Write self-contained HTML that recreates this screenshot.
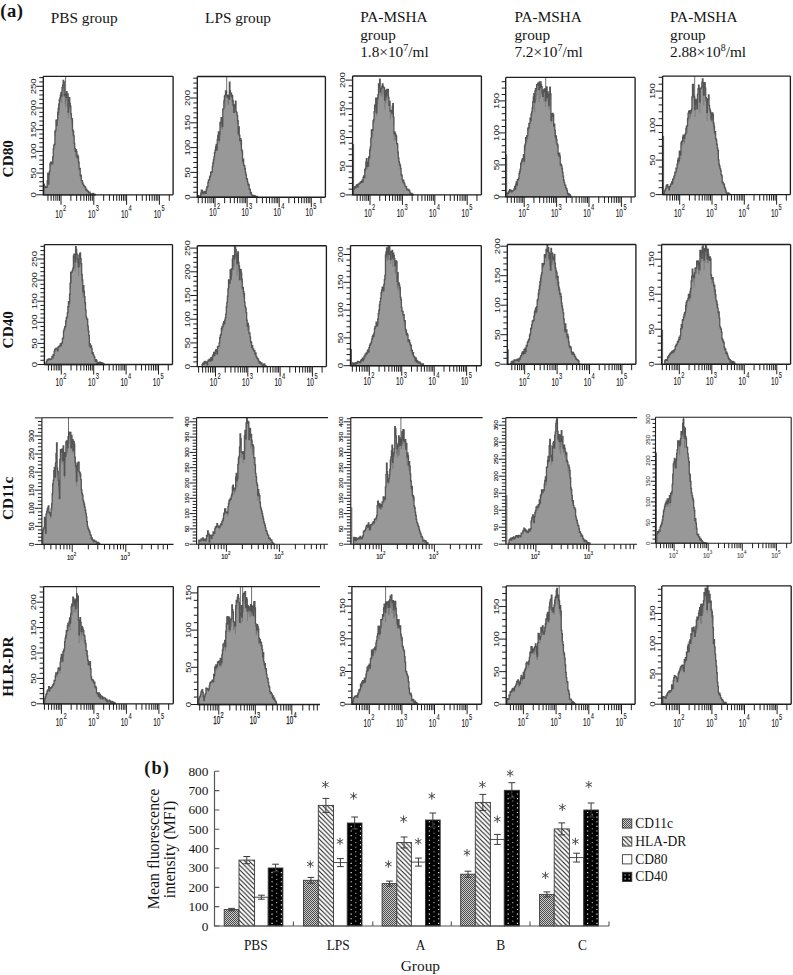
<!DOCTYPE html>
<html><head><meta charset="utf-8"><title>Figure</title>
<style>
html,body{margin:0;padding:0;background:#fff;}
body{width:793px;height:975px;overflow:hidden;}
svg{display:block;font-family:"Liberation Serif",serif;fill:#111;}
svg text{fill:#141414;}
.yl{font-family:"Liberation Sans",sans-serif;font-size:8px;fill:#1a1a1a;stroke:#1a1a1a;stroke-width:0.05px;}
.xl{font-family:"Liberation Sans",sans-serif;font-size:10.6px;fill:#1a1a1a;stroke:#1a1a1a;stroke-width:0.15px;}
.yls{font-family:"Liberation Sans",sans-serif;font-size:6.2px;fill:#111;stroke:#111;stroke-width:0.12px;}
.xl2{font-family:"Liberation Sans",sans-serif;font-size:8px;fill:#111;stroke:#111;stroke-width:0.2px;}
.xs2{font-family:"Liberation Sans",sans-serif;font-size:6.2px;fill:#111;stroke:#111;stroke-width:0.15px;}
.xlm{font-family:"Liberation Sans",sans-serif;font-size:10.4px;fill:#111;stroke:#111;stroke-width:0.25px;}
.xsm{font-family:"Liberation Sans",sans-serif;font-size:8.6px;fill:#111;stroke:#111;stroke-width:0.2px;}
.xs{font-family:"Liberation Sans",sans-serif;font-size:9.3px;fill:#1a1a1a;stroke:#1a1a1a;stroke-width:0.1px;}
</style></head><body>
<svg width="793" height="975" viewBox="0 0 793 975"><rect width="793" height="975" fill="#fff"/>
<path d="M43.9,194.8L43.9,184.21L44.45,184.21L44.45,187.7L45,187.7L45,186.46L45.55,186.46L45.55,187.1L46.1,187.1L46.1,187.14L46.65,187.14L46.65,187.46L47.2,187.46L47.2,180.93L47.75,180.93L47.75,173.03L48.3,173.03L48.3,183.99L48.85,183.99L48.85,174.37L49.4,174.37L49.4,171.47L49.95,171.47L49.95,163.89L50.5,163.89L50.5,162.21L51.05,162.21L51.05,162.27L51.6,162.27L51.6,163.4L52.15,163.4L52.15,163.94L52.7,163.94L52.7,156.89L53.25,156.89L53.25,148.78L53.8,148.78L53.8,145.15L54.35,145.15L54.35,144.31L54.9,144.31L54.9,131.48L55.45,131.48L55.45,130.22L56,130.22L56,120.14L56.55,120.14L56.55,125.43L57.1,125.43L57.1,119.94L57.65,119.94L57.65,112.36L58.2,112.36L58.2,108.29L58.75,108.29L58.75,104.09L59.3,104.09L59.3,99.77L59.85,99.77L59.85,97.78L60.4,97.78L60.4,95L60.95,95L60.95,92.32L61.5,92.32L61.5,96.01L62.05,96.01L62.05,87.55L62.6,87.55L62.6,85.22L63.15,85.22L63.15,80.36L63.7,80.36L63.7,81.97L64.25,81.97L64.25,95.48L64.8,95.48L64.8,94.21L65.35,94.21L65.35,95.84L65.9,95.84L65.9,97.23L66.45,97.23L66.45,91.64L67,91.64L67,97.1L67.55,97.1L67.55,94.02L68.1,94.02L68.1,112.18L68.65,112.18L68.65,97.82L69.2,97.82L69.2,97.71L69.75,97.71L69.75,103.39L70.3,103.39L70.3,106.27L70.85,106.27L70.85,114L71.4,114L71.4,118.37L71.95,118.37L71.95,119L72.5,119L72.5,130.16L73.05,130.16L73.05,131.09L73.6,131.09L73.6,135.88L74.15,135.88L74.15,143.38L74.7,143.38L74.7,148.37L75.25,148.37L75.25,151.4L75.8,151.4L75.8,149.61L76.35,149.61L76.35,151.36L76.9,151.36L76.9,157.48L77.45,157.48L77.45,155.26L78,155.26L78,156.98L78.55,156.98L78.55,162.15L79.1,162.15L79.1,168.78L79.65,168.78L79.65,168.35L80.2,168.35L80.2,175.67L80.75,175.67L80.75,175.22L81.3,175.22L81.3,180.57L81.85,180.57L81.85,180.66L82.4,180.66L82.4,182.98L82.95,182.98L82.95,184.32L83.5,184.32L83.5,185.3L84.05,185.3L84.05,186.13L84.6,186.13L84.6,186.76L85.15,186.76L85.15,187.32L85.7,187.32L85.7,189.9L86.25,189.9L86.25,189.22L86.8,189.22L86.8,190.72L87.35,190.72L87.35,191.08L87.9,191.08L87.9,191.22L88.45,191.22L88.45,192.51L89,192.51L89,192.79L89.55,192.79L89.55,192.21L90.1,192.21L90.1,193.66L90.65,193.66L90.65,194.58L91.2,194.58L91.2,193.98L91.75,193.98L91.75,194.8L92.3,194.8L92.3,193.81L92.85,193.81L92.85,193.34L93.4,193.34L93.4,194.8L93.95,194.8L93.95,194.8L94.5,194.8L94.5,194.12L95.05,194.12L95.25,194.8Z" fill="#989898" stroke="#555555" stroke-width="1.3" stroke-linejoin="miter"/>
<path d="M44.17,184.21v1.22M44.72,187.7v0.71M45.27,186.46v0.88M46.37,187.14v0.69M46.92,187.46v0.36M47.47,180.93v1.39M48.02,173.03v1.46M48.57,183.99v1.05M49.12,174.37v2.27M49.67,171.47v1.1M50.22,163.89v3.02M50.77,162.21v3.33M52.97,156.89v4.47M54.62,144.31v1.86M55.17,131.48v4.39M55.72,130.22v2.67M56.27,120.14v3.64M57.92,112.36v5.07M58.47,108.29v5.98M59.02,104.09v10.82M59.57,99.77v11.03M60.67,95v7.12M61.77,96.01v6.92M62.32,87.55v3.51M63.97,81.97v8.63M65.07,94.21v9.51M65.62,95.84v11.36M66.17,97.23v3.76M67.27,97.1v9.75M67.82,94.02v6.97M68.37,112.18v5.87M69.47,97.71v9.26M70.02,103.39v5.84M71.67,118.37v4.73M72.22,119v6.73M72.77,130.16v5.69M73.32,131.09v5.51M75.52,151.4v5.19M76.07,149.61v4.66M76.62,151.36v3.49M77.72,155.26v3.29M78.27,156.98v4.53M78.82,162.15v3.35M79.37,168.78v1.65M79.92,168.35v2.17M80.47,175.67v1.47M81.02,175.22v1.93M82.12,180.66v0.65M82.67,182.98v1.31M83.22,184.32v0.7M83.77,185.3v0.72M84.32,186.13v0.96M85.97,189.9v0.25M86.52,189.22v0.41M87.07,190.72v0.19M87.62,191.08v0.3" stroke="#555" stroke-width="0.55" fill="none" opacity="0.75"/>
<line x1="65.6" y1="76.3" x2="65.6" y2="95.83" stroke="#4a4a4a" stroke-width="0.8"/>
<path d="M43.3,76.3H173.1M43.3,76.3V194.8H173.1" fill="none" stroke="#1e1e1e" stroke-width="1.35"/>
<line x1="173.1" y1="76.3" x2="173.1" y2="194.8" stroke="#1e1e1e" stroke-width="1.35"/>
<path d="M36.3,194.8H43.3M39.3,190.46H43.3M39.3,186.12H43.3M39.3,181.78H43.3M39.3,177.44H43.3M36.3,173.1H43.3M39.3,168.76H43.3M39.3,164.42H43.3M39.3,160.08H43.3M39.3,155.74H43.3M36.3,151.4H43.3M39.3,147.06H43.3M39.3,142.72H43.3M39.3,138.38H43.3M39.3,134.04H43.3M36.3,129.7H43.3M39.3,125.36H43.3M39.3,121.02H43.3M39.3,116.68H43.3M39.3,112.34H43.3M36.3,108H43.3M39.3,103.66H43.3M39.3,99.32H43.3M39.3,94.98H43.3M39.3,90.64H43.3M36.3,86.3H43.3M39.3,81.96H43.3M39.3,77.62H43.3" stroke="#1e1e1e" stroke-width="1" fill="none"/>
<text transform="translate(36.1,194.8) rotate(-90) scale(1.2,0.93)" text-anchor="middle" class="yl">0</text>
<text transform="translate(36.1,173.1) rotate(-90) scale(1.2,0.93)" text-anchor="middle" class="yl">50</text>
<text transform="translate(36.1,151.4) rotate(-90) scale(1.2,0.93)" text-anchor="middle" class="yl">100</text>
<text transform="translate(36.1,129.7) rotate(-90) scale(1.2,0.93)" text-anchor="middle" class="yl">150</text>
<text transform="translate(36.1,108) rotate(-90) scale(1.2,0.93)" text-anchor="middle" class="yl">200</text>
<text transform="translate(36.1,86.3) rotate(-90) scale(1.2,0.93)" text-anchor="middle" class="yl">250</text>
<path d="M47.95,194.8V200.8M51.13,194.8V200.8M53.72,194.8V200.8M55.92,194.8V200.8M57.82,194.8V200.8M59.5,194.8V200.8M61,194.8V204.8M70.87,194.8V200.8M76.65,194.8V200.8M80.75,194.8V200.8M83.93,194.8V200.8M86.52,194.8V200.8M88.72,194.8V200.8M90.62,194.8V200.8M92.3,194.8V200.8M93.8,194.8V204.8M103.67,194.8V200.8M109.45,194.8V200.8M113.55,194.8V200.8M116.73,194.8V200.8M119.32,194.8V200.8M121.52,194.8V200.8M123.42,194.8V200.8M125.1,194.8V200.8M126.6,194.8V204.8M136.47,194.8V200.8M142.25,194.8V200.8M146.35,194.8V200.8M149.53,194.8V200.8M152.12,194.8V200.8M154.32,194.8V200.8M156.22,194.8V200.8M157.9,194.8V200.8M159.4,194.8V204.8M169.27,194.8V200.8" stroke="#1e1e1e" stroke-width="1" fill="none"/>
<text x="62.6" y="217.9" class="xl" text-anchor="end" transform="translate(62.6,0) scale(0.62,1) translate(-62.6,0)">10</text>
<text x="63" y="210.9" class="xs" transform="translate(63,0) scale(0.62,1) translate(-63,0)">2</text>
<text x="95.4" y="217.9" class="xl" text-anchor="end" transform="translate(95.4,0) scale(0.62,1) translate(-95.4,0)">10</text>
<text x="95.8" y="210.9" class="xs" transform="translate(95.8,0) scale(0.62,1) translate(-95.8,0)">3</text>
<text x="128.2" y="217.9" class="xl" text-anchor="end" transform="translate(128.2,0) scale(0.62,1) translate(-128.2,0)">10</text>
<text x="128.6" y="210.9" class="xs" transform="translate(128.6,0) scale(0.62,1) translate(-128.6,0)">4</text>
<text x="161" y="217.9" class="xl" text-anchor="end" transform="translate(161,0) scale(0.62,1) translate(-161,0)">10</text>
<text x="161.4" y="210.9" class="xs" transform="translate(161.4,0) scale(0.62,1) translate(-161.4,0)">5</text>
<path d="M198,197.2L198,195.55L198.55,195.55L198.55,196.78L199.1,196.78L199.1,196.38L199.65,196.38L199.65,196.47L200.2,196.47L200.2,195.63L200.75,195.63L200.75,193.13L201.3,193.13L201.3,190.23L201.85,190.23L201.85,190.39L202.4,190.39L202.4,192.33L202.95,192.33L202.95,193.83L203.5,193.83L203.5,192.83L204.05,192.83L204.05,191.45L204.6,191.45L204.6,191.57L205.15,191.57L205.15,192.81L205.7,192.81L205.7,193.39L206.25,193.39L206.25,189.52L206.8,189.52L206.8,186.78L207.35,186.78L207.35,186.7L207.9,186.7L207.9,182.36L208.45,182.36L208.45,179.9L209,179.9L209,179.89L209.55,179.89L209.55,176.87L210.1,176.87L210.1,175.86L210.65,175.86L210.65,172.75L211.2,172.75L211.2,171.72L211.75,171.72L211.75,171.95L212.3,171.95L212.3,166.65L212.85,166.65L212.85,162.78L213.4,162.78L213.4,159.78L213.95,159.78L213.95,156.91L214.5,156.91L214.5,152.57L215.05,152.57L215.05,150.23L215.6,150.23L215.6,146.8L216.15,146.8L216.15,144.5L216.7,144.5L216.7,149.84L217.25,149.84L217.25,139.41L217.8,139.41L217.8,135.45L218.35,135.45L218.35,131.89L218.9,131.89L218.9,140.27L219.45,140.27L219.45,134.21L220,134.21L220,122.45L220.55,122.45L220.55,123.2L221.1,123.2L221.1,117.77L221.65,117.77L221.65,119.26L222.2,119.26L222.2,126.23L222.75,126.23L222.75,109.06L223.3,109.06L223.3,108.81L223.85,108.81L223.85,100.82L224.4,100.82L224.4,96.13L224.95,96.13L224.95,95.51L225.5,95.51L225.5,90.85L226.05,90.85L226.05,91.92L226.6,91.92L226.6,95.3L227.15,95.3L227.15,97.38L227.7,97.38L227.7,96.29L228.25,96.29L228.25,95.13L228.8,95.13L228.8,99.01L229.35,99.01L229.35,82.12L229.9,82.12L229.9,90.67L230.45,90.67L230.45,93.27L231,93.27L231,93.23L231.55,93.23L231.55,96.62L232.1,96.62L232.1,95.52L232.65,95.52L232.65,100.37L233.2,100.37L233.2,105.15L233.75,105.15L233.75,112.31L234.3,112.31L234.3,107.17L234.85,107.17L234.85,104.61L235.4,104.61L235.4,101.14L235.95,101.14L235.95,111.32L236.5,111.32L236.5,112.57L237.05,112.57L237.05,115.29L237.6,115.29L237.6,120.65L238.15,120.65L238.15,133.23L238.7,133.23L238.7,126.84L239.25,126.84L239.25,135.2L239.8,135.2L239.8,140.36L240.35,140.36L240.35,138.73L240.9,138.73L240.9,140.59L241.45,140.59L241.45,149.83L242,149.83L242,151.1L242.55,151.1L242.55,161.01L243.1,161.01L243.1,159.23L243.65,159.23L243.65,165.16L244.2,165.16L244.2,165.74L244.75,165.74L244.75,168.49L245.3,168.49L245.3,172.48L245.85,172.48L245.85,174.84L246.4,174.84L246.4,178.64L246.95,178.64L246.95,179.01L247.5,179.01L247.5,182.34L248.05,182.34L248.05,185.07L248.6,185.07L248.6,184.33L249.15,184.33L249.15,188.89L249.7,188.89L249.7,189.43L250.25,189.43L250.25,193.01L250.8,193.01L250.8,192.28L251.35,192.28L251.35,194.36L251.9,194.36L251.9,195.43L252.45,195.43L252.45,196.27L253,196.27L253,195.51L253.55,195.51L253.55,195.77L254.1,195.77L254.1,196.52L254.65,196.52L254.65,195.59L255.2,195.59L255.2,196.77L255.75,196.77L255.75,196.9L256.3,196.9L256.3,197.2L256.85,197.2L256.85,196.32L257.4,196.32L257.55,197.2Z" fill="#989898" stroke="#555555" stroke-width="1.3" stroke-linejoin="miter"/>
<path d="M201.03,193.13v0.37M201.58,190.23v0.72M202.13,190.39v0.41M202.68,192.33v0.27M203.23,193.83v0.2M203.78,192.83v0.36M204.88,191.57v0.67M205.43,192.81v0.14M206.53,189.52v0.43M207.63,186.7v1.19M208.18,182.36v1.12M208.73,179.9v1.21M209.83,176.87v2.44M210.38,175.86v2.21M210.93,172.75v1.69M212.03,171.95v1.13M213.13,162.78v3.15M213.68,159.78v3.76M214.78,152.57v2.17M215.33,150.23v1.94M215.88,146.8v3.99M216.43,144.5v5.95M218.08,135.45v2.15M219.18,140.27v3.07M219.73,134.21v1.93M220.28,122.45v4.07M220.83,123.2v5.05M221.38,117.77v3.96M221.93,119.26v7.54M222.48,126.23v3.26M224.68,96.13v7.78M225.23,95.51v12.1M227.98,96.29v8.43M228.53,95.13v9.7M229.63,82.12v12.79M230.18,90.67v9.13M230.73,93.27v3.78M231.28,93.23v3.84M231.83,96.62v5.77M232.38,95.52v10.72M232.93,100.37v4.74M233.48,105.15v5.25M235.68,101.14v9.7M237.33,115.29v8.37M237.88,120.65v4.09M238.43,133.23v2.85M239.53,135.2v6.34M240.63,138.73v6.11M241.18,140.59v3.93M241.73,149.83v3.81M242.83,161.01v2.33M243.38,159.23v3.91M243.93,165.16v1.08M245.03,168.49v1.68M246.13,174.84v1.17M246.68,178.64v1.13M247.23,179.01v2.06M248.33,185.07v1.17M248.88,184.33v0.79M249.43,188.89v0.43M249.98,189.43v0.65M251.08,192.28v0.57" stroke="#555" stroke-width="0.55" fill="none" opacity="0.75"/>
<line x1="226.7" y1="76.5" x2="226.7" y2="92.9" stroke="#4a4a4a" stroke-width="0.8"/>
<path d="M197.3,76.5H325.4M197.3,76.5V197.2H325.4" fill="none" stroke="#1e1e1e" stroke-width="1.35"/>
<line x1="325.4" y1="76.5" x2="325.4" y2="197.2" stroke="#1e1e1e" stroke-width="1.35"/>
<path d="M190.3,197.2H197.3M193.3,192.24H197.3M193.3,187.28H197.3M193.3,182.32H197.3M193.3,177.36H197.3M190.3,172.4H197.3M193.3,167.44H197.3M193.3,162.48H197.3M193.3,157.52H197.3M193.3,152.56H197.3M190.3,147.6H197.3M193.3,142.64H197.3M193.3,137.68H197.3M193.3,132.72H197.3M193.3,127.76H197.3M190.3,122.8H197.3M193.3,117.84H197.3M193.3,112.88H197.3M193.3,107.92H197.3M193.3,102.96H197.3M190.3,98H197.3M193.3,93.04H197.3M193.3,88.08H197.3M193.3,83.12H197.3M193.3,78.16H197.3" stroke="#1e1e1e" stroke-width="1" fill="none"/>
<text transform="translate(190.1,197.2) rotate(-90) scale(1.2,0.93)" text-anchor="middle" class="yl">0</text>
<text transform="translate(190.1,172.4) rotate(-90) scale(1.2,0.93)" text-anchor="middle" class="yl">50</text>
<text transform="translate(190.1,147.6) rotate(-90) scale(1.2,0.93)" text-anchor="middle" class="yl">100</text>
<text transform="translate(190.1,122.8) rotate(-90) scale(1.2,0.93)" text-anchor="middle" class="yl">150</text>
<text transform="translate(190.1,98) rotate(-90) scale(1.2,0.93)" text-anchor="middle" class="yl">200</text>
<path d="M198.22,197.2V203.2M202.23,197.2V203.2M205.34,197.2V203.2M207.88,197.2V203.2M210.03,197.2V203.2M211.89,197.2V203.2M213.53,197.2V203.2M215,197.2V207.2M224.66,197.2V203.2M230.32,197.2V203.2M234.33,197.2V203.2M237.44,197.2V203.2M239.98,197.2V203.2M242.13,197.2V203.2M243.99,197.2V203.2M245.63,197.2V203.2M247.1,197.2V207.2M256.76,197.2V203.2M262.42,197.2V203.2M266.43,197.2V203.2M269.54,197.2V203.2M272.08,197.2V203.2M274.23,197.2V203.2M276.09,197.2V203.2M277.73,197.2V203.2M279.2,197.2V207.2M288.86,197.2V203.2M294.52,197.2V203.2M298.53,197.2V203.2M301.64,197.2V203.2M304.18,197.2V203.2M306.33,197.2V203.2M308.19,197.2V203.2M309.83,197.2V203.2M311.3,197.2V207.2M320.96,197.2V203.2" stroke="#1e1e1e" stroke-width="1" fill="none"/>
<text x="216.6" y="216.2" class="xl" text-anchor="end" transform="translate(216.6,0) scale(0.62,1) translate(-216.6,0)">10</text>
<text x="217" y="209.2" class="xs" transform="translate(217,0) scale(0.62,1) translate(-217,0)">2</text>
<text x="248.7" y="216.2" class="xl" text-anchor="end" transform="translate(248.7,0) scale(0.62,1) translate(-248.7,0)">10</text>
<text x="249.1" y="209.2" class="xs" transform="translate(249.1,0) scale(0.62,1) translate(-249.1,0)">3</text>
<text x="280.8" y="216.2" class="xl" text-anchor="end" transform="translate(280.8,0) scale(0.62,1) translate(-280.8,0)">10</text>
<text x="281.2" y="209.2" class="xs" transform="translate(281.2,0) scale(0.62,1) translate(-281.2,0)">4</text>
<text x="312.9" y="216.2" class="xl" text-anchor="end" transform="translate(312.9,0) scale(0.62,1) translate(-312.9,0)">10</text>
<text x="313.3" y="209.2" class="xs" transform="translate(313.3,0) scale(0.62,1) translate(-313.3,0)">5</text>
<path d="M353.2,194.9L353.2,188.32L353.75,188.32L353.75,188.83L354.3,188.83L354.3,187.28L354.85,187.28L354.85,186.62L355.4,186.62L355.4,187.92L355.95,187.92L355.95,185.92L356.5,185.92L356.5,185.11L357.05,185.11L357.05,184.53L357.6,184.53L357.6,186.96L358.15,186.96L358.15,184.15L358.7,184.15L358.7,184L359.25,184L359.25,183.26L359.8,183.26L359.8,183.42L360.35,183.42L360.35,181.82L360.9,181.82L360.9,182.29L361.45,182.29L361.45,181.59L362,181.59L362,180.17L362.55,180.17L362.55,182.17L363.1,182.17L363.1,177.36L363.65,177.36L363.65,176.01L364.2,176.01L364.2,177.6L364.75,177.6L364.75,169.55L365.3,169.55L365.3,168.48L365.85,168.48L365.85,162.23L366.4,162.23L366.4,158.6L366.95,158.6L366.95,166.43L367.5,166.43L367.5,162.15L368.05,162.15L368.05,166.09L368.6,166.09L368.6,156.99L369.15,156.99L369.15,157.33L369.7,157.33L369.7,149.95L370.25,149.95L370.25,147.1L370.8,147.1L370.8,138.31L371.35,138.31L371.35,130.17L371.9,130.17L371.9,129.74L372.45,129.74L372.45,130.23L373,130.23L373,121.01L373.55,121.01L373.55,119.54L374.1,119.54L374.1,111.61L374.65,111.61L374.65,105.52L375.2,105.52L375.2,104.52L375.75,104.52L375.75,98.22L376.3,98.22L376.3,112.79L376.85,112.79L376.85,98.93L377.4,98.93L377.4,97.96L377.95,97.96L377.95,94.6L378.5,94.6L378.5,83.85L379.05,83.85L379.05,87.04L379.6,87.04L379.6,79.23L380.15,79.23L380.15,92.12L380.7,92.12L380.7,89.05L381.25,89.05L381.25,88.29L381.8,88.29L381.8,86.28L382.35,86.28L382.35,83.9L382.9,83.9L382.9,86.03L383.45,86.03L383.45,87.41L384,87.41L384,87.93L384.55,87.93L384.55,100.11L385.1,100.11L385.1,90.48L385.65,90.48L385.65,96.8L386.2,96.8L386.2,95.38L386.75,95.38L386.75,89.35L387.3,89.35L387.3,91.66L387.85,91.66L387.85,89.46L388.4,89.46L388.4,97.5L388.95,97.5L388.95,105.36L389.5,105.36L389.5,101.36L390.05,101.36L390.05,111.12L390.6,111.12L390.6,111.05L391.15,111.05L391.15,110.45L391.7,110.45L391.7,113.01L392.25,113.01L392.25,106.04L392.8,106.04L392.8,103.65L393.35,103.65L393.35,117.21L393.9,117.21L393.9,133.57L394.45,133.57L394.45,131.89L395,131.89L395,133.36L395.55,133.36L395.55,135.02L396.1,135.02L396.1,136.24L396.65,136.24L396.65,143.66L397.2,143.66L397.2,143.84L397.75,143.84L397.75,152.16L398.3,152.16L398.3,157.82L398.85,157.82L398.85,161.66L399.4,161.66L399.4,163.94L399.95,163.94L399.95,165.06L400.5,165.06L400.5,168.5L401.05,168.5L401.05,174.49L401.6,174.49L401.6,175.52L402.15,175.52L402.15,179.57L402.7,179.57L402.7,181.52L403.25,181.52L403.25,180.41L403.8,180.41L403.8,182.92L404.35,182.92L404.35,183.87L404.9,183.87L404.9,186.22L405.45,186.22L405.45,186.53L406,186.53L406,186.68L406.55,186.68L406.55,189.02L407.1,189.02L407.1,189.57L407.65,189.57L407.65,189.78L408.2,189.78L408.2,189.32L408.75,189.32L408.75,190.11L409.3,190.11L409.3,190.9L409.85,190.9L409.85,192.89L410.4,192.89L410.4,193.92L410.95,193.92L410.95,194.9L411.5,194.9L411.5,193.47L412.05,193.47L412.05,194.06L412.6,194.06L412.6,194.41L413.15,194.41L413.25,194.9Z" fill="#989898" stroke="#555555" stroke-width="1.3" stroke-linejoin="miter"/>
<path d="M353.48,188.32v0.4M354.03,188.83v0.63M355.13,186.62v0.56M355.68,187.92v0.48M357.33,184.53v0.51M357.88,186.96v0.48M358.43,184.15v1.22M360.08,183.42v0.45M360.63,181.82v1.45M361.73,181.59v1.44M362.28,180.17v1.47M363.93,176.01v2.18M365.03,169.55v2.98M365.58,168.48v2.3M366.68,158.6v4.31M367.23,166.43v2.77M368.88,156.99v3.34M369.43,157.33v2.43M369.98,149.95v3.09M370.53,147.1v3.01M372.18,129.74v7.37M372.73,130.23v7.34M373.83,119.54v3.82M374.93,105.52v3.27M375.48,104.52v4.65M376.03,98.22v8.75M376.58,112.79v2.95M377.13,98.93v9.86M377.68,97.96v5.72M378.23,94.6v5.48M378.78,83.85v5.13M379.33,87.04v6.72M379.88,79.23v4.39M380.98,89.05v6.82M382.08,86.28v10.82M382.63,83.9v3.98M383.18,86.03v8.71M384.83,100.11v9.55M385.38,90.48v8.84M385.93,96.8v6.76M387.03,89.35v10.78M388.13,89.46v5.75M390.33,111.12v8.39M391.43,110.45v2.62M391.98,113.01v2.95M392.53,106.04v2.83M393.63,117.21v8M394.18,133.57v7.13M394.73,131.89v4.26M395.28,133.36v6.9M395.83,135.02v6.19M397.48,143.84v5.58M398.03,152.16v2.85M398.58,157.82v3.51M399.13,161.66v1.3M399.68,163.94v2.67M400.23,165.06v1.54M401.33,174.49v1.66M402.98,181.52v0.94M403.53,180.41v1.57M404.08,182.92v1.08M405.18,186.22v0.67M405.73,186.53v0.41M406.28,186.68v0.29M407.38,189.57v0.2M407.93,189.78v0.23M408.48,189.32v0.47M409.03,190.11v0.54M409.58,190.9v0.4" stroke="#555" stroke-width="0.55" fill="none" opacity="0.75"/>
<line x1="353.6" y1="144" x2="353.6" y2="194.9" stroke="#555" stroke-width="0.9"/>
<path d="M352.6,76H481.4M352.6,76V194.9H481.4" fill="none" stroke="#1e1e1e" stroke-width="1.35"/>
<line x1="481.4" y1="76" x2="481.4" y2="194.9" stroke="#1e1e1e" stroke-width="1.35"/>
<path d="M345.6,194.9H352.6M348.6,189.16H352.6M348.6,183.42H352.6M348.6,177.68H352.6M348.6,171.94H352.6M345.6,166.2H352.6M348.6,160.46H352.6M348.6,154.72H352.6M348.6,148.98H352.6M348.6,143.24H352.6M345.6,137.5H352.6M348.6,131.76H352.6M348.6,126.02H352.6M348.6,120.28H352.6M348.6,114.54H352.6M345.6,108.8H352.6M348.6,103.06H352.6M348.6,97.32H352.6M348.6,91.58H352.6M348.6,85.84H352.6M345.6,80.1H352.6" stroke="#1e1e1e" stroke-width="1" fill="none"/>
<text transform="translate(345.4,194.9) rotate(-90) scale(1.2,0.93)" text-anchor="middle" class="yl">0</text>
<text transform="translate(345.4,166.2) rotate(-90) scale(1.2,0.93)" text-anchor="middle" class="yl">50</text>
<text transform="translate(345.4,137.5) rotate(-90) scale(1.2,0.93)" text-anchor="middle" class="yl">100</text>
<text transform="translate(345.4,108.8) rotate(-90) scale(1.2,0.93)" text-anchor="middle" class="yl">150</text>
<text transform="translate(345.4,80.1) rotate(-90) scale(1.2,0.93)" text-anchor="middle" class="yl">200</text>
<path d="M357.11,194.9V200.9M360.25,194.9V200.9M362.81,194.9V200.9M364.98,194.9V200.9M366.86,194.9V200.9M368.52,194.9V200.9M370,194.9V204.9M379.75,194.9V200.9M385.46,194.9V200.9M389.51,194.9V200.9M392.65,194.9V200.9M395.21,194.9V200.9M397.38,194.9V200.9M399.26,194.9V200.9M400.92,194.9V200.9M402.4,194.9V204.9M412.15,194.9V200.9M417.86,194.9V200.9M421.91,194.9V200.9M425.05,194.9V200.9M427.61,194.9V200.9M429.78,194.9V200.9M431.66,194.9V200.9M433.32,194.9V200.9M434.8,194.9V204.9M444.55,194.9V200.9M450.26,194.9V200.9M454.31,194.9V200.9M457.45,194.9V200.9M460.01,194.9V200.9M462.18,194.9V200.9M464.06,194.9V200.9M465.72,194.9V200.9M467.2,194.9V204.9M476.95,194.9V200.9" stroke="#1e1e1e" stroke-width="1" fill="none"/>
<text x="371.6" y="217.2" class="xl" text-anchor="end" transform="translate(371.6,0) scale(0.62,1) translate(-371.6,0)">10</text>
<text x="372" y="210.2" class="xs" transform="translate(372,0) scale(0.62,1) translate(-372,0)">2</text>
<text x="404" y="217.2" class="xl" text-anchor="end" transform="translate(404,0) scale(0.62,1) translate(-404,0)">10</text>
<text x="404.4" y="210.2" class="xs" transform="translate(404.4,0) scale(0.62,1) translate(-404.4,0)">3</text>
<text x="436.4" y="217.2" class="xl" text-anchor="end" transform="translate(436.4,0) scale(0.62,1) translate(-436.4,0)">10</text>
<text x="436.8" y="210.2" class="xs" transform="translate(436.8,0) scale(0.62,1) translate(-436.8,0)">4</text>
<text x="468.8" y="217.2" class="xl" text-anchor="end" transform="translate(468.8,0) scale(0.62,1) translate(-468.8,0)">10</text>
<text x="469.2" y="210.2" class="xs" transform="translate(469.2,0) scale(0.62,1) translate(-469.2,0)">5</text>
<path d="M506.9,196.9L506.9,192.93L507.45,192.93L507.45,193.62L508,193.62L508,193.25L508.55,193.25L508.55,191.05L509.1,191.05L509.1,191.86L509.65,191.86L509.65,189.61L510.2,189.61L510.2,190.66L510.75,190.66L510.75,190.42L511.3,190.42L511.3,191.92L511.85,191.92L511.85,191.22L512.4,191.22L512.4,191.11L512.95,191.11L512.95,190.43L513.5,190.43L513.5,190.44L514.05,190.44L514.05,188.54L514.6,188.54L514.6,186.28L515.15,186.28L515.15,189.21L515.7,189.21L515.7,184.09L516.25,184.09L516.25,181.89L516.8,181.89L516.8,185.08L517.35,185.08L517.35,179.66L517.9,179.66L517.9,179.81L518.45,179.81L518.45,178.21L519,178.21L519,173.65L519.55,173.65L519.55,171.52L520.1,171.52L520.1,169.16L520.65,169.16L520.65,163.55L521.2,163.55L521.2,162.12L521.75,162.12L521.75,160.04L522.3,160.04L522.3,158.67L522.85,158.67L522.85,159.96L523.4,159.96L523.4,154.69L523.95,154.69L523.95,161.15L524.5,161.15L524.5,146.26L525.05,146.26L525.05,144.04L525.6,144.04L525.6,137.76L526.15,137.76L526.15,137.59L526.7,137.59L526.7,135.88L527.25,135.88L527.25,135.55L527.8,135.55L527.8,128.18L528.35,128.18L528.35,127.97L528.9,127.97L528.9,123.52L529.45,123.52L529.45,123.28L530,123.28L530,118.05L530.55,118.05L530.55,120.19L531.1,120.19L531.1,114L531.65,114L531.65,111.85L532.2,111.85L532.2,107.95L532.75,107.95L532.75,101.58L533.3,101.58L533.3,97L533.85,97L533.85,93.54L534.4,93.54L534.4,102.08L534.95,102.08L534.95,90.83L535.5,90.83L535.5,88.55L536.05,88.55L536.05,90.19L536.6,90.19L536.6,84.61L537.15,84.61L537.15,84.93L537.7,84.93L537.7,83.34L538.25,83.34L538.25,82.91L538.8,82.91L538.8,89.36L539.35,89.36L539.35,81.89L539.9,81.89L539.9,87.46L540.45,87.46L540.45,81.82L541,81.82L541,84.91L541.55,84.91L541.55,86.75L542.1,86.75L542.1,93.53L542.65,93.53L542.65,96.3L543.2,96.3L543.2,89.91L543.75,89.91L543.75,91.52L544.3,91.52L544.3,88.86L544.85,88.86L544.85,88.79L545.4,88.79L545.4,100.65L545.95,100.65L545.95,93.41L546.5,93.41L546.5,87L547.05,87L547.05,97.58L547.6,97.58L547.6,91.96L548.15,91.96L548.15,95.22L548.7,95.22L548.7,105.68L549.25,105.68L549.25,94.37L549.8,94.37L549.8,87.03L550.35,87.03L550.35,93.81L550.9,93.81L550.9,120.3L551.45,120.3L551.45,113.64L552,113.64L552,116.25L552.55,116.25L552.55,113.32L553.1,113.32L553.1,114.74L553.65,114.74L553.65,126.18L554.2,126.18L554.2,124.04L554.75,124.04L554.75,130.21L555.3,130.21L555.3,137.2L555.85,137.2L555.85,135.88L556.4,135.88L556.4,139.47L556.95,139.47L556.95,143.85L557.5,143.85L557.5,144.96L558.05,144.96L558.05,154.12L558.6,154.12L558.6,155.84L559.15,155.84L559.15,153.13L559.7,153.13L559.7,156.21L560.25,156.21L560.25,164.81L560.8,164.81L560.8,164.22L561.35,164.22L561.35,165.68L561.9,165.68L561.9,168.48L562.45,168.48L562.45,172.48L563,172.48L563,176.2L563.55,176.2L563.55,180.27L564.1,180.27L564.1,182.5L564.65,182.5L564.65,185.08L565.2,185.08L565.2,185.2L565.75,185.2L565.75,187.79L566.3,187.79L566.3,188.64L566.85,188.64L566.85,190.44L567.4,190.44L567.4,193.1L567.95,193.1L567.95,194.69L568.5,194.69L568.5,193.59L569.05,193.59L569.05,195.1L569.6,195.1L569.6,194.77L570.15,194.77L570.15,195.66L570.7,195.66L570.7,196.9L571.25,196.9L571.45,196.9Z" fill="#989898" stroke="#555555" stroke-width="1.3" stroke-linejoin="miter"/>
<path d="M507.17,192.93v0.45M507.72,193.62v0.34M509.38,191.86v0.6M509.93,189.61v0.85M512.13,191.22v0.39M512.68,191.11v0.32M515.42,189.21v0.65M515.97,184.09v0.96M516.52,181.89v0.93M517.07,185.08v1.32M518.17,179.81v0.68M518.72,178.21v0.97M519.27,173.65v1.09M519.82,171.52v1.95M520.37,169.16v3.05M520.92,163.55v2.39M521.47,162.12v1.4M522.02,160.04v1.67M522.57,158.67v3.08M523.67,154.69v3.82M524.22,161.15v3.89M525.32,144.04v6.1M525.87,137.76v6.41M526.42,137.59v3.52M526.97,135.88v6.16M527.52,135.55v3.49M528.07,128.18v3.76M528.62,127.97v3M529.17,123.52v3.02M529.72,123.28v5.82M531.37,114v7.94M532.47,107.95v3.36M533.57,97v3.1M534.67,102.08v10.06M535.22,90.83v12.46M536.32,90.19v9.76M536.87,84.61v11.23M538.52,82.91v3.85M539.07,89.36v12.87M540.17,87.46v11.1M540.72,81.82v7.31M541.27,84.91v5.25M543.47,89.91v7.16M544.02,91.52v10.71M545.12,88.79v3.51M545.67,100.65v6.23M546.77,87v8.13M547.32,97.58v3.53M548.97,105.68v3.48M549.52,94.37v9.75M550.07,87.03v9.75M550.62,93.81v5.81M551.17,120.3v2.73M552.27,116.25v4.94M553.37,114.74v6.29M554.47,124.04v3.72M555.02,130.21v6.2M555.57,137.2v6M557.22,143.85v1.87M557.77,144.96v3.6M559.42,153.13v2.73M559.97,156.21v1.5M561.07,164.22v3.08M562.17,168.48v2.08M564.92,185.08v0.45M565.47,185.2v1.18M566.02,187.79v1.02M566.57,188.64v0.56M567.67,193.1v0.34M568.77,193.59v0.2" stroke="#555" stroke-width="0.55" fill="none" opacity="0.75"/>
<line x1="545.7" y1="77.4" x2="545.7" y2="92" stroke="#4a4a4a" stroke-width="0.8"/>
<line x1="506.7" y1="154.2" x2="506.7" y2="196.9" stroke="#555" stroke-width="0.9"/>
<path d="M505.7,77.4H635.1M505.7,77.4V196.9H635.1" fill="none" stroke="#1e1e1e" stroke-width="1.35"/>
<line x1="635.1" y1="77.4" x2="635.1" y2="196.9" stroke="#1e1e1e" stroke-width="1.35"/>
<path d="M498.7,196.9H505.7M501.7,190.5H505.7M501.7,184.1H505.7M501.7,177.7H505.7M501.7,171.3H505.7M498.7,164.9H505.7M501.7,158.5H505.7M501.7,152.1H505.7M501.7,145.7H505.7M501.7,139.3H505.7M498.7,132.9H505.7M501.7,126.5H505.7M501.7,120.1H505.7M501.7,113.7H505.7M501.7,107.3H505.7M498.7,100.9H505.7M501.7,94.5H505.7M501.7,88.1H505.7M501.7,81.7H505.7" stroke="#1e1e1e" stroke-width="1" fill="none"/>
<text transform="translate(498.5,196.9) rotate(-90) scale(1.2,0.93)" text-anchor="middle" class="yl">0</text>
<text transform="translate(498.5,164.9) rotate(-90) scale(1.2,0.93)" text-anchor="middle" class="yl">50</text>
<text transform="translate(498.5,132.9) rotate(-90) scale(1.2,0.93)" text-anchor="middle" class="yl">100</text>
<text transform="translate(498.5,100.9) rotate(-90) scale(1.2,0.93)" text-anchor="middle" class="yl">150</text>
<path d="M507.26,196.9V202.9M511.31,196.9V202.9M514.45,196.9V202.9M517.01,196.9V202.9M519.18,196.9V202.9M521.06,196.9V202.9M522.72,196.9V202.9M524.2,196.9V206.9M533.95,196.9V202.9M539.66,196.9V202.9M543.71,196.9V202.9M546.85,196.9V202.9M549.41,196.9V202.9M551.58,196.9V202.9M553.46,196.9V202.9M555.12,196.9V202.9M556.6,196.9V206.9M566.35,196.9V202.9M572.06,196.9V202.9M576.11,196.9V202.9M579.25,196.9V202.9M581.81,196.9V202.9M583.98,196.9V202.9M585.86,196.9V202.9M587.52,196.9V202.9M589,196.9V206.9M598.75,196.9V202.9M604.46,196.9V202.9M608.51,196.9V202.9M611.65,196.9V202.9M614.21,196.9V202.9M616.38,196.9V202.9M618.26,196.9V202.9M619.92,196.9V202.9M621.4,196.9V206.9M631.15,196.9V202.9" stroke="#1e1e1e" stroke-width="1" fill="none"/>
<text x="525.8" y="217" class="xl" text-anchor="end" transform="translate(525.8,0) scale(0.62,1) translate(-525.8,0)">10</text>
<text x="526.2" y="210" class="xs" transform="translate(526.2,0) scale(0.62,1) translate(-526.2,0)">2</text>
<text x="558.2" y="217" class="xl" text-anchor="end" transform="translate(558.2,0) scale(0.62,1) translate(-558.2,0)">10</text>
<text x="558.6" y="210" class="xs" transform="translate(558.6,0) scale(0.62,1) translate(-558.6,0)">3</text>
<text x="590.6" y="217" class="xl" text-anchor="end" transform="translate(590.6,0) scale(0.62,1) translate(-590.6,0)">10</text>
<text x="591" y="210" class="xs" transform="translate(591,0) scale(0.62,1) translate(-591,0)">4</text>
<text x="623" y="217" class="xl" text-anchor="end" transform="translate(623,0) scale(0.62,1) translate(-623,0)">10</text>
<text x="623.4" y="210" class="xs" transform="translate(623.4,0) scale(0.62,1) translate(-623.4,0)">5</text>
<path d="M663.9,194.6L663.9,193.46L664.45,193.46L664.45,190.97L665,190.97L665,189.79L665.55,189.79L665.55,188.39L666.1,188.39L666.1,185.81L666.65,185.81L666.65,185.09L667.2,185.09L667.2,184.68L667.75,184.68L667.75,186.74L668.3,186.74L668.3,187.23L668.85,187.23L668.85,189.75L669.4,189.75L669.4,186.42L669.95,186.42L669.95,186.67L670.5,186.67L670.5,184.14L671.05,184.14L671.05,184.21L671.6,184.21L671.6,181.88L672.15,181.88L672.15,183.51L672.7,183.51L672.7,179.13L673.25,179.13L673.25,178.83L673.8,178.83L673.8,176.87L674.35,176.87L674.35,175.46L674.9,175.46L674.9,172.09L675.45,172.09L675.45,172.24L676,172.24L676,168.2L676.55,168.2L676.55,168.12L677.1,168.12L677.1,164.03L677.65,164.03L677.65,160.1L678.2,160.1L678.2,158.1L678.75,158.1L678.75,161.18L679.3,161.18L679.3,151.1L679.85,151.1L679.85,154.19L680.4,154.19L680.4,154.82L680.95,154.82L680.95,142.82L681.5,142.82L681.5,141.57L682.05,141.57L682.05,141.12L682.6,141.12L682.6,137.25L683.15,137.25L683.15,135.17L683.7,135.17L683.7,137.9L684.25,137.9L684.25,138.34L684.8,138.34L684.8,134.84L685.35,134.84L685.35,133.5L685.9,133.5L685.9,128.47L686.45,128.47L686.45,126.08L687,126.08L687,125.93L687.55,125.93L687.55,118.45L688.1,118.45L688.1,113.06L688.65,113.06L688.65,111.11L689.2,111.11L689.2,113.09L689.75,113.09L689.75,110.65L690.3,110.65L690.3,112.78L690.85,112.78L690.85,111.21L691.4,111.21L691.4,109.12L691.95,109.12L691.95,96.87L692.5,96.87L692.5,84.5L693.05,84.5L693.05,84.47L693.6,84.47L693.6,96.16L694.15,96.16L694.15,97.25L694.7,97.25L694.7,109.47L695.25,109.47L695.25,104.19L695.8,104.19L695.8,99.41L696.35,99.41L696.35,100.05L696.9,100.05L696.9,108.86L697.45,108.86L697.45,94.44L698,94.44L698,88.53L698.55,88.53L698.55,85.13L699.1,85.13L699.1,89.33L699.65,89.33L699.65,101.94L700.2,101.94L700.2,88.47L700.75,88.47L700.75,88.48L701.3,88.48L701.3,87.04L701.85,87.04L701.85,82.19L702.4,82.19L702.4,78.89L702.95,78.89L702.95,82.66L703.5,82.66L703.5,95.14L704.05,95.14L704.05,88.02L704.6,88.02L704.6,82.6L705.15,82.6L705.15,88.11L705.7,88.11L705.7,97.7L706.25,97.7L706.25,100.03L706.8,100.03L706.8,112.41L707.35,112.41L707.35,99.34L707.9,99.34L707.9,98.56L708.45,98.56L708.45,95L709,95L709,105.34L709.55,105.34L709.55,108.87L710.1,108.87L710.1,110.92L710.65,110.92L710.65,112.89L711.2,112.89L711.2,119.07L711.75,119.07L711.75,113.61L712.3,113.61L712.3,112.87L712.85,112.87L712.85,114.63L713.4,114.63L713.4,122.91L713.95,122.91L713.95,126.13L714.5,126.13L714.5,132.48L715.05,132.48L715.05,131.71L715.6,131.71L715.6,138.61L716.15,138.61L716.15,139.96L716.7,139.96L716.7,144.26L717.25,144.26L717.25,148.07L717.8,148.07L717.8,150.41L718.35,150.41L718.35,159.89L718.9,159.89L718.9,164.11L719.45,164.11L719.45,166.15L720,166.15L720,168.57L720.55,168.57L720.55,170.66L721.1,170.66L721.1,174.74L721.65,174.74L721.65,175.91L722.2,175.91L722.2,182.71L722.75,182.71L722.75,182.3L723.3,182.3L723.3,183.67L723.85,183.67L723.85,184.76L724.4,184.76L724.4,187.24L724.95,187.24L724.95,188.35L725.5,188.35L725.5,190.34L726.05,190.34L726.05,192.14L726.6,192.14L726.6,193.17L727.15,193.17L727.15,193.17L727.7,193.17L727.7,194.6L728.25,194.6L728.25,192.96L728.8,192.96L728.8,194.6L729.35,194.6L729.35,193.85L729.9,193.85L730.35,194.6Z" fill="#989898" stroke="#555555" stroke-width="1.3" stroke-linejoin="miter"/>
<path d="M664.72,190.97v0.2M665.82,188.39v0.6M666.37,185.81v0.9M666.92,185.09v0.31M668.57,187.23v0.28M669.12,189.75v0.17M670.77,184.14v0.92M671.32,184.21v0.47M672.42,183.51v1.06M672.97,179.13v1.48M673.52,178.83v1.24M674.62,175.46v1.88M675.17,172.09v2.5M675.72,172.24v0.99M676.27,168.2v1.99M676.82,168.12v3.13M677.37,164.03v2.76M677.92,160.1v2.04M678.47,158.1v2.22M679.02,161.18v2.91M679.57,151.1v4.65M680.67,154.82v4.57M681.77,141.57v3.36M682.32,141.12v5.4M682.87,137.25v1.83M683.42,135.17v6.94M683.97,137.9v4.52M684.52,138.34v5.27M685.62,133.5v1.94M686.17,128.47v3.49M687.27,125.93v7.46M687.82,118.45v3.21M688.92,111.11v9.31M690.02,110.65v7.79M690.57,112.78v3.51M691.12,111.21v2.93M691.67,109.12v2.62M692.22,96.87v3.23M692.77,84.5v3.48M694.42,97.25v4.49M694.97,109.47v7.53M696.62,100.05v8.85M697.72,94.44v8.37M699.37,89.33v7.98M699.92,101.94v10.54M700.47,88.47v11.15M702.67,78.89v8.47M703.22,82.66v10.75M703.77,95.14v10.12M704.32,88.02v7.89M704.87,82.6v12.99M705.97,97.7v3.79M706.52,100.03v4.61M707.07,112.41v8.55M707.62,99.34v3.48M708.72,95v6.43M709.82,108.87v4.1M710.37,110.92v6.96M710.92,112.89v8.08M711.47,119.07v2.95M712.57,112.87v7.96M713.12,114.63v9.16M713.67,122.91v5.64M714.22,126.13v5.82M714.77,132.48v2.69M716.42,139.96v2.12M718.07,150.41v3.83M718.62,159.89v2.02M719.17,164.11v3.4M719.72,166.15v1.37M721.92,175.91v0.71M723.57,183.67v0.61M725.22,188.35v0.47M725.77,190.34v0.46" stroke="#555" stroke-width="0.55" fill="none" opacity="0.75"/>
<line x1="694.7" y1="76.1" x2="694.7" y2="105" stroke="#4a4a4a" stroke-width="0.8"/>
<line x1="663.6" y1="136" x2="663.6" y2="194.6" stroke="#555" stroke-width="0.9"/>
<path d="M662.6,76.1H790.4M662.6,76.1V194.6H790.4" fill="none" stroke="#1e1e1e" stroke-width="1.35"/>
<line x1="790.4" y1="76.1" x2="790.4" y2="194.6" stroke="#1e1e1e" stroke-width="1.35"/>
<path d="M655.6,194.6H662.6M658.6,187.7H662.6M658.6,180.8H662.6M658.6,173.9H662.6M658.6,167H662.6M655.6,160.1H662.6M658.6,153.2H662.6M658.6,146.3H662.6M658.6,139.4H662.6M658.6,132.5H662.6M655.6,125.6H662.6M658.6,118.7H662.6M658.6,111.8H662.6M658.6,104.9H662.6M658.6,98H662.6M655.6,91.1H662.6M658.6,84.2H662.6M658.6,77.3H662.6" stroke="#1e1e1e" stroke-width="1" fill="none"/>
<text transform="translate(655.4,194.6) rotate(-90) scale(1.2,0.93)" text-anchor="middle" class="yl">0</text>
<text transform="translate(655.4,160.1) rotate(-90) scale(1.2,0.93)" text-anchor="middle" class="yl">50</text>
<text transform="translate(655.4,125.6) rotate(-90) scale(1.2,0.93)" text-anchor="middle" class="yl">100</text>
<text transform="translate(655.4,91.1) rotate(-90) scale(1.2,0.93)" text-anchor="middle" class="yl">150</text>
<path d="M666.85,194.6V200.6M669.98,194.6V200.6M672.53,194.6V200.6M674.7,194.6V200.6M676.57,194.6V200.6M678.22,194.6V200.6M679.7,194.6V204.6M689.42,194.6V200.6M695.11,194.6V200.6M699.15,194.6V200.6M702.28,194.6V200.6M704.83,194.6V200.6M707,194.6V200.6M708.87,194.6V200.6M710.52,194.6V200.6M712,194.6V204.6M721.72,194.6V200.6M727.41,194.6V200.6M731.45,194.6V200.6M734.58,194.6V200.6M737.13,194.6V200.6M739.3,194.6V200.6M741.17,194.6V200.6M742.82,194.6V200.6M744.3,194.6V204.6M754.02,194.6V200.6M759.71,194.6V200.6M763.75,194.6V200.6M766.88,194.6V200.6M769.43,194.6V200.6M771.6,194.6V200.6M773.47,194.6V200.6M775.12,194.6V200.6M776.6,194.6V204.6M786.32,194.6V200.6" stroke="#1e1e1e" stroke-width="1" fill="none"/>
<text x="681.3" y="217.2" class="xl" text-anchor="end" transform="translate(681.3,0) scale(0.62,1) translate(-681.3,0)">10</text>
<text x="681.7" y="210.2" class="xs" transform="translate(681.7,0) scale(0.62,1) translate(-681.7,0)">2</text>
<text x="713.6" y="217.2" class="xl" text-anchor="end" transform="translate(713.6,0) scale(0.62,1) translate(-713.6,0)">10</text>
<text x="714" y="210.2" class="xs" transform="translate(714,0) scale(0.62,1) translate(-714,0)">3</text>
<text x="745.9" y="217.2" class="xl" text-anchor="end" transform="translate(745.9,0) scale(0.62,1) translate(-745.9,0)">10</text>
<text x="746.3" y="210.2" class="xs" transform="translate(746.3,0) scale(0.62,1) translate(-746.3,0)">4</text>
<text x="778.2" y="217.2" class="xl" text-anchor="end" transform="translate(778.2,0) scale(0.62,1) translate(-778.2,0)">10</text>
<text x="778.6" y="210.2" class="xs" transform="translate(778.6,0) scale(0.62,1) translate(-778.6,0)">5</text>
<path d="M45.9,364.5L45.9,362.92L46.45,362.92L46.45,361.6L47,361.6L47,359.94L47.55,359.94L47.55,359.99L48.1,359.99L48.1,359.13L48.65,359.13L48.65,358.87L49.2,358.87L49.2,358.88L49.75,358.88L49.75,359.56L50.3,359.56L50.3,359.14L50.85,359.14L50.85,359.2L51.4,359.2L51.4,358.86L51.95,358.86L51.95,356.38L52.5,356.38L52.5,357.64L53.05,357.64L53.05,354.66L53.6,354.66L53.6,355.08L54.15,355.08L54.15,351.38L54.7,351.38L54.7,349.39L55.25,349.39L55.25,349.45L55.8,349.45L55.8,348.43L56.35,348.43L56.35,348.63L56.9,348.63L56.9,348.2L57.45,348.2L57.45,350.48L58,350.48L58,347.21L58.55,347.21L58.55,346.56L59.1,346.56L59.1,346.13L59.65,346.13L59.65,345.91L60.2,345.91L60.2,343.79L60.75,343.79L60.75,345.51L61.3,345.51L61.3,343.44L61.85,343.44L61.85,342.79L62.4,342.79L62.4,338.22L62.95,338.22L62.95,338.07L63.5,338.07L63.5,331.15L64.05,331.15L64.05,329.08L64.6,329.08L64.6,326.9L65.15,326.9L65.15,326.48L65.7,326.48L65.7,320.96L66.25,320.96L66.25,317.99L66.8,317.99L66.8,317.12L67.35,317.12L67.35,312.91L67.9,312.91L67.9,306.54L68.45,306.54L68.45,301.69L69,301.69L69,302.99L69.55,302.99L69.55,294.25L70.1,294.25L70.1,283.03L70.65,283.03L70.65,272.36L71.2,272.36L71.2,272.27L71.75,272.27L71.75,271.97L72.3,271.97L72.3,270.21L72.85,270.21L72.85,268.26L73.4,268.26L73.4,256.09L73.95,256.09L73.95,254.15L74.5,254.15L74.5,254.98L75.05,254.98L75.05,261.73L75.6,261.73L75.6,246.72L76.15,246.72L76.15,249.31L76.7,249.31L76.7,254.23L77.25,254.23L77.25,259.42L77.8,259.42L77.8,262.27L78.35,262.27L78.35,266.87L78.9,266.87L78.9,255.49L79.45,255.49L79.45,253.92L80,253.92L80,253.01L80.55,253.01L80.55,258.62L81.1,258.62L81.1,263.58L81.65,263.58L81.65,274.38L82.2,274.38L82.2,280.01L82.75,280.01L82.75,291.6L83.3,291.6L83.3,285.74L83.85,285.74L83.85,291.42L84.4,291.42L84.4,296.64L84.95,296.64L84.95,302.65L85.5,302.65L85.5,310.13L86.05,310.13L86.05,316.86L86.6,316.86L86.6,318.95L87.15,318.95L87.15,319.13L87.7,319.13L87.7,326.18L88.25,326.18L88.25,331.15L88.8,331.15L88.8,335.61L89.35,335.61L89.35,345.89L89.9,345.89L89.9,343.78L90.45,343.78L90.45,347.29L91,347.29L91,345.98L91.55,345.98L91.55,348.68L92.1,348.68L92.1,353.42L92.65,353.42L92.65,352.59L93.2,352.59L93.2,354.69L93.75,354.69L93.75,356.2L94.3,356.2L94.3,357.06L94.85,357.06L94.85,359.57L95.4,359.57L95.4,361.45L95.95,361.45L95.95,359.71L96.5,359.71L96.5,361.01L97.05,361.01L97.05,363.8L97.6,363.8L97.6,363.34L98.15,363.34L98.15,362.71L98.7,362.71L98.7,363.27L99.25,363.27L99.25,362.06L99.8,362.06L99.8,362.14L100.35,362.14L100.35,364.35L100.9,364.35L100.9,364.5L101.45,364.5L101.45,362.62L102,362.62L102,363.25L102.55,363.25L102.55,364.04L103.1,364.04L103.1,363.4L103.65,363.4L103.65,364.14L104.2,364.14L104.65,364.5Z" fill="#989898" stroke="#555555" stroke-width="1.3" stroke-linejoin="miter"/>
<path d="M47.27,359.94v0.45M47.82,359.99v0.41M48.37,359.13v0.33M48.92,358.87v0.42M49.47,358.88v0.44M51.12,359.2v0.49M52.77,357.64v0.54M54.42,351.38v1.55M55.52,349.45v1.4M57.72,350.48v1.38M58.27,347.21v1.5M59.37,346.13v0.55M59.92,345.91v2.07M60.47,343.79v2.1M61.57,343.44v1.39M62.12,342.79v1.55M62.67,338.22v2.13M64.87,326.9v2.93M65.97,320.96v4.02M67.62,312.91v2.78M68.17,306.54v6.44M68.72,301.69v3.18M69.27,302.99v4.49M69.82,294.25v7.15M70.37,283.03v6.37M70.92,272.36v2.79M71.47,272.27v10.86M73.67,256.09v11.19M74.22,254.15v4.96M74.77,254.98v13.06M75.32,261.73v9.81M75.87,246.72v9.29M78.07,262.27v4.36M78.62,266.87v8.87M79.17,255.49v10.83M79.72,253.92v12.63M80.82,258.62v5.54M81.37,263.58v4.48M81.92,274.38v7.66M82.47,280.01v9.37M83.02,291.6v5.83M83.57,285.74v7.6M84.12,291.42v2.52M84.67,296.64v7.76M87.42,319.13v4.47M87.97,326.18v3.48M88.52,331.15v2.88M89.07,335.61v1.23M91.27,345.98v1.06M92.37,353.42v0.9M92.92,352.59v0.58M93.47,354.69v0.5M94.02,356.2v0.31M94.57,357.06v0.35" stroke="#555" stroke-width="0.55" fill="none" opacity="0.75"/>
<path d="M44.4,244.6H172.5M44.4,244.6V364.5H172.5" fill="none" stroke="#1e1e1e" stroke-width="1.35"/>
<line x1="172.5" y1="244.6" x2="172.5" y2="364.5" stroke="#1e1e1e" stroke-width="1.35"/>
<path d="M37.4,364.5H44.4M40.4,360.28H44.4M40.4,356.06H44.4M40.4,351.84H44.4M40.4,347.62H44.4M37.4,343.4H44.4M40.4,339.18H44.4M40.4,334.96H44.4M40.4,330.74H44.4M40.4,326.52H44.4M37.4,322.3H44.4M40.4,318.08H44.4M40.4,313.86H44.4M40.4,309.64H44.4M40.4,305.42H44.4M37.4,301.2H44.4M40.4,296.98H44.4M40.4,292.76H44.4M40.4,288.54H44.4M40.4,284.32H44.4M37.4,280.1H44.4M40.4,275.88H44.4M40.4,271.66H44.4M40.4,267.44H44.4M40.4,263.22H44.4M37.4,259H44.4M40.4,254.78H44.4M40.4,250.56H44.4M40.4,246.34H44.4" stroke="#1e1e1e" stroke-width="1" fill="none"/>
<text transform="translate(37.2,364.5) rotate(-90) scale(1.2,0.93)" text-anchor="middle" class="yl">0</text>
<text transform="translate(37.2,343.4) rotate(-90) scale(1.2,0.93)" text-anchor="middle" class="yl">50</text>
<text transform="translate(37.2,322.3) rotate(-90) scale(1.2,0.93)" text-anchor="middle" class="yl">100</text>
<text transform="translate(37.2,301.2) rotate(-90) scale(1.2,0.93)" text-anchor="middle" class="yl">150</text>
<text transform="translate(37.2,280.1) rotate(-90) scale(1.2,0.93)" text-anchor="middle" class="yl">200</text>
<text transform="translate(37.2,259) rotate(-90) scale(1.2,0.93)" text-anchor="middle" class="yl">250</text>
<path d="M48.41,364.5V370.5M51.55,364.5V370.5M54.11,364.5V370.5M56.28,364.5V370.5M58.16,364.5V370.5M59.82,364.5V370.5M61.3,364.5V374.5M71.05,364.5V370.5M76.76,364.5V370.5M80.81,364.5V370.5M83.95,364.5V370.5M86.51,364.5V370.5M88.68,364.5V370.5M90.56,364.5V370.5M92.22,364.5V370.5M93.7,364.5V374.5M103.45,364.5V370.5M109.16,364.5V370.5M113.21,364.5V370.5M116.35,364.5V370.5M118.91,364.5V370.5M121.08,364.5V370.5M122.96,364.5V370.5M124.62,364.5V370.5M126.1,364.5V374.5M135.85,364.5V370.5M141.56,364.5V370.5M145.61,364.5V370.5M148.75,364.5V370.5M151.31,364.5V370.5M153.48,364.5V370.5M155.36,364.5V370.5M157.02,364.5V370.5M158.5,364.5V374.5M168.25,364.5V370.5" stroke="#1e1e1e" stroke-width="1" fill="none"/>
<text x="62.9" y="386.1" class="xl" text-anchor="end" transform="translate(62.9,0) scale(0.62,1) translate(-62.9,0)">10</text>
<text x="63.3" y="379.1" class="xs" transform="translate(63.3,0) scale(0.62,1) translate(-63.3,0)">2</text>
<text x="95.3" y="386.1" class="xl" text-anchor="end" transform="translate(95.3,0) scale(0.62,1) translate(-95.3,0)">10</text>
<text x="95.7" y="379.1" class="xs" transform="translate(95.7,0) scale(0.62,1) translate(-95.7,0)">3</text>
<text x="127.7" y="386.1" class="xl" text-anchor="end" transform="translate(127.7,0) scale(0.62,1) translate(-127.7,0)">10</text>
<text x="128.1" y="379.1" class="xs" transform="translate(128.1,0) scale(0.62,1) translate(-128.1,0)">4</text>
<text x="160.1" y="386.1" class="xl" text-anchor="end" transform="translate(160.1,0) scale(0.62,1) translate(-160.1,0)">10</text>
<text x="160.5" y="379.1" class="xs" transform="translate(160.5,0) scale(0.62,1) translate(-160.5,0)">5</text>
<path d="M202.1,366.6L202.1,364.48L202.65,364.48L202.65,363.61L203.2,363.61L203.2,362.97L203.75,362.97L203.75,364.06L204.3,364.06L204.3,361.64L204.85,361.64L204.85,361.48L205.4,361.48L205.4,362.83L205.95,362.83L205.95,361.81L206.5,361.81L206.5,361.89L207.05,361.89L207.05,364.84L207.6,364.84L207.6,361.29L208.15,361.29L208.15,360.11L208.7,360.11L208.7,360.51L209.25,360.51L209.25,359.26L209.8,359.26L209.8,360.12L210.35,360.12L210.35,361.12L210.9,361.12L210.9,357.73L211.45,357.73L211.45,357.49L212,357.49L212,360.08L212.55,360.08L212.55,355.89L213.1,355.89L213.1,354.76L213.65,354.76L213.65,352.46L214.2,352.46L214.2,355.51L214.75,355.51L214.75,353.41L215.3,353.41L215.3,350.99L215.85,350.99L215.85,349.74L216.4,349.74L216.4,351.52L216.95,351.52L216.95,353.9L217.5,353.9L217.5,346.76L218.05,346.76L218.05,346.37L218.6,346.37L218.6,346.4L219.15,346.4L219.15,342.97L219.7,342.97L219.7,337.73L220.25,337.73L220.25,335.3L220.8,335.3L220.8,334.42L221.35,334.42L221.35,328.73L221.9,328.73L221.9,326.6L222.45,326.6L222.45,326.53L223,326.53L223,323.94L223.55,323.94L223.55,321.55L224.1,321.55L224.1,323.7L224.65,323.7L224.65,320.15L225.2,320.15L225.2,317.94L225.75,317.94L225.75,314.14L226.3,314.14L226.3,306.86L226.85,306.86L226.85,302.45L227.4,302.45L227.4,296.07L227.95,296.07L227.95,288.9L228.5,288.9L228.5,279.89L229.05,279.89L229.05,282.51L229.6,282.51L229.6,283.2L230.15,283.2L230.15,269.78L230.7,269.78L230.7,279.01L231.25,279.01L231.25,268.95L231.8,268.95L231.8,269.19L232.35,269.19L232.35,259.09L232.9,259.09L232.9,255.58L233.45,255.58L233.45,259.05L234,259.05L234,259.1L234.55,259.1L234.55,246.2L235.1,246.2L235.1,247.7L235.65,247.7L235.65,249.69L236.2,249.69L236.2,256.02L236.75,256.02L236.75,263.68L237.3,263.68L237.3,254.16L237.85,254.16L237.85,251.78L238.4,251.78L238.4,262.48L238.95,262.48L238.95,265.91L239.5,265.91L239.5,279.5L240.05,279.5L240.05,269.36L240.6,269.36L240.6,269.56L241.15,269.56L241.15,273.13L241.7,273.13L241.7,279.18L242.25,279.18L242.25,288.19L242.8,288.19L242.8,287.51L243.35,287.51L243.35,291.47L243.9,291.47L243.9,293.74L244.45,293.74L244.45,302.08L245,302.08L245,306.43L245.55,306.43L245.55,308.15L246.1,308.15L246.1,312.59L246.65,312.59L246.65,320.24L247.2,320.24L247.2,326.15L247.75,326.15L247.75,323.32L248.3,323.32L248.3,326.1L248.85,326.1L248.85,333.12L249.4,333.12L249.4,332.94L249.95,332.94L249.95,336.87L250.5,336.87L250.5,341.76L251.05,341.76L251.05,342.1L251.6,342.1L251.6,347.61L252.15,347.61L252.15,345.7L252.7,345.7L252.7,348.84L253.25,348.84L253.25,349L253.8,349L253.8,351.13L254.35,351.13L254.35,350.74L254.9,350.74L254.9,354.09L255.45,354.09L255.45,352.83L256,352.83L256,356.34L256.55,356.34L256.55,357.39L257.1,357.39L257.1,358.68L257.65,358.68L257.65,358.56L258.2,358.56L258.2,360.13L258.75,360.13L258.75,361.58L259.3,361.58L259.3,363.14L259.85,363.14L259.85,361.83L260.4,361.83L260.4,363L260.95,363L260.95,363.75L261.5,363.75L261.5,362.96L262.05,362.96L262.05,364.91L262.6,364.91L262.6,365.97L263.15,365.97L263.15,365.09L263.7,365.09L263.7,364.06L264.25,364.06L264.25,363.98L264.8,363.98L264.8,366.31L265.35,366.31L265.35,365.53L265.9,365.53L265.9,366.52L266.45,366.52L266.65,366.6Z" fill="#989898" stroke="#555555" stroke-width="1.3" stroke-linejoin="miter"/>
<path d="M203.48,362.97v0.22M204.58,361.64v0.35M205.13,361.48v0.43M205.68,362.83v0.4M206.23,361.81v0.4M208.43,360.11v0.5M208.98,360.51v0.49M209.53,359.26v0.58M210.08,360.12v0.59M210.63,361.12v0.44M212.28,360.08v0.38M212.83,355.89v1.02M213.38,354.76v0.39M215.03,353.41v1.27M215.58,350.99v1.49M217.23,353.9v0.89M217.78,346.76v2.04M218.88,346.4v0.88M219.98,337.73v1.48M220.53,335.3v3.66M221.08,334.42v1.78M221.63,328.73v1.98M222.18,326.6v1.85M222.73,326.53v4.74M223.28,323.94v1.57M223.83,321.55v4.93M224.93,320.15v4.36M227.68,296.07v3.43M228.23,288.9v4.35M228.78,279.89v8.38M229.33,282.51v5.6M230.43,269.78v6.96M231.53,268.95v6.52M232.08,269.19v6.6M232.63,259.09v6.74M233.18,255.58v12.75M233.73,259.05v10.83M234.28,259.1v7.37M234.83,246.2v7.12M235.38,247.7v10.93M235.93,249.69v3.64M237.03,263.68v11.79M237.58,254.16v10.17M238.13,251.78v5.11M238.68,262.48v8.74M239.23,265.91v5.94M240.33,269.36v6.61M241.43,273.13v8.59M241.98,279.18v3.74M243.08,287.51v6.9M243.63,291.47v6.26M244.18,293.74v3.8M245.83,308.15v3.45M247.48,326.15v4.71M248.03,323.32v4.58M248.58,326.1v3.39M249.68,332.94v1.14M250.78,341.76v2.35M251.33,342.1v2.17M252.43,345.7v2.07M252.98,348.84v1.74M255.73,352.83v0.95M256.28,356.34v1.12M257.38,358.68v0.61M257.93,358.56v0.37M259.03,361.58v0.52M259.58,363.14v0.25M260.13,361.83v0.57M260.68,363v0.15M261.78,362.96v0.31" stroke="#555" stroke-width="0.55" fill="none" opacity="0.75"/>
<path d="M197.3,245.7H326.4M197.3,245.7V366.6H326.4" fill="none" stroke="#1e1e1e" stroke-width="1.35"/>
<line x1="326.4" y1="245.7" x2="326.4" y2="366.6" stroke="#1e1e1e" stroke-width="1.35"/>
<path d="M190.3,366.6H197.3M193.3,361.86H197.3M193.3,357.12H197.3M193.3,352.38H197.3M193.3,347.64H197.3M190.3,342.9H197.3M193.3,338.16H197.3M193.3,333.42H197.3M193.3,328.68H197.3M193.3,323.94H197.3M190.3,319.2H197.3M193.3,314.46H197.3M193.3,309.72H197.3M193.3,304.98H197.3M193.3,300.24H197.3M190.3,295.5H197.3M193.3,290.76H197.3M193.3,286.02H197.3M193.3,281.28H197.3M193.3,276.54H197.3M190.3,271.8H197.3M193.3,267.06H197.3M193.3,262.32H197.3M193.3,257.58H197.3M193.3,252.84H197.3M190.3,248.1H197.3" stroke="#1e1e1e" stroke-width="1" fill="none"/>
<text transform="translate(190.1,366.6) rotate(-90) scale(1.2,0.93)" text-anchor="middle" class="yl">0</text>
<text transform="translate(190.1,342.9) rotate(-90) scale(1.2,0.93)" text-anchor="middle" class="yl">50</text>
<text transform="translate(190.1,319.2) rotate(-90) scale(1.2,0.93)" text-anchor="middle" class="yl">100</text>
<text transform="translate(190.1,295.5) rotate(-90) scale(1.2,0.93)" text-anchor="middle" class="yl">150</text>
<text transform="translate(190.1,271.8) rotate(-90) scale(1.2,0.93)" text-anchor="middle" class="yl">200</text>
<text transform="translate(190.1,248.1) rotate(-90) scale(1.2,0.93)" text-anchor="middle" class="yl">250</text>
<path d="M198.61,366.6V372.6M202.65,366.6V372.6M205.78,366.6V372.6M208.33,366.6V372.6M210.5,366.6V372.6M212.37,366.6V372.6M214.02,366.6V372.6M215.5,366.6V376.6M225.22,366.6V372.6M230.91,366.6V372.6M234.95,366.6V372.6M238.08,366.6V372.6M240.63,366.6V372.6M242.8,366.6V372.6M244.67,366.6V372.6M246.32,366.6V372.6M247.8,366.6V376.6M257.52,366.6V372.6M263.21,366.6V372.6M267.25,366.6V372.6M270.38,366.6V372.6M272.93,366.6V372.6M275.1,366.6V372.6M276.97,366.6V372.6M278.62,366.6V372.6M280.1,366.6V376.6M289.82,366.6V372.6M295.51,366.6V372.6M299.55,366.6V372.6M302.68,366.6V372.6M305.23,366.6V372.6M307.4,366.6V372.6M309.27,366.6V372.6M310.92,366.6V372.6M312.4,366.6V376.6M322.12,366.6V372.6" stroke="#1e1e1e" stroke-width="1" fill="none"/>
<text x="217.1" y="386.2" class="xl" text-anchor="end" transform="translate(217.1,0) scale(0.62,1) translate(-217.1,0)">10</text>
<text x="217.5" y="379.2" class="xs" transform="translate(217.5,0) scale(0.62,1) translate(-217.5,0)">2</text>
<text x="249.4" y="386.2" class="xl" text-anchor="end" transform="translate(249.4,0) scale(0.62,1) translate(-249.4,0)">10</text>
<text x="249.8" y="379.2" class="xs" transform="translate(249.8,0) scale(0.62,1) translate(-249.8,0)">3</text>
<text x="281.7" y="386.2" class="xl" text-anchor="end" transform="translate(281.7,0) scale(0.62,1) translate(-281.7,0)">10</text>
<text x="282.1" y="379.2" class="xs" transform="translate(282.1,0) scale(0.62,1) translate(-282.1,0)">4</text>
<text x="314" y="386.2" class="xl" text-anchor="end" transform="translate(314,0) scale(0.62,1) translate(-314,0)">10</text>
<text x="314.4" y="379.2" class="xs" transform="translate(314.4,0) scale(0.62,1) translate(-314.4,0)">5</text>
<path d="M351.9,365.7L351.9,362.86L352.45,362.86L352.45,362.83L353,362.83L353,363.72L353.55,363.72L353.55,364.28L354.1,364.28L354.1,363.51L354.65,363.51L354.65,365.32L355.2,365.32L355.2,362.73L355.75,362.73L355.75,363.64L356.3,363.64L356.3,362.9L356.85,362.9L356.85,363.24L357.4,363.24L357.4,361.5L357.95,361.5L357.95,361.78L358.5,361.78L358.5,361.82L359.05,361.82L359.05,361.76L359.6,361.76L359.6,362.61L360.15,362.61L360.15,362.38L360.7,362.38L360.7,360.76L361.25,360.76L361.25,359.61L361.8,359.61L361.8,359.84L362.35,359.84L362.35,358.04L362.9,358.04L362.9,360.59L363.45,360.59L363.45,358.81L364,358.81L364,356.16L364.55,356.16L364.55,356.69L365.1,356.69L365.1,354.22L365.65,354.22L365.65,354.59L366.2,354.59L366.2,352.97L366.75,352.97L366.75,353.65L367.3,353.65L367.3,350.91L367.85,350.91L367.85,349.89L368.4,349.89L368.4,351.98L368.95,351.98L368.95,347.64L369.5,347.64L369.5,345.52L370.05,345.52L370.05,344.19L370.6,344.19L370.6,343.54L371.15,343.54L371.15,341.87L371.7,341.87L371.7,339.12L372.25,339.12L372.25,336.71L372.8,336.71L372.8,335.04L373.35,335.04L373.35,336.25L373.9,336.25L373.9,333.17L374.45,333.17L374.45,328.37L375,328.37L375,326.28L375.55,326.28L375.55,326.4L376.1,326.4L376.1,322.08L376.65,322.08L376.65,323.64L377.2,323.64L377.2,325.69L377.75,325.69L377.75,319.01L378.3,319.01L378.3,313.7L378.85,313.7L378.85,310.24L379.4,310.24L379.4,304.78L379.95,304.78L379.95,301.72L380.5,301.72L380.5,298.15L381.05,298.15L381.05,292.56L381.6,292.56L381.6,290.1L382.15,290.1L382.15,287.21L382.7,287.21L382.7,289.23L383.25,289.23L383.25,290.79L383.8,290.79L383.8,284.32L384.35,284.32L384.35,279.65L384.9,279.65L384.9,275.36L385.45,275.36L385.45,254.83L386,254.83L386,251.88L386.55,251.88L386.55,247.95L387.1,247.95L387.1,254.2L387.65,254.2L387.65,253.46L388.2,253.46L388.2,246.21L388.75,246.21L388.75,254.41L389.3,254.41L389.3,246.81L389.85,246.81L389.85,253.03L390.4,253.03L390.4,259.48L390.95,259.48L390.95,251.99L391.5,251.99L391.5,251.29L392.05,251.29L392.05,250.39L392.6,250.39L392.6,257.96L393.15,257.96L393.15,253.24L393.7,253.24L393.7,255.41L394.25,255.41L394.25,258.74L394.8,258.74L394.8,265.71L395.35,265.71L395.35,262.74L395.9,262.74L395.9,260.86L396.45,260.86L396.45,261.87L397,261.87L397,281.42L397.55,281.42L397.55,272.64L398.1,272.64L398.1,284.66L398.65,284.66L398.65,282.97L399.2,282.97L399.2,285.21L399.75,285.21L399.75,287.72L400.3,287.72L400.3,297.37L400.85,297.37L400.85,299.29L401.4,299.29L401.4,307.41L401.95,307.41L401.95,311.08L402.5,311.08L402.5,311.4L403.05,311.4L403.05,314.75L403.6,314.75L403.6,314.59L404.15,314.59L404.15,320.71L404.7,320.71L404.7,320.76L405.25,320.76L405.25,329.46L405.8,329.46L405.8,330.01L406.35,330.01L406.35,334.69L406.9,334.69L406.9,333.47L407.45,333.47L407.45,334.89L408,334.89L408,341.1L408.55,341.1L408.55,339.65L409.1,339.65L409.1,340.66L409.65,340.66L409.65,342.8L410.2,342.8L410.2,344.61L410.75,344.61L410.75,345.4L411.3,345.4L411.3,350.58L411.85,350.58L411.85,350.11L412.4,350.11L412.4,353.86L412.95,353.86L412.95,352.74L413.5,352.74L413.5,356.21L414.05,356.21L414.05,356.6L414.6,356.6L414.6,357.77L415.15,357.77L415.15,360.51L415.7,360.51L415.7,358L416.25,358L416.25,362.04L416.8,362.04L416.8,360.42L417.35,360.42L417.35,361.13L417.9,361.13L417.9,362.56L418.45,362.56L418.45,361.97L419,361.97L419,363.11L419.55,363.11L419.55,362.21L420.1,362.21L420.1,363.03L420.65,363.03L420.65,363.84L421.2,363.84L421.2,364.6L421.75,364.6L421.75,363.93L422.3,363.93L422.3,365.7L422.85,365.7L422.85,363.83L423.4,363.83L423.55,365.7Z" fill="#989898" stroke="#555555" stroke-width="1.3" stroke-linejoin="miter"/>
<path d="M357.68,361.5v0.34M358.78,361.82v0.14M359.33,361.76v0.27M359.88,362.61v0.22M360.43,362.38v0.17M362.08,359.84v0.18M362.63,358.04v0.38M363.18,360.59v0.56M363.73,358.81v0.73M364.28,356.16v0.41M365.38,354.22v1.18M365.93,354.59v0.62M366.48,352.97v0.42M367.58,350.91v0.91M368.68,351.98v0.48M369.23,347.64v1.55M369.78,345.52v1.33M370.33,344.19v1.16M370.88,343.54v0.74M372.53,336.71v3.17M373.63,336.25v2.26M374.18,333.17v3.3M374.73,328.37v1.14M375.28,326.28v1.87M375.83,326.4v2.32M376.93,323.64v3.34M378.03,319.01v3.93M379.13,310.24v5.05M379.68,304.78v6.24M381.88,290.1v5.82M384.08,284.32v5.48M384.63,279.65v4.36M385.18,275.36v4.63M385.73,254.83v7.92M386.28,251.88v5.99M386.83,247.95v9.44M387.38,254.2v7M387.93,253.46v6.53M388.48,246.21v13.53M389.58,246.81v7.39M390.68,259.48v4.59M391.78,251.29v7.4M392.88,257.96v8.93M393.43,253.24v7.4M394.53,258.74v4.32M395.08,265.71v6.74M395.63,262.74v11.38M396.18,260.86v5.76M396.73,261.87v5.95M397.28,281.42v7.02M397.83,272.64v8.18M398.38,284.66v6.49M399.48,285.21v3.76M400.03,287.72v6.15M400.58,297.37v3.05M402.78,311.4v4.08M403.88,314.59v5.27M404.43,320.71v5.1M404.98,320.76v1.58M405.53,329.46v3.29M406.63,334.69v1.32M407.73,334.89v1M408.28,341.1v1.47M408.83,339.65v2.35M409.38,340.66v2.04M409.93,342.8v2.7M410.48,344.61v1.77M411.03,345.4v2.37M411.58,350.58v1.15M412.13,350.11v0.49M412.68,353.86v1.16M415.43,360.51v0.48M415.98,358v0.42M417.08,360.42v0.32M417.63,361.13v0.49M418.73,361.97v0.3" stroke="#555" stroke-width="0.55" fill="none" opacity="0.75"/>
<line x1="351.5" y1="349" x2="351.5" y2="365.7" stroke="#555" stroke-width="0.9"/>
<path d="M350.5,245.6H481.3M350.5,245.6V365.7H481.3" fill="none" stroke="#1e1e1e" stroke-width="1.35"/>
<line x1="481.3" y1="245.6" x2="481.3" y2="365.7" stroke="#1e1e1e" stroke-width="1.35"/>
<path d="M343.5,365.7H350.5M346.5,360.14H350.5M346.5,354.58H350.5M346.5,349.02H350.5M346.5,343.46H350.5M343.5,337.9H350.5M346.5,332.34H350.5M346.5,326.78H350.5M346.5,321.22H350.5M346.5,315.66H350.5M343.5,310.1H350.5M346.5,304.54H350.5M346.5,298.98H350.5M346.5,293.42H350.5M346.5,287.86H350.5M343.5,282.3H350.5M346.5,276.74H350.5M346.5,271.18H350.5M346.5,265.62H350.5M346.5,260.06H350.5M343.5,254.5H350.5M346.5,248.94H350.5" stroke="#1e1e1e" stroke-width="1" fill="none"/>
<text transform="translate(343.3,365.7) rotate(-90) scale(1.2,0.93)" text-anchor="middle" class="yl">0</text>
<text transform="translate(343.3,337.9) rotate(-90) scale(1.2,0.93)" text-anchor="middle" class="yl">50</text>
<text transform="translate(343.3,310.1) rotate(-90) scale(1.2,0.93)" text-anchor="middle" class="yl">100</text>
<text transform="translate(343.3,282.3) rotate(-90) scale(1.2,0.93)" text-anchor="middle" class="yl">150</text>
<text transform="translate(343.3,254.5) rotate(-90) scale(1.2,0.93)" text-anchor="middle" class="yl">200</text>
<path d="M352.33,365.7V371.7M356.39,365.7V371.7M359.53,365.7V371.7M362.1,365.7V371.7M364.27,365.7V371.7M366.16,365.7V371.7M367.82,365.7V371.7M369.3,365.7V375.7M379.07,365.7V371.7M384.78,365.7V371.7M388.84,365.7V371.7M391.98,365.7V371.7M394.55,365.7V371.7M396.72,365.7V371.7M398.61,365.7V371.7M400.27,365.7V371.7M401.75,365.7V375.7M411.52,365.7V371.7M417.23,365.7V371.7M421.29,365.7V371.7M424.43,365.7V371.7M427,365.7V371.7M429.17,365.7V371.7M431.06,365.7V371.7M432.72,365.7V371.7M434.2,365.7V375.7M443.97,365.7V371.7M449.68,365.7V371.7M453.74,365.7V371.7M456.88,365.7V371.7M459.45,365.7V371.7M461.62,365.7V371.7M463.51,365.7V371.7M465.17,365.7V371.7M466.65,365.7V375.7M476.42,365.7V371.7" stroke="#1e1e1e" stroke-width="1" fill="none"/>
<text x="370.9" y="385.4" class="xl" text-anchor="end" transform="translate(370.9,0) scale(0.62,1) translate(-370.9,0)">10</text>
<text x="371.3" y="378.4" class="xs" transform="translate(371.3,0) scale(0.62,1) translate(-371.3,0)">2</text>
<text x="403.35" y="385.4" class="xl" text-anchor="end" transform="translate(403.35,0) scale(0.62,1) translate(-403.35,0)">10</text>
<text x="403.75" y="378.4" class="xs" transform="translate(403.75,0) scale(0.62,1) translate(-403.75,0)">3</text>
<text x="435.8" y="385.4" class="xl" text-anchor="end" transform="translate(435.8,0) scale(0.62,1) translate(-435.8,0)">10</text>
<text x="436.2" y="378.4" class="xs" transform="translate(436.2,0) scale(0.62,1) translate(-436.2,0)">4</text>
<text x="468.25" y="385.4" class="xl" text-anchor="end" transform="translate(468.25,0) scale(0.62,1) translate(-468.25,0)">10</text>
<text x="468.65" y="378.4" class="xs" transform="translate(468.65,0) scale(0.62,1) translate(-468.65,0)">5</text>
<path d="M510.8,364.2L510.8,363.42L511.35,363.42L511.35,361.93L511.9,361.93L511.9,361.33L512.45,361.33L512.45,361.22L513,361.22L513,362.76L513.55,362.76L513.55,362.08L514.1,362.08L514.1,359.94L514.65,359.94L514.65,360.24L515.2,360.24L515.2,360.5L515.75,360.5L515.75,360.41L516.3,360.41L516.3,359.93L516.85,359.93L516.85,359.71L517.4,359.71L517.4,359.08L517.95,359.08L517.95,360.6L518.5,360.6L518.5,361.04L519.05,361.04L519.05,358.4L519.6,358.4L519.6,359.06L520.15,359.06L520.15,357.32L520.7,357.32L520.7,355.89L521.25,355.89L521.25,355.59L521.8,355.59L521.8,353.03L522.35,353.03L522.35,351.98L522.9,351.98L522.9,354.08L523.45,354.08L523.45,351.63L524,351.63L524,349.48L524.55,349.48L524.55,353.27L525.1,353.27L525.1,348.19L525.65,348.19L525.65,351.47L526.2,351.47L526.2,345.32L526.75,345.32L526.75,345.99L527.3,345.99L527.3,342.31L527.85,342.31L527.85,341.52L528.4,341.52L528.4,339.92L528.95,339.92L528.95,339.26L529.5,339.26L529.5,335.09L530.05,335.09L530.05,333.91L530.6,333.91L530.6,328.57L531.15,328.57L531.15,327.98L531.7,327.98L531.7,324.53L532.25,324.53L532.25,321.07L532.8,321.07L532.8,320.46L533.35,320.46L533.35,320.53L533.9,320.53L533.9,316.2L534.45,316.2L534.45,311.99L535,311.99L535,310.22L535.55,310.22L535.55,307.84L536.1,307.84L536.1,311.92L536.65,311.92L536.65,306.73L537.2,306.73L537.2,300.13L537.75,300.13L537.75,299.32L538.3,299.32L538.3,293.34L538.85,293.34L538.85,289.81L539.4,289.81L539.4,285.82L539.95,285.82L539.95,281.53L540.5,281.53L540.5,278.32L541.05,278.32L541.05,275.05L541.6,275.05L541.6,272.87L542.15,272.87L542.15,263.74L542.7,263.74L542.7,265.43L543.25,265.43L543.25,263.34L543.8,263.34L543.8,263.99L544.35,263.99L544.35,254.69L544.9,254.69L544.9,257.29L545.45,257.29L545.45,254.79L546,254.79L546,249.48L546.55,249.48L546.55,251.71L547.1,251.71L547.1,245.48L547.65,245.48L547.65,251.09L548.2,251.09L548.2,247.67L548.75,247.67L548.75,252.47L549.3,252.47L549.3,259.13L549.85,259.13L549.85,253.66L550.4,253.66L550.4,270.12L550.95,270.12L550.95,248.34L551.5,248.34L551.5,252.62L552.05,252.62L552.05,253.5L552.6,253.5L552.6,257.95L553.15,257.95L553.15,259.95L553.7,259.95L553.7,257.18L554.25,257.18L554.25,254.46L554.8,254.46L554.8,263.14L555.35,263.14L555.35,268.14L555.9,268.14L555.9,270.93L556.45,270.93L556.45,272.38L557,272.38L557,277.6L557.55,277.6L557.55,276.43L558.1,276.43L558.1,282.45L558.65,282.45L558.65,287.07L559.2,287.07L559.2,289.33L559.75,289.33L559.75,294.06L560.3,294.06L560.3,293.44L560.85,293.44L560.85,296.56L561.4,296.56L561.4,302.85L561.95,302.85L561.95,306.04L562.5,306.04L562.5,309.16L563.05,309.16L563.05,312.81L563.6,312.81L563.6,318.97L564.15,318.97L564.15,323.92L564.7,323.92L564.7,330.74L565.25,330.74L565.25,323.88L565.8,323.88L565.8,331.53L566.35,331.53L566.35,329.84L566.9,329.84L566.9,337.21L567.45,337.21L567.45,334.3L568,334.3L568,336.95L568.55,336.95L568.55,341.78L569.1,341.78L569.1,345.57L569.65,345.57L569.65,347.09L570.2,347.09L570.2,346.67L570.75,346.67L570.75,347.87L571.3,347.87L571.3,351.82L571.85,351.82L571.85,353.98L572.4,353.98L572.4,353.68L572.95,353.68L572.95,352.42L573.5,352.42L573.5,354L574.05,354L574.05,354.77L574.6,354.77L574.6,356.33L575.15,356.33L575.15,356.82L575.7,356.82L575.7,358.43L576.25,358.43L576.25,359.25L576.8,359.25L576.8,359.55L577.35,359.55L577.35,359.9L577.9,359.9L577.9,360.39L578.45,360.39L578.45,361.26L579,361.26L579,363.92L579.55,363.92L579.95,364.2Z" fill="#989898" stroke="#555555" stroke-width="1.3" stroke-linejoin="miter"/>
<path d="M514.37,359.94v0.46M514.92,360.24v0.23M515.47,360.5v0.24M516.02,360.41v0.44M516.57,359.93v0.15M517.12,359.71v0.17M518.22,360.6v0.29M518.77,361.04v0.29M519.32,358.4v0.53M519.87,359.06v0.38M520.42,357.32v0.41M522.07,353.03v1.3M522.62,351.98v1.15M523.72,351.63v0.69M525.37,348.19v1.48M525.92,351.47v1.12M527.57,342.31v0.92M528.12,341.52v1.44M528.67,339.92v1.56M529.22,339.26v2.33M529.77,335.09v2.36M530.32,333.91v2.35M531.42,327.98v2.33M531.97,324.53v1.9M532.52,321.07v2.42M533.07,320.46v1.95M533.62,320.53v1.56M534.17,316.2v4.45M534.72,311.99v1.72M535.27,310.22v5.11M535.82,307.84v3.65M536.37,311.92v1.72M536.92,306.73v3.97M537.47,300.13v4.17M539.12,289.81v5.88M539.67,285.82v3.59M540.22,281.53v8.91M541.32,275.05v10.34M542.42,263.74v4.26M543.52,263.34v4.37M544.62,254.69v5.76M546.82,251.71v9.52M548.47,247.67v10.99M549.02,252.47v6.73M549.57,259.13v6.96M551.77,252.62v11.96M552.87,257.95v7.12M554.52,254.46v8.15M555.07,263.14v6.14M555.62,268.14v10.47M556.17,270.93v9.44M556.72,272.38v2.83M557.27,277.6v8.51M557.82,276.43v9.2M558.37,282.45v9.31M558.92,287.07v3.33M559.47,289.33v5.46M560.02,294.06v3.78M561.12,296.56v4.38M561.67,302.85v4.1M562.22,306.04v5.46M563.87,318.97v3.45M564.97,330.74v1.94M565.52,323.88v4.59M566.07,331.53v2.75M566.62,329.84v1.41M567.17,337.21v2.65M568.82,341.78v0.79M569.37,345.57v1.82M569.92,347.09v1.58M570.47,346.67v0.73M571.57,351.82v0.47M572.12,353.98v0.53M573.22,352.42v0.45M574.32,354.77v0.29M574.87,356.33v0.34M575.97,358.43v0.69M576.52,359.25v0.2M577.62,359.9v0.36M578.17,360.39v0.33" stroke="#555" stroke-width="0.55" fill="none" opacity="0.75"/>
<line x1="508.3" y1="349.3" x2="508.3" y2="364.2" stroke="#555" stroke-width="0.9"/>
<path d="M507.3,244.5H635.9M507.3,244.5V364.2H635.9" fill="none" stroke="#1e1e1e" stroke-width="1.35"/>
<line x1="635.9" y1="244.5" x2="635.9" y2="364.2" stroke="#1e1e1e" stroke-width="1.35"/>
<path d="M500.3,364.2H507.3M503.3,358.3H507.3M503.3,352.4H507.3M503.3,346.5H507.3M503.3,340.6H507.3M500.3,334.7H507.3M503.3,328.8H507.3M503.3,322.9H507.3M503.3,317H507.3M503.3,311.1H507.3M500.3,305.2H507.3M503.3,299.3H507.3M503.3,293.4H507.3M503.3,287.5H507.3M503.3,281.6H507.3M500.3,275.7H507.3M503.3,269.8H507.3M503.3,263.9H507.3M503.3,258H507.3M503.3,252.1H507.3M500.3,246.2H507.3" stroke="#1e1e1e" stroke-width="1" fill="none"/>
<text transform="translate(500.1,364.2) rotate(-90) scale(1.2,0.93)" text-anchor="middle" class="yl">0</text>
<text transform="translate(500.1,334.7) rotate(-90) scale(1.2,0.93)" text-anchor="middle" class="yl">50</text>
<text transform="translate(500.1,305.2) rotate(-90) scale(1.2,0.93)" text-anchor="middle" class="yl">100</text>
<text transform="translate(500.1,275.7) rotate(-90) scale(1.2,0.93)" text-anchor="middle" class="yl">150</text>
<text transform="translate(500.1,246.2) rotate(-90) scale(1.2,0.93)" text-anchor="middle" class="yl">200</text>
<path d="M511.81,364.2V370.2M514.95,364.2V370.2M517.51,364.2V370.2M519.68,364.2V370.2M521.56,364.2V370.2M523.22,364.2V370.2M524.7,364.2V374.2M534.45,364.2V370.2M540.16,364.2V370.2M544.21,364.2V370.2M547.35,364.2V370.2M549.91,364.2V370.2M552.08,364.2V370.2M553.96,364.2V370.2M555.62,364.2V370.2M557.1,364.2V374.2M566.85,364.2V370.2M572.56,364.2V370.2M576.61,364.2V370.2M579.75,364.2V370.2M582.31,364.2V370.2M584.48,364.2V370.2M586.36,364.2V370.2M588.02,364.2V370.2M589.5,364.2V374.2M599.25,364.2V370.2M604.96,364.2V370.2M609.01,364.2V370.2M612.15,364.2V370.2M614.71,364.2V370.2M616.88,364.2V370.2M618.76,364.2V370.2M620.42,364.2V370.2M621.9,364.2V374.2M631.65,364.2V370.2" stroke="#1e1e1e" stroke-width="1" fill="none"/>
<text x="526.3" y="385.9" class="xl" text-anchor="end" transform="translate(526.3,0) scale(0.62,1) translate(-526.3,0)">10</text>
<text x="526.7" y="378.9" class="xs" transform="translate(526.7,0) scale(0.62,1) translate(-526.7,0)">2</text>
<text x="558.7" y="385.9" class="xl" text-anchor="end" transform="translate(558.7,0) scale(0.62,1) translate(-558.7,0)">10</text>
<text x="559.1" y="378.9" class="xs" transform="translate(559.1,0) scale(0.62,1) translate(-559.1,0)">3</text>
<text x="591.1" y="385.9" class="xl" text-anchor="end" transform="translate(591.1,0) scale(0.62,1) translate(-591.1,0)">10</text>
<text x="591.5" y="378.9" class="xs" transform="translate(591.5,0) scale(0.62,1) translate(-591.5,0)">4</text>
<text x="623.5" y="385.9" class="xl" text-anchor="end" transform="translate(623.5,0) scale(0.62,1) translate(-623.5,0)">10</text>
<text x="623.9" y="378.9" class="xs" transform="translate(623.9,0) scale(0.62,1) translate(-623.9,0)">5</text>
<path d="M664.2,364.2L664.2,364.2L664.75,364.2L664.75,360.75L665.3,360.75L665.3,359.78L665.85,359.78L665.85,359.74L666.4,359.74L666.4,359.9L666.95,359.9L666.95,360.69L667.5,360.69L667.5,356.85L668.05,356.85L668.05,357.32L668.6,357.32L668.6,355.75L669.15,355.75L669.15,354.88L669.7,354.88L669.7,354.25L670.25,354.25L670.25,353.25L670.8,353.25L670.8,352.92L671.35,352.92L671.35,352.1L671.9,352.1L671.9,351.39L672.45,351.39L672.45,352.59L673,352.59L673,350.66L673.55,350.66L673.55,351.64L674.1,351.64L674.1,349.85L674.65,349.85L674.65,349.44L675.2,349.44L675.2,346.31L675.75,346.31L675.75,345.64L676.3,345.64L676.3,344.04L676.85,344.04L676.85,344.03L677.4,344.03L677.4,341.45L677.95,341.45L677.95,341.86L678.5,341.86L678.5,339.73L679.05,339.73L679.05,337.1L679.6,337.1L679.6,339.06L680.15,339.06L680.15,335.75L680.7,335.75L680.7,328.71L681.25,328.71L681.25,324.76L681.8,324.76L681.8,327.71L682.35,327.71L682.35,319.88L682.9,319.88L682.9,319.76L683.45,319.76L683.45,316.8L684,316.8L684,314.43L684.55,314.43L684.55,312.63L685.1,312.63L685.1,312.14L685.65,312.14L685.65,305.47L686.2,305.47L686.2,302.33L686.75,302.33L686.75,301.22L687.3,301.22L687.3,300.38L687.85,300.38L687.85,298.54L688.4,298.54L688.4,294.75L688.95,294.75L688.95,294.08L689.5,294.08L689.5,297.91L690.05,297.91L690.05,291.31L690.6,291.31L690.6,288.36L691.15,288.36L691.15,280.83L691.7,280.83L691.7,276.37L692.25,276.37L692.25,269.05L692.8,269.05L692.8,275.19L693.35,275.19L693.35,275.51L693.9,275.51L693.9,277.55L694.45,277.55L694.45,273L695,273L695,268.26L695.55,268.26L695.55,268.38L696.1,268.38L696.1,267.6L696.65,267.6L696.65,261.04L697.2,261.04L697.2,264.02L697.75,264.02L697.75,261.02L698.3,261.02L698.3,262.43L698.85,262.43L698.85,265.52L699.4,265.52L699.4,269.64L699.95,269.64L699.95,250.42L700.5,250.42L700.5,255.9L701.05,255.9L701.05,251L701.6,251L701.6,258.22L702.15,258.22L702.15,247.18L702.7,247.18L702.7,245.96L703.25,245.96L703.25,252.78L703.8,252.78L703.8,259.85L704.35,259.85L704.35,248.65L704.9,248.65L704.9,251.04L705.45,251.04L705.45,245.42L706,245.42L706,247.11L706.55,247.11L706.55,250.52L707.1,250.52L707.1,258.96L707.65,258.96L707.65,249.18L708.2,249.18L708.2,254.19L708.75,254.19L708.75,257.76L709.3,257.76L709.3,260.47L709.85,260.47L709.85,257.01L710.4,257.01L710.4,258.87L710.95,258.87L710.95,274.85L711.5,274.85L711.5,278.55L712.05,278.55L712.05,277.68L712.6,277.68L712.6,277.95L713.15,277.95L713.15,282.31L713.7,282.31L713.7,286.15L714.25,286.15L714.25,285.14L714.8,285.14L714.8,290.08L715.35,290.08L715.35,294.62L715.9,294.62L715.9,300.14L716.45,300.14L716.45,301.52L717,301.52L717,304.3L717.55,304.3L717.55,308.43L718.1,308.43L718.1,312.65L718.65,312.65L718.65,311.89L719.2,311.89L719.2,318.14L719.75,318.14L719.75,326.57L720.3,326.57L720.3,327.93L720.85,327.93L720.85,329.11L721.4,329.11L721.4,332.08L721.95,332.08L721.95,338.61L722.5,338.61L722.5,340L723.05,340L723.05,341.29L723.6,341.29L723.6,342.44L724.15,342.44L724.15,347.29L724.7,347.29L724.7,349.53L725.25,349.53L725.25,348.78L725.8,348.78L725.8,353.05L726.35,353.05L726.35,352.1L726.9,352.1L726.9,353.67L727.45,353.67L727.45,355.34L728,355.34L728,357.06L728.55,357.06L728.55,358.5L729.1,358.5L729.1,359.45L729.65,359.45L729.65,359.54L730.2,359.54L730.2,362.07L730.75,362.07L730.75,360.94L731.3,360.94L731.3,362.08L731.85,362.08L731.85,363.24L732.4,363.24L732.4,361.5L732.95,361.5L732.95,362.83L733.5,362.83L733.5,361.87L734.05,361.87L734.05,362.44L734.6,362.44L734.6,363.98L735.15,363.98L735.15,364.01L735.7,364.01L735.85,364.2Z" fill="#989898" stroke="#555555" stroke-width="1.3" stroke-linejoin="miter"/>
<path d="M665.57,359.78v0.38M666.67,359.9v0.25M667.22,360.69v0.11M667.77,356.85v0.49M668.32,357.32v0.23M669.97,354.25v0.39M670.52,353.25v1.27M671.07,352.92v1.25M671.62,352.1v1.23M673.27,350.66v0.74M673.82,351.64v1.47M675.47,346.31v0.88M676.57,344.04v1.92M677.12,344.03v1.91M677.67,341.45v0.78M678.22,341.86v0.91M678.77,339.73v1.66M679.32,337.1v3.19M681.52,324.76v1.75M682.07,327.71v2.34M682.62,319.88v5.02M683.72,316.8v4.58M684.27,314.43v1.56M684.82,312.63v2.33M685.37,312.14v5.15M685.92,305.47v4.25M686.47,302.33v3.16M687.02,301.22v6.96M688.67,294.75v5.44M689.22,294.08v3.75M689.77,297.91v3.84M690.32,291.31v5.85M690.87,288.36v8.39M691.42,280.83v3.11M691.97,276.37v5.58M692.52,269.05v8.64M693.07,275.19v7.01M694.17,277.55v9.86M694.72,273v5.61M695.82,268.38v4.7M696.37,267.6v5.97M698.02,261.02v8.46M698.57,262.43v11.39M699.12,265.52v9.43M700.22,250.42v11.43M701.32,251v6.76M701.87,258.22v3.75M703.52,252.78v4.43M704.07,259.85v10.06M704.62,248.65v10.45M705.17,251.04v11.69M705.72,245.42v10.8M706.82,250.52v5.43M707.37,258.96v3.83M707.92,249.18v11.47M708.47,254.19v8.91M711.22,274.85v4.74M711.77,278.55v5.1M712.87,277.95v3.9M713.42,282.31v4.01M713.97,286.15v6.36M715.07,290.08v8.37M715.62,294.62v2.16M716.72,301.52v6.24M718.37,312.65v3.98M719.47,318.14v2.88M722.22,338.61v2.48M723.32,341.29v2.66M723.87,342.44v0.94M724.42,347.29v1.15M724.97,349.53v0.56M725.52,348.78v1.25M726.07,353.05v1.08M726.62,352.1v0.68M727.17,353.67v0.6M727.72,355.34v0.84M728.82,358.5v0.34M729.37,359.45v0.44M729.92,359.54v0.53M731.02,360.94v0.16" stroke="#555" stroke-width="0.55" fill="none" opacity="0.75"/>
<line x1="705.6" y1="244.5" x2="705.6" y2="251.2" stroke="#4a4a4a" stroke-width="0.8"/>
<line x1="662.6" y1="329.9" x2="662.6" y2="364.2" stroke="#555" stroke-width="0.9"/>
<path d="M661.6,244.5H790.6M661.6,244.5V364.2H790.6" fill="none" stroke="#1e1e1e" stroke-width="1.35"/>
<line x1="790.6" y1="244.5" x2="790.6" y2="364.2" stroke="#1e1e1e" stroke-width="1.35"/>
<path d="M654.6,364.2H661.6M657.6,357.2H661.6M657.6,350.2H661.6M657.6,343.2H661.6M657.6,336.2H661.6M654.6,329.2H661.6M657.6,322.2H661.6M657.6,315.2H661.6M657.6,308.2H661.6M657.6,301.2H661.6M654.6,294.2H661.6M657.6,287.2H661.6M657.6,280.2H661.6M657.6,273.2H661.6M657.6,266.2H661.6M654.6,259.2H661.6M657.6,252.2H661.6M657.6,245.2H661.6" stroke="#1e1e1e" stroke-width="1" fill="none"/>
<text transform="translate(654.4,364.2) rotate(-90) scale(1.2,0.93)" text-anchor="middle" class="yl">0</text>
<text transform="translate(654.4,329.2) rotate(-90) scale(1.2,0.93)" text-anchor="middle" class="yl">50</text>
<text transform="translate(654.4,294.2) rotate(-90) scale(1.2,0.93)" text-anchor="middle" class="yl">100</text>
<text transform="translate(654.4,259.2) rotate(-90) scale(1.2,0.93)" text-anchor="middle" class="yl">150</text>
<path d="M662.31,364.2V370.2M666.37,364.2V370.2M669.52,364.2V370.2M672.09,364.2V370.2M674.27,364.2V370.2M676.15,364.2V370.2M677.81,364.2V370.2M679.3,364.2V374.2M689.08,364.2V370.2M694.81,364.2V370.2M698.87,364.2V370.2M702.02,364.2V370.2M704.59,364.2V370.2M706.77,364.2V370.2M708.65,364.2V370.2M710.31,364.2V370.2M711.8,364.2V374.2M721.58,364.2V370.2M727.31,364.2V370.2M731.37,364.2V370.2M734.52,364.2V370.2M737.09,364.2V370.2M739.27,364.2V370.2M741.15,364.2V370.2M742.81,364.2V370.2M744.3,364.2V374.2M754.08,364.2V370.2M759.81,364.2V370.2M763.87,364.2V370.2M767.02,364.2V370.2M769.59,364.2V370.2M771.77,364.2V370.2M773.65,364.2V370.2M775.31,364.2V370.2M776.8,364.2V374.2M786.58,364.2V370.2" stroke="#1e1e1e" stroke-width="1" fill="none"/>
<text x="680.9" y="385.5" class="xl" text-anchor="end" transform="translate(680.9,0) scale(0.62,1) translate(-680.9,0)">10</text>
<text x="681.3" y="378.5" class="xs" transform="translate(681.3,0) scale(0.62,1) translate(-681.3,0)">2</text>
<text x="713.4" y="385.5" class="xl" text-anchor="end" transform="translate(713.4,0) scale(0.62,1) translate(-713.4,0)">10</text>
<text x="713.8" y="378.5" class="xs" transform="translate(713.8,0) scale(0.62,1) translate(-713.8,0)">3</text>
<text x="745.9" y="385.5" class="xl" text-anchor="end" transform="translate(745.9,0) scale(0.62,1) translate(-745.9,0)">10</text>
<text x="746.3" y="378.5" class="xs" transform="translate(746.3,0) scale(0.62,1) translate(-746.3,0)">4</text>
<text x="778.4" y="385.5" class="xl" text-anchor="end" transform="translate(778.4,0) scale(0.62,1) translate(-778.4,0)">10</text>
<text x="778.8" y="378.5" class="xs" transform="translate(778.8,0) scale(0.62,1) translate(-778.8,0)">5</text>
<path d="M42.8,544.4L42.8,530.87L43.35,530.87L43.35,528.56L43.9,528.56L43.9,527.4L44.45,527.4L44.45,517.48L45,517.48L45,527.66L45.55,527.66L45.55,533.2L46.1,533.2L46.1,514.01L46.65,514.01L46.65,511.77L47.2,511.77L47.2,509.14L47.75,509.14L47.75,507.71L48.3,507.71L48.3,505.86L48.85,505.86L48.85,512.26L49.4,512.26L49.4,512.96L49.95,512.96L49.95,513.77L50.5,513.77L50.5,515.8L51.05,515.8L51.05,508.81L51.6,508.81L51.6,504.01L52.15,504.01L52.15,493.65L52.7,493.65L52.7,483.87L53.25,483.87L53.25,480.19L53.8,480.19L53.8,470.59L54.35,470.59L54.35,467.42L54.9,467.42L54.9,477.16L55.45,477.16L55.45,462.95L56,462.95L56,453.49L56.55,453.49L56.55,442.83L57.1,442.83L57.1,468.17L57.65,468.17L57.65,471.43L58.2,471.43L58.2,480.41L58.75,480.41L58.75,485.62L59.3,485.62L59.3,498.53L59.85,498.53L59.85,459.34L60.4,459.34L60.4,449.72L60.95,449.72L60.95,451.77L61.5,451.77L61.5,449.23L62.05,449.23L62.05,450.75L62.6,450.75L62.6,460.48L63.15,460.48L63.15,445.9L63.7,445.9L63.7,458.94L64.25,458.94L64.25,475.4L64.8,475.4L64.8,452.53L65.35,452.53L65.35,456.4L65.9,456.4L65.9,441.85L66.45,441.85L66.45,441L67,441L67,443.8L67.55,443.8L67.55,447.48L68.1,447.48L68.1,436.63L68.65,436.63L68.65,432.13L69.2,432.13L69.2,433.75L69.75,433.75L69.75,433.62L70.3,433.62L70.3,432.38L70.85,432.38L70.85,447.83L71.4,447.83L71.4,435.28L71.95,435.28L71.95,443.56L72.5,443.56L72.5,439.6L73.05,439.6L73.05,450.65L73.6,450.65L73.6,441.4L74.15,441.4L74.15,444.12L74.7,444.12L74.7,457.06L75.25,457.06L75.25,462.42L75.8,462.42L75.8,465.71L76.35,465.71L76.35,481.05L76.9,481.05L76.9,470.31L77.45,470.31L77.45,463.92L78,463.92L78,462.33L78.55,462.33L78.55,462.2L79.1,462.2L79.1,471.63L79.65,471.63L79.65,472.65L80.2,472.65L80.2,474.26L80.75,474.26L80.75,479.69L81.3,479.69L81.3,489.81L81.85,489.81L81.85,493.47L82.4,493.47L82.4,495.04L82.95,495.04L82.95,500.04L83.5,500.04L83.5,502.16L84.05,502.16L84.05,504.17L84.6,504.17L84.6,507.23L85.15,507.23L85.15,509.99L85.7,509.99L85.7,513.35L86.25,513.35L86.25,516.84L86.8,516.84L86.8,521.7L87.35,521.7L87.35,526.22L87.9,526.22L87.9,528.24L88.45,528.24L88.45,529.28L89,529.28L89,530.6L89.55,530.6L89.55,532.05L90.1,532.05L90.1,534.71L90.65,534.71L90.65,535.11L91.2,535.11L91.2,538.8L91.75,538.8L91.75,537.82L92.3,537.82L92.3,539.92L92.85,539.92L92.85,539.9L93.4,539.9L93.4,541.52L93.95,541.52L93.95,540.07L94.5,540.07L94.5,541.44L95.05,541.44L95.05,541.05L95.6,541.05L95.6,541.23L96.15,541.23L96.15,542.18L96.7,542.18L96.7,543.15L97.25,543.15L97.25,543.07L97.8,543.07L97.8,542.3L98.35,542.3L98.35,543.69L98.9,543.69L98.9,543.15L99.45,543.15L99.45,543.98L100,543.98L100.35,544.4Z" fill="#989898" stroke="#555555" stroke-width="1.3" stroke-linejoin="miter"/>
<path d="M43.62,528.56v0.53M44.72,517.48v2M45.82,533.2v1.27M46.37,514.01v2.67M47.47,509.14v3.51M48.57,505.86v1.69M49.67,512.96v1.53M50.22,513.77v1.55M50.77,515.8v2.97M51.87,504.01v4.72M52.42,493.65v2.31M52.97,483.87v3.8M54.62,467.42v5.64M55.72,462.95v9.74M56.27,453.49v4.57M56.82,442.83v8.27M57.37,468.17v8.2M57.92,471.43v2.82M59.02,485.62v6.45M60.12,459.34v10.13M60.67,449.72v9.42M61.22,451.77v10.85M62.87,460.48v3.72M63.42,445.9v7.53M64.52,475.4v2.7M65.07,452.53v8.16M66.17,441.85v12.23M66.72,441v3.98M67.27,443.8v9.63M67.82,447.48v3.67M68.37,436.63v7.43M68.92,432.13v6.87M69.47,433.75v9.41M70.57,432.38v4.13M71.67,435.28v11.79M72.22,443.56v9.66M72.77,439.6v10.22M73.87,441.4v11.08M74.97,457.06v9.56M75.52,462.42v5.65M76.07,465.71v7.4M76.62,481.05v5.27M77.17,470.31v2.92M77.72,463.92v7.3M78.27,462.33v5.37M79.37,471.63v5.04M80.47,474.26v3.77M81.57,489.81v4.4M82.67,495.04v4.28M83.77,502.16v3.44M84.32,504.17v3.08M85.42,509.99v3.19M86.52,516.84v2.87M87.07,521.7v1.31M87.62,526.22v1.41M88.17,528.24v1.18M89.27,530.6v1.54M89.82,532.05v0.76M91.47,538.8v0.41M92.02,537.82v0.26M92.57,539.92v0.19M93.12,539.9v0.24M94.22,540.07v0.37" stroke="#555" stroke-width="0.55" fill="none" opacity="0.75"/>
<line x1="68.5" y1="417.8" x2="68.5" y2="440.4" stroke="#4a4a4a" stroke-width="0.8"/>
<path d="M41.9,417.8H173.5M41.9,417.8V544.4H173.5" fill="none" stroke="#1e1e1e" stroke-width="1.1"/>
<path d="M34.9,544.4H41.9M37.9,540.78H41.9M37.9,537.17H41.9M37.9,533.55H41.9M37.9,529.94H41.9M34.9,526.32H41.9M37.9,522.71H41.9M37.9,519.1H41.9M37.9,515.48H41.9M37.9,511.87H41.9M34.9,508.25H41.9M37.9,504.63H41.9M37.9,501.02H41.9M37.9,497.4H41.9M37.9,493.79H41.9M34.9,490.17H41.9M37.9,486.56H41.9M37.9,482.94H41.9M37.9,479.33H41.9M37.9,475.71H41.9M34.9,472.1H41.9M37.9,468.49H41.9M37.9,464.87H41.9M37.9,461.25H41.9M37.9,457.64H41.9M34.9,454.02H41.9M37.9,450.41H41.9M37.9,446.79H41.9M37.9,443.18H41.9M37.9,439.56H41.9M34.9,435.95H41.9M37.9,432.33H41.9M37.9,428.72H41.9M37.9,425.1H41.9M37.9,421.49H41.9M34.9,417.88H41.9" stroke="#1e1e1e" stroke-width="1" fill="none"/>
<text transform="translate(33.9,544.4) rotate(-90)" text-anchor="middle" class="yls" font-size="7.3" style="font-size:7.3px">0</text>
<text transform="translate(33.9,526.32) rotate(-90)" text-anchor="middle" class="yls" font-size="7.3" style="font-size:7.3px">50</text>
<text transform="translate(33.9,508.25) rotate(-90)" text-anchor="middle" class="yls" font-size="7.3" style="font-size:7.3px">100</text>
<text transform="translate(33.9,490.17) rotate(-90)" text-anchor="middle" class="yls" font-size="7.3" style="font-size:7.3px">150</text>
<text transform="translate(33.9,472.1) rotate(-90)" text-anchor="middle" class="yls" font-size="7.3" style="font-size:7.3px">200</text>
<text transform="translate(33.9,454.02) rotate(-90)" text-anchor="middle" class="yls" font-size="7.3" style="font-size:7.3px">250</text>
<text transform="translate(33.9,435.95) rotate(-90)" text-anchor="middle" class="yls" font-size="7.3" style="font-size:7.3px">300</text>
<path d="M44.17,544.4V549.4M50.87,544.4V549.4M56.06,544.4V549.4M60.31,544.4V549.4M63.9,544.4V549.4M67.01,544.4V549.4M69.75,544.4V549.4M72.2,544.4V551.9M88.34,544.4V549.4M97.77,544.4V549.4M104.47,544.4V549.4M109.66,544.4V549.4M113.91,544.4V549.4M117.5,544.4V549.4M120.61,544.4V549.4M123.35,544.4V549.4M125.8,544.4V551.9M141.94,544.4V549.4M151.37,544.4V549.4M158.07,544.4V549.4M163.26,544.4V549.4M167.51,544.4V549.4" stroke="#1e1e1e" stroke-width="1" fill="none"/>
<text x="73.6" y="560.2" class="xl2" text-anchor="end" transform="translate(73.6,0) scale(0.75,1) translate(-73.6,0)">10</text>
<text x="73.8" y="555.6" class="xs2" transform="translate(73.8,0) scale(0.72,1) translate(-73.8,0)">2</text>
<text x="127.2" y="560.2" class="xl2" text-anchor="end" transform="translate(127.2,0) scale(0.75,1) translate(-127.2,0)">10</text>
<text x="127.4" y="555.6" class="xs2" transform="translate(127.4,0) scale(0.72,1) translate(-127.4,0)">3</text>
<path d="M198.8,544.2L198.8,540.03L199.35,540.03L199.35,540.84L199.9,540.84L199.9,540.95L200.45,540.95L200.45,540.5L201,540.5L201,538.97L201.55,538.97L201.55,539.45L202.1,539.45L202.1,538.98L202.65,538.98L202.65,537.97L203.2,537.97L203.2,540.49L203.75,540.49L203.75,540.18L204.3,540.18L204.3,539.05L204.85,539.05L204.85,539.25L205.4,539.25L205.4,540.77L205.95,540.77L205.95,538.82L206.5,538.82L206.5,535.31L207.05,535.31L207.05,535.88L207.6,535.88L207.6,530.88L208.15,530.88L208.15,533.04L208.7,533.04L208.7,534.35L209.25,534.35L209.25,541.87L209.8,541.87L209.8,535.72L210.35,535.72L210.35,535.47L210.9,535.47L210.9,535.2L211.45,535.2L211.45,538.24L212,538.24L212,535.05L212.55,535.05L212.55,535.23L213.1,535.23L213.1,531.79L213.65,531.79L213.65,532.03L214.2,532.03L214.2,533.4L214.75,533.4L214.75,528.85L215.3,528.85L215.3,526.89L215.85,526.89L215.85,527.43L216.4,527.43L216.4,526.16L216.95,526.16L216.95,523.58L217.5,523.58L217.5,525.51L218.05,525.51L218.05,526.75L218.6,526.75L218.6,527.06L219.15,527.06L219.15,527.52L219.7,527.52L219.7,526.04L220.25,526.04L220.25,525.1L220.8,525.1L220.8,523.84L221.35,523.84L221.35,524.57L221.9,524.57L221.9,521.67L222.45,521.67L222.45,520.3L223,520.3L223,518.76L223.55,518.76L223.55,514.24L224.1,514.24L224.1,512.96L224.65,512.96L224.65,508.85L225.2,508.85L225.2,508.8L225.75,508.8L225.75,511.78L226.3,511.78L226.3,512.71L226.85,512.71L226.85,512.13L227.4,512.13L227.4,513L227.95,513L227.95,506.58L228.5,506.58L228.5,503.5L229.05,503.5L229.05,500.15L229.6,500.15L229.6,500.36L230.15,500.36L230.15,498.32L230.7,498.32L230.7,498.99L231.25,498.99L231.25,495.83L231.8,495.83L231.8,494L232.35,494L232.35,487.02L232.9,487.02L232.9,485.09L233.45,485.09L233.45,488.97L234,488.97L234,489.6L234.55,489.6L234.55,488.54L235.1,488.54L235.1,488.02L235.65,488.02L235.65,477.05L236.2,477.05L236.2,473.43L236.75,473.43L236.75,480.62L237.3,480.62L237.3,478.66L237.85,478.66L237.85,464.28L238.4,464.28L238.4,458.21L238.95,458.21L238.95,456.28L239.5,456.28L239.5,446.78L240.05,446.78L240.05,433.98L240.6,433.98L240.6,438.72L241.15,438.72L241.15,451.88L241.7,451.88L241.7,452.68L242.25,452.68L242.25,451.95L242.8,451.95L242.8,453.62L243.35,453.62L243.35,451.76L243.9,451.76L243.9,459.12L244.45,459.12L244.45,435.63L245,435.63L245,430.29L245.55,430.29L245.55,438.87L246.1,438.87L246.1,422.82L246.65,422.82L246.65,418.1L247.2,418.1L247.2,421.02L247.75,421.02L247.75,423.41L248.3,423.41L248.3,421.96L248.85,421.96L248.85,439.59L249.4,439.59L249.4,429.11L249.95,429.11L249.95,428.43L250.5,428.43L250.5,436.51L251.05,436.51L251.05,434.31L251.6,434.31L251.6,440.42L252.15,440.42L252.15,445.69L252.7,445.69L252.7,444.83L253.25,444.83L253.25,446.89L253.8,446.89L253.8,457.73L254.35,457.73L254.35,457.68L254.9,457.68L254.9,464.86L255.45,464.86L255.45,473.44L256,473.44L256,476.67L256.55,476.67L256.55,482.85L257.1,482.85L257.1,484.79L257.65,484.79L257.65,495.19L258.2,495.19L258.2,489.75L258.75,489.75L258.75,493.96L259.3,493.96L259.3,495.69L259.85,495.69L259.85,502.5L260.4,502.5L260.4,507.14L260.95,507.14L260.95,508.86L261.5,508.86L261.5,510.88L262.05,510.88L262.05,513.57L262.6,513.57L262.6,516.49L263.15,516.49L263.15,518.89L263.7,518.89L263.7,521.94L264.25,521.94L264.25,523.47L264.8,523.47L264.8,525.28L265.35,525.28L265.35,527.82L265.9,527.82L265.9,530.63L266.45,530.63L266.45,531.23L267,531.23L267,533.4L267.55,533.4L267.55,535.06L268.1,535.06L268.1,535.03L268.65,535.03L268.65,538.37L269.2,538.37L269.2,537.9L269.75,537.9L269.75,538.62L270.3,538.62L270.3,539.55L270.85,539.55L270.85,540.41L271.4,540.41L271.4,540.11L271.95,540.11L271.95,542.15L272.5,542.15L272.5,542.93L273.05,542.93L273.05,543.48L273.6,543.48L273.6,543.84L274.15,543.84L274.25,544.2Z" fill="#989898" stroke="#555555" stroke-width="1.3" stroke-linejoin="miter"/>
<path d="M199.63,540.84v0.4M200.18,540.95v0.19M200.73,540.5v0.32M201.28,538.97v0.52M201.83,539.45v0.35M202.38,538.98v0.58M204.58,539.05v0.25M205.68,540.77v0.33M206.23,538.82v0.35M206.78,535.31v0.91M207.33,535.88v0.45M210.63,535.47v1M211.73,538.24v0.28M212.83,535.23v0.77M213.38,531.79v1.2M213.93,532.03v0.51M215.58,526.89v1.9M216.13,527.43v0.89M216.68,526.16v0.75M217.23,523.58v1.15M217.78,525.51v1.82M219.43,527.52v1.8M220.53,525.1v1.45M221.08,523.84v0.7M221.63,524.57v0.62M222.18,521.67v1.75M222.73,520.3v1.34M223.28,518.76v2.87M224.38,512.96v2.77M224.93,508.85v3.14M225.48,508.8v2.47M226.03,511.78v1.38M226.58,512.71v1.56M227.13,512.13v1.02M227.68,513v3.35M229.33,500.15v3.15M229.88,500.36v2.11M230.43,498.32v3.06M232.08,494v2.64M232.63,487.02v3.56M233.18,485.09v6.96M233.73,488.97v2.9M234.28,489.6v5.08M234.83,488.54v3.45M235.38,488.02v3.85M237.03,480.62v5.86M238.13,464.28v8.18M239.23,456.28v7.78M239.78,446.78v3.17M240.33,433.98v8.02M240.88,438.72v6.4M241.43,451.88v6.48M243.08,453.62v9.69M243.63,451.76v6.58M245.28,430.29v4.25M245.83,438.87v11.55M246.38,422.82v14M248.03,423.41v4.19M248.58,421.96v5.89M249.68,429.11v3.53M250.78,436.51v12.22M251.33,434.31v10.95M252.43,445.69v9.43M252.98,444.83v7.57M254.08,457.73v7.44M255.18,464.86v6.19M256.28,476.67v5.18M256.83,482.85v3.2M257.93,495.19v5.82M258.48,489.75v5.86M259.03,493.96v3.07M259.58,495.69v3.87M260.68,507.14v1.64M261.23,508.86v1.81M261.78,510.88v3.55M262.33,513.57v2.22M262.88,516.49v2.63M263.43,518.89v2.93M264.53,523.47v2.12M265.08,525.28v0.92M266.18,530.63v0.72M266.73,531.23v1.03M267.28,533.4v0.8M267.83,535.06v0.28M268.93,538.37v0.25M269.48,537.9v0.59M270.03,538.62v0.6M270.58,539.55v0.16" stroke="#555" stroke-width="0.55" fill="none" opacity="0.75"/>
<path d="M196.6,417.6H328.1M196.6,417.6V544.2H328.1" fill="none" stroke="#1e1e1e" stroke-width="1.1"/>
<path d="M189.6,544.2H196.6M192.6,541.14H196.6M192.6,538.08H196.6M192.6,535.02H196.6M192.6,531.96H196.6M189.6,528.9H196.6M192.6,525.84H196.6M192.6,522.78H196.6M192.6,519.72H196.6M192.6,516.66H196.6M189.6,513.6H196.6M192.6,510.54H196.6M192.6,507.48H196.6M192.6,504.42H196.6M192.6,501.36H196.6M189.6,498.3H196.6M192.6,495.24H196.6M192.6,492.18H196.6M192.6,489.12H196.6M192.6,486.06H196.6M189.6,483H196.6M192.6,479.94H196.6M192.6,476.88H196.6M192.6,473.82H196.6M192.6,470.76H196.6M189.6,467.7H196.6M192.6,464.64H196.6M192.6,461.58H196.6M192.6,458.52H196.6M192.6,455.46H196.6M189.6,452.4H196.6M192.6,449.34H196.6M192.6,446.28H196.6M192.6,443.22H196.6M192.6,440.16H196.6M189.6,437.1H196.6M192.6,434.04H196.6M192.6,430.98H196.6M192.6,427.92H196.6M192.6,424.86H196.6M189.6,421.8H196.6M192.6,418.74H196.6" stroke="#1e1e1e" stroke-width="1" fill="none"/>
<text transform="translate(188.6,544.2) rotate(-90)" text-anchor="middle" class="yls">0</text>
<text transform="translate(188.6,528.9) rotate(-90)" text-anchor="middle" class="yls">50</text>
<text transform="translate(188.6,513.6) rotate(-90)" text-anchor="middle" class="yls">100</text>
<text transform="translate(188.6,498.3) rotate(-90)" text-anchor="middle" class="yls">150</text>
<text transform="translate(188.6,483) rotate(-90)" text-anchor="middle" class="yls">200</text>
<text transform="translate(188.6,467.7) rotate(-90)" text-anchor="middle" class="yls">250</text>
<text transform="translate(188.6,452.4) rotate(-90)" text-anchor="middle" class="yls">300</text>
<text transform="translate(188.6,437.1) rotate(-90)" text-anchor="middle" class="yls">350</text>
<text transform="translate(188.6,421.8) rotate(-90)" text-anchor="middle" class="yls">400</text>
<path d="M198.69,544.2V549.2M205.31,544.2V549.2M210.45,544.2V549.2M214.64,544.2V549.2M218.19,544.2V549.2M221.26,544.2V549.2M223.97,544.2V549.2M226.4,544.2V551.7M242.35,544.2V549.2M251.69,544.2V549.2M258.31,544.2V549.2M263.45,544.2V549.2M267.64,544.2V549.2M271.19,544.2V549.2M274.26,544.2V549.2M276.97,544.2V549.2M279.4,544.2V551.7M295.35,544.2V549.2M304.69,544.2V549.2M311.31,544.2V549.2M316.45,544.2V549.2M320.64,544.2V549.2M324.19,544.2V549.2" stroke="#1e1e1e" stroke-width="1" fill="none"/>
<text x="227.8" y="559.5" class="xl2" text-anchor="end" transform="translate(227.8,0) scale(0.75,1) translate(-227.8,0)">10</text>
<text x="228" y="554.9" class="xs2" transform="translate(228,0) scale(0.72,1) translate(-228,0)">2</text>
<text x="280.8" y="559.5" class="xl2" text-anchor="end" transform="translate(280.8,0) scale(0.75,1) translate(-280.8,0)">10</text>
<text x="281" y="554.9" class="xs2" transform="translate(281,0) scale(0.72,1) translate(-281,0)">3</text>
<path d="M353.5,544.2L353.5,537.35L354.05,537.35L354.05,540.58L354.6,540.58L354.6,537.75L355.15,537.75L355.15,537.57L355.7,537.57L355.7,540.71L356.25,540.71L356.25,537.86L356.8,537.86L356.8,539.25L357.35,539.25L357.35,539.04L357.9,539.04L357.9,538.93L358.45,538.93L358.45,538.38L359,538.38L359,537.4L359.55,537.4L359.55,538.9L360.1,538.9L360.1,536.43L360.65,536.43L360.65,538.21L361.2,538.21L361.2,537.91L361.75,537.91L361.75,538.67L362.3,538.67L362.3,536.79L362.85,536.79L362.85,535.61L363.4,535.61L363.4,531.39L363.95,531.39L363.95,531.27L364.5,531.27L364.5,530.47L365.05,530.47L365.05,530.31L365.6,530.31L365.6,528.17L366.15,528.17L366.15,526.19L366.7,526.19L366.7,525.63L367.25,525.63L367.25,524.83L367.8,524.83L367.8,527L368.35,527L368.35,522.84L368.9,522.84L368.9,525.62L369.45,525.62L369.45,529.86L370,529.86L370,528.49L370.55,528.49L370.55,524.97L371.1,524.97L371.1,524.61L371.65,524.61L371.65,524.64L372.2,524.64L372.2,523.04L372.75,523.04L372.75,522.83L373.3,522.83L373.3,521.63L373.85,521.63L373.85,522.87L374.4,522.87L374.4,519.26L374.95,519.26L374.95,519.1L375.5,519.1L375.5,518.83L376.05,518.83L376.05,517.78L376.6,517.78L376.6,515.33L377.15,515.33L377.15,505.68L377.7,505.68L377.7,501.03L378.25,501.03L378.25,504.29L378.8,504.29L378.8,506.16L379.35,506.16L379.35,503.32L379.9,503.32L379.9,508.19L380.45,508.19L380.45,505.89L381,505.89L381,504.55L381.55,504.55L381.55,506.63L382.1,506.63L382.1,501.95L382.65,501.95L382.65,501.91L383.2,501.91L383.2,496.82L383.75,496.82L383.75,498.61L384.3,498.61L384.3,497.25L384.85,497.25L384.85,499.47L385.4,499.47L385.4,486.93L385.95,486.93L385.95,474.53L386.5,474.53L386.5,463.2L387.05,463.2L387.05,471.62L387.6,471.62L387.6,482.09L388.15,482.09L388.15,482.19L388.7,482.19L388.7,478.28L389.25,478.28L389.25,474.94L389.8,474.94L389.8,469.49L390.35,469.49L390.35,460.21L390.9,460.21L390.9,456.98L391.45,456.98L391.45,450.79L392,450.79L392,445.22L392.55,445.22L392.55,462.28L393.1,462.28L393.1,455.84L393.65,455.84L393.65,452.75L394.2,452.75L394.2,448.7L394.75,448.7L394.75,426.6L395.3,426.6L395.3,428.79L395.85,428.79L395.85,436.23L396.4,436.23L396.4,443.52L396.95,443.52L396.95,448.61L397.5,448.61L397.5,445.25L398.05,445.25L398.05,446.31L398.6,446.31L398.6,435.96L399.15,435.96L399.15,444.97L399.7,444.97L399.7,438L400.25,438L400.25,445.33L400.8,445.33L400.8,442.81L401.35,442.81L401.35,439.55L401.9,439.55L401.9,431.65L402.45,431.65L402.45,440.08L403,440.08L403,429.67L403.55,429.67L403.55,429.95L404.1,429.95L404.1,441.94L404.65,441.94L404.65,441.06L405.2,441.06L405.2,439.58L405.75,439.58L405.75,448.84L406.3,448.84L406.3,443.4L406.85,443.4L406.85,456.96L407.4,456.96L407.4,452.85L407.95,452.85L407.95,455.87L408.5,455.87L408.5,464.62L409.05,464.62L409.05,461.69L409.6,461.69L409.6,466.19L410.15,466.19L410.15,474.01L410.7,474.01L410.7,481.01L411.25,481.01L411.25,488.57L411.8,488.57L411.8,486.5L412.35,486.5L412.35,495.7L412.9,495.7L412.9,495.46L413.45,495.46L413.45,497.18L414,497.18L414,505.98L414.55,505.98L414.55,507.72L415.1,507.72L415.1,512.18L415.65,512.18L415.65,515.32L416.2,515.32L416.2,519.31L416.75,519.31L416.75,522.35L417.3,522.35L417.3,523.63L417.85,523.63L417.85,525.3L418.4,525.3L418.4,526.55L418.95,526.55L418.95,529.04L419.5,529.04L419.5,530.87L420.05,530.87L420.05,532.83L420.6,532.83L420.6,534.15L421.15,534.15L421.15,536.69L421.7,536.69L421.7,536.28L422.25,536.28L422.25,537.89L422.8,537.89L422.8,541.12L423.35,541.12L423.35,540.79L423.9,540.79L423.9,540.06L424.45,540.06L424.45,540.74L425,540.74L425,541.96L425.55,541.96L425.55,540.92L426.1,540.92L426.1,542.13L426.65,542.13L426.65,543.32L427.2,543.32L427.2,542.64L427.75,542.64L428.25,544.2Z" fill="#989898" stroke="#555555" stroke-width="1.3" stroke-linejoin="miter"/>
<path d="M355.43,537.57v0.5M356.53,537.86v0.32M357.08,539.25v0.56M357.63,539.04v0.52M358.18,538.93v0.62M360.38,536.43v0.55M360.93,538.21v0.35M361.48,537.91v0.49M362.03,538.67v0.44M362.58,536.79v0.72M363.68,531.39v1.34M364.23,531.27v0.89M365.88,528.17v1.08M366.98,525.63v0.99M367.53,524.83v1.38M368.08,527v1.08M368.63,522.84v1.06M370.28,528.49v1.69M371.93,524.64v1.4M373.03,522.83v1.89M373.58,521.63v0.77M374.13,522.87v1.97M374.68,519.26v1.23M375.23,519.1v1.15M376.33,517.78v3.08M377.98,501.03v2.2M379.08,506.16v2.01M379.63,503.32v4.64M380.18,508.19v1.36M380.73,505.89v3.18M381.83,506.63v2.89M382.38,501.95v3.7M382.93,501.91v2.45M383.48,496.82v5.29M384.03,498.61v3.15M384.58,497.25v5.02M385.68,486.93v3.7M386.78,463.2v4.46M387.33,471.62v4.86M388.43,482.19v2.5M389.53,474.94v6.24M390.08,469.49v2.81M390.63,460.21v8.6M391.18,456.98v8.36M392.28,445.22v10.8M392.83,462.28v6.48M393.93,452.75v5.6M395.03,426.6v5.94M395.58,428.79v9.22M396.68,443.52v10.65M397.23,448.61v8.93M397.78,445.25v8.47M398.33,446.31v10.13M399.43,444.97v10.24M401.08,442.81v6.64M401.63,439.55v9.25M402.18,431.65v12.39M402.73,440.08v5.69M403.28,429.67v13.72M403.83,429.95v6.28M404.93,441.06v5.11M405.48,439.58v10.55M407.13,456.96v9.08M407.68,452.85v5.94M408.23,455.87v9.63M408.78,464.62v5.79M409.33,461.69v4.47M409.88,466.19v6.74M410.43,474.01v7.23M412.08,486.5v5.38M412.63,495.7v3.82M413.18,495.46v5.58M413.73,497.18v2.57M414.28,505.98v3.38M414.83,507.72v1.52M415.38,512.18v3.81M415.93,515.32v1.93M417.58,523.63v1.13M418.13,525.3v1.13M418.68,526.55v1.96M419.23,529.04v0.82M419.78,530.87v0.85M420.33,532.83v0.59M420.88,534.15v0.59M421.98,536.28v0.27M423.08,541.12v0.15M423.63,540.79v0.22M424.18,540.06v0.47" stroke="#555" stroke-width="0.55" fill="none" opacity="0.75"/>
<line x1="400.9" y1="417.6" x2="400.9" y2="444.02" stroke="#4a4a4a" stroke-width="0.8"/>
<line x1="351.8" y1="507.4" x2="351.8" y2="544.2" stroke="#555" stroke-width="0.9"/>
<path d="M350.8,417.6H482.6M350.8,417.6V544.2H482.6" fill="none" stroke="#1e1e1e" stroke-width="1.1"/>
<path d="M343.8,544.2H350.8M346.8,541.14H350.8M346.8,538.08H350.8M346.8,535.02H350.8M346.8,531.96H350.8M343.8,528.9H350.8M346.8,525.84H350.8M346.8,522.78H350.8M346.8,519.72H350.8M346.8,516.66H350.8M343.8,513.6H350.8M346.8,510.54H350.8M346.8,507.48H350.8M346.8,504.42H350.8M346.8,501.36H350.8M343.8,498.3H350.8M346.8,495.24H350.8M346.8,492.18H350.8M346.8,489.12H350.8M346.8,486.06H350.8M343.8,483H350.8M346.8,479.94H350.8M346.8,476.88H350.8M346.8,473.82H350.8M346.8,470.76H350.8M343.8,467.7H350.8M346.8,464.64H350.8M346.8,461.58H350.8M346.8,458.52H350.8M346.8,455.46H350.8M343.8,452.4H350.8M346.8,449.34H350.8M346.8,446.28H350.8M346.8,443.22H350.8M346.8,440.16H350.8M343.8,437.1H350.8M346.8,434.04H350.8M346.8,430.98H350.8M346.8,427.92H350.8M346.8,424.86H350.8M343.8,421.8H350.8M346.8,418.74H350.8" stroke="#1e1e1e" stroke-width="1" fill="none"/>
<text transform="translate(342.8,544.2) rotate(-90)" text-anchor="middle" class="yls">0</text>
<text transform="translate(342.8,528.9) rotate(-90)" text-anchor="middle" class="yls">50</text>
<text transform="translate(342.8,513.6) rotate(-90)" text-anchor="middle" class="yls">100</text>
<text transform="translate(342.8,498.3) rotate(-90)" text-anchor="middle" class="yls">150</text>
<text transform="translate(342.8,483) rotate(-90)" text-anchor="middle" class="yls">200</text>
<text transform="translate(342.8,467.7) rotate(-90)" text-anchor="middle" class="yls">250</text>
<text transform="translate(342.8,452.4) rotate(-90)" text-anchor="middle" class="yls">300</text>
<text transform="translate(342.8,437.1) rotate(-90)" text-anchor="middle" class="yls">350</text>
<text transform="translate(342.8,421.8) rotate(-90)" text-anchor="middle" class="yls">400</text>
<path d="M353.69,544.2V549.2M360.31,544.2V549.2M365.45,544.2V549.2M369.64,544.2V549.2M373.19,544.2V549.2M376.26,544.2V549.2M378.97,544.2V549.2M381.4,544.2V551.7M397.35,544.2V549.2M406.69,544.2V549.2M413.31,544.2V549.2M418.45,544.2V549.2M422.64,544.2V549.2M426.19,544.2V549.2M429.26,544.2V549.2M431.97,544.2V549.2M434.4,544.2V551.7M450.35,544.2V549.2M459.69,544.2V549.2M466.31,544.2V549.2M471.45,544.2V549.2M475.64,544.2V549.2M479.19,544.2V549.2" stroke="#1e1e1e" stroke-width="1" fill="none"/>
<text x="382.8" y="559.5" class="xl2" text-anchor="end" transform="translate(382.8,0) scale(0.75,1) translate(-382.8,0)">10</text>
<text x="383" y="554.9" class="xs2" transform="translate(383,0) scale(0.72,1) translate(-383,0)">2</text>
<text x="435.8" y="559.5" class="xl2" text-anchor="end" transform="translate(435.8,0) scale(0.75,1) translate(-435.8,0)">10</text>
<text x="436" y="554.9" class="xs2" transform="translate(436,0) scale(0.72,1) translate(-436,0)">3</text>
<path d="M508.5,544.2L508.5,543.26L509.05,543.26L509.05,540.18L509.6,540.18L509.6,539.62L510.15,539.62L510.15,538.92L510.7,538.92L510.7,538.25L511.25,538.25L511.25,540.22L511.8,540.22L511.8,538.4L512.35,538.4L512.35,537.57L512.9,537.57L512.9,538.44L513.45,538.44L513.45,537.01L514,537.01L514,539.19L514.55,539.19L514.55,537.97L515.1,537.97L515.1,537.48L515.65,537.48L515.65,536.01L516.2,536.01L516.2,536.31L516.75,536.31L516.75,535.68L517.3,535.68L517.3,535.68L517.85,535.68L517.85,537.28L518.4,537.28L518.4,535.49L518.95,535.49L518.95,535.61L519.5,535.61L519.5,535.94L520.05,535.94L520.05,536.65L520.6,536.65L520.6,536.22L521.15,536.22L521.15,533.2L521.7,533.2L521.7,533.18L522.25,533.18L522.25,533.1L522.8,533.1L522.8,530.93L523.35,530.93L523.35,530.29L523.9,530.29L523.9,528.25L524.45,528.25L524.45,528.61L525,528.61L525,530.97L525.55,530.97L525.55,530L526.1,530L526.1,530.75L526.65,530.75L526.65,531.6L527.2,531.6L527.2,531.99L527.75,531.99L527.75,532.61L528.3,532.61L528.3,530.33L528.85,530.33L528.85,529.08L529.4,529.08L529.4,531.08L529.95,531.08L529.95,529.44L530.5,529.44L530.5,528.74L531.05,528.74L531.05,521.13L531.6,521.13L531.6,518.24L532.15,518.24L532.15,517.13L532.7,517.13L532.7,514.87L533.25,514.87L533.25,516.53L533.8,516.53L533.8,522.66L534.35,522.66L534.35,516.73L534.9,516.73L534.9,512.7L535.45,512.7L535.45,510.58L536,510.58L536,507.09L536.55,507.09L536.55,506.8L537.1,506.8L537.1,506.06L537.65,506.06L537.65,507.16L538.2,507.16L538.2,504.71L538.75,504.71L538.75,504.99L539.3,504.99L539.3,499.83L539.85,499.83L539.85,503.07L540.4,503.07L540.4,495.54L540.95,495.54L540.95,494.53L541.5,494.53L541.5,489.95L542.05,489.95L542.05,492.83L542.6,492.83L542.6,490.28L543.15,490.28L543.15,489.85L543.7,489.85L543.7,490.58L544.25,490.58L544.25,484.22L544.8,484.22L544.8,480.34L545.35,480.34L545.35,476.79L545.9,476.79L545.9,481.11L546.45,481.11L546.45,467.43L547,467.43L547,467L547.55,467L547.55,460.4L548.1,460.4L548.1,456.41L548.65,456.41L548.65,461.42L549.2,461.42L549.2,445.56L549.75,445.56L549.75,439.34L550.3,439.34L550.3,445.77L550.85,445.77L550.85,456.8L551.4,456.8L551.4,455.52L551.95,455.52L551.95,460.97L552.5,460.97L552.5,446.58L553.05,446.58L553.05,442.9L553.6,442.9L553.6,441.72L554.15,441.72L554.15,447.98L554.7,447.98L554.7,435.19L555.25,435.19L555.25,431.85L555.8,431.85L555.8,423.29L556.35,423.29L556.35,420.59L556.9,420.59L556.9,418.8L557.45,418.8L557.45,431.51L558,431.51L558,439.15L558.55,439.15L558.55,434.61L559.1,434.61L559.1,441.34L559.65,441.34L559.65,435.02L560.2,435.02L560.2,441.63L560.75,441.63L560.75,439.52L561.3,439.52L561.3,430.72L561.85,430.72L561.85,441.61L562.4,441.61L562.4,436.69L562.95,436.69L562.95,447.81L563.5,447.81L563.5,448.32L564.05,448.32L564.05,445.22L564.6,445.22L564.6,448.49L565.15,448.49L565.15,451.39L565.7,451.39L565.7,454.42L566.25,454.42L566.25,452.93L566.8,452.93L566.8,460.5L567.35,460.5L567.35,461.96L567.9,461.96L567.9,465.71L568.45,465.71L568.45,465.26L569,465.26L569,467.49L569.55,467.49L569.55,470.35L570.1,470.35L570.1,477.85L570.65,477.85L570.65,488.01L571.2,488.01L571.2,489.55L571.75,489.55L571.75,495.35L572.3,495.35L572.3,500.77L572.85,500.77L572.85,500.81L573.4,500.81L573.4,505.7L573.95,505.7L573.95,507.99L574.5,507.99L574.5,507.92L575.05,507.92L575.05,509.38L575.6,509.38L575.6,516.31L576.15,516.31L576.15,518.94L576.7,518.94L576.7,520.61L577.25,520.61L577.25,523.16L577.8,523.16L577.8,525.4L578.35,525.4L578.35,525.91L578.9,525.91L578.9,528.85L579.45,528.85L579.45,532.37L580,532.37L580,532L580.55,532L580.55,533.65L581.1,533.65L581.1,536.11L581.65,536.11L581.65,535.04L582.2,535.04L582.2,536.11L582.75,536.11L582.75,538.52L583.3,538.52L583.3,539.05L583.85,539.05L583.85,540.74L584.4,540.74L584.4,541.71L584.95,541.71L584.95,540.15L585.5,540.15L585.5,540.73L586.05,540.73L586.05,540.97L586.6,540.97L586.6,541.9L587.15,541.9L587.15,544.2L587.7,544.2L587.7,542.64L588.25,542.64L588.25,543.67L588.8,543.67L588.8,543.57L589.35,543.57L589.35,543L589.9,543L590.15,544.2Z" fill="#989898" stroke="#555555" stroke-width="1.3" stroke-linejoin="miter"/>
<path d="M511.53,540.22v0.17M512.08,538.4v0.58M512.62,537.57v0.32M513.17,538.44v0.36M514.27,539.19v0.58M514.82,537.97v0.69M515.37,537.48v0.24M515.92,536.01v0.54M516.47,536.31v0.29M517.02,535.68v0.57M517.57,535.68v0.81M518.12,537.28v0.41M518.67,535.49v0.65M520.87,536.22v0.54M521.42,533.2v0.94M521.97,533.18v1.03M523.07,530.93v0.64M524.72,528.61v1.42M525.27,530.97v1.17M525.82,530v0.54M526.37,530.75v0.61M526.92,531.6v1M527.47,531.99v0.94M528.57,530.33v0.78M529.67,531.08v0.52M530.22,529.44v1.54M531.32,521.13v2.54M531.87,518.24v2.64M532.42,517.13v2.24M532.97,514.87v1.38M533.52,516.53v1.71M535.17,512.7v3.64M535.72,510.58v2.64M536.82,506.8v3.4M537.37,506.06v2.83M537.92,507.16v3.62M538.47,504.71v3.42M539.02,504.99v3M539.57,499.83v4.12M540.12,503.07v1.54M540.67,495.54v1.69M541.22,494.53v3.95M541.77,489.95v4.8M543.42,489.85v3.22M545.07,480.34v6.75M545.62,476.79v5.33M546.17,481.11v4.69M548.37,456.41v7.28M549.47,445.56v7.82M550.57,445.77v9.32M551.12,456.8v3.01M551.67,455.52v9.83M553.32,442.9v5.07M554.97,435.19v8.71M556.62,420.59v9.02M557.72,431.51v6.4M558.82,434.61v6.26M559.37,441.34v8.85M559.92,435.02v4.06M560.47,441.63v12.23M561.02,439.52v7.75M562.12,441.61v3.42M562.67,436.69v6.26M563.22,447.81v4.06M563.77,448.32v5.16M564.32,445.22v5.56M564.87,448.49v8.81M565.97,454.42v8.16M566.52,452.93v10.18M568.17,465.71v7.01M569.27,467.49v7.75M570.37,477.85v6.07M570.92,488.01v5.25M572.02,495.35v5.8M572.57,500.77v3.3M573.12,500.81v3.39M575.32,509.38v3.26M576.42,518.94v1.88M576.97,520.61v0.72M577.52,523.16v0.97M578.07,525.4v1.03M578.62,525.91v1.16M579.72,532.37v0.68M580.82,533.65v0.5M581.37,536.11v0.37M581.92,535.04v1M582.47,536.11v0.62M583.57,539.05v0.44M584.12,540.74v0.3M585.77,540.73v0.19M586.32,540.97v0.16" stroke="#555" stroke-width="0.55" fill="none" opacity="0.75"/>
<line x1="556.9" y1="417.6" x2="556.9" y2="424.1" stroke="#4a4a4a" stroke-width="0.8"/>
<line x1="506.8" y1="495.1" x2="506.8" y2="544.2" stroke="#555" stroke-width="0.9"/>
<path d="M505.8,417.6H637.1M505.8,417.6V544.2H637.1" fill="none" stroke="#1e1e1e" stroke-width="1.1"/>
<path d="M498.8,544.2H505.8M501.8,540.8H505.8M501.8,537.4H505.8M501.8,534H505.8M501.8,530.6H505.8M498.8,527.2H505.8M501.8,523.8H505.8M501.8,520.4H505.8M501.8,517H505.8M501.8,513.6H505.8M498.8,510.2H505.8M501.8,506.8H505.8M501.8,503.4H505.8M501.8,500H505.8M501.8,496.6H505.8M498.8,493.2H505.8M501.8,489.8H505.8M501.8,486.4H505.8M501.8,483H505.8M501.8,479.6H505.8M498.8,476.2H505.8M501.8,472.8H505.8M501.8,469.4H505.8M501.8,466H505.8M501.8,462.6H505.8M498.8,459.2H505.8M501.8,455.8H505.8M501.8,452.4H505.8M501.8,449H505.8M501.8,445.6H505.8M498.8,442.2H505.8M501.8,438.8H505.8M501.8,435.4H505.8M501.8,432H505.8M501.8,428.6H505.8M498.8,425.2H505.8M501.8,421.8H505.8M501.8,418.4H505.8" stroke="#1e1e1e" stroke-width="1" fill="none"/>
<text transform="translate(497.8,544.2) rotate(-90)" text-anchor="middle" class="yls">0</text>
<text transform="translate(497.8,527.2) rotate(-90)" text-anchor="middle" class="yls">50</text>
<text transform="translate(497.8,510.2) rotate(-90)" text-anchor="middle" class="yls">100</text>
<text transform="translate(497.8,493.2) rotate(-90)" text-anchor="middle" class="yls">150</text>
<text transform="translate(497.8,476.2) rotate(-90)" text-anchor="middle" class="yls">200</text>
<text transform="translate(497.8,459.2) rotate(-90)" text-anchor="middle" class="yls">250</text>
<text transform="translate(497.8,442.2) rotate(-90)" text-anchor="middle" class="yls">300</text>
<text transform="translate(497.8,425.2) rotate(-90)" text-anchor="middle" class="yls">350</text>
<path d="M508.19,544.2V549.2M514.81,544.2V549.2M519.95,544.2V549.2M524.14,544.2V549.2M527.69,544.2V549.2M530.76,544.2V549.2M533.47,544.2V549.2M535.9,544.2V551.7M551.85,544.2V549.2M561.19,544.2V549.2M567.81,544.2V549.2M572.95,544.2V549.2M577.14,544.2V549.2M580.69,544.2V549.2M583.76,544.2V549.2M586.47,544.2V549.2M588.9,544.2V551.7M604.85,544.2V549.2M614.19,544.2V549.2M620.81,544.2V549.2M625.95,544.2V549.2M630.14,544.2V549.2M633.69,544.2V549.2" stroke="#1e1e1e" stroke-width="1" fill="none"/>
<text x="537.3" y="559.5" class="xl2" text-anchor="end" transform="translate(537.3,0) scale(0.75,1) translate(-537.3,0)">10</text>
<text x="537.5" y="554.9" class="xs2" transform="translate(537.5,0) scale(0.72,1) translate(-537.5,0)">2</text>
<text x="590.3" y="559.5" class="xl2" text-anchor="end" transform="translate(590.3,0) scale(0.75,1) translate(-590.3,0)">10</text>
<text x="590.5" y="554.9" class="xs2" transform="translate(590.5,0) scale(0.72,1) translate(-590.5,0)">3</text>
<path d="M656.8,543.2L656.8,534.28L657.35,534.28L657.35,531.65L657.9,531.65L657.9,532.79L658.45,532.79L658.45,532.1L659,532.1L659,530.16L659.55,530.16L659.55,531.06L660.1,531.06L660.1,527.19L660.65,527.19L660.65,525.76L661.2,525.76L661.2,524.38L661.75,524.38L661.75,522.52L662.3,522.52L662.3,519.83L662.85,519.83L662.85,515.9L663.4,515.9L663.4,511.26L663.95,511.26L663.95,509.42L664.5,509.42L664.5,506.29L665.05,506.29L665.05,504.08L665.6,504.08L665.6,502.85L666.15,502.85L666.15,501.26L666.7,501.26L666.7,503.88L667.25,503.88L667.25,498.81L667.8,498.81L667.8,503.21L668.35,503.21L668.35,499.01L668.9,499.01L668.9,499.38L669.45,499.38L669.45,495.59L670,495.59L670,502.36L670.55,502.36L670.55,493.06L671.1,493.06L671.1,493.51L671.65,493.51L671.65,492.02L672.2,492.02L672.2,484.51L672.75,484.51L672.75,474.39L673.3,474.39L673.3,463.84L673.85,463.84L673.85,461.92L674.4,461.92L674.4,458.52L674.95,458.52L674.95,459.9L675.5,459.9L675.5,467.71L676.05,467.71L676.05,460.65L676.6,460.65L676.6,453.39L677.15,453.39L677.15,449.96L677.7,449.96L677.7,441.02L678.25,441.02L678.25,441.51L678.8,441.51L678.8,440.84L679.35,440.84L679.35,445.92L679.9,445.92L679.9,444.85L680.45,444.85L680.45,438.64L681,438.64L681,431.61L681.55,431.61L681.55,434.64L682.1,434.64L682.1,433.47L682.65,433.47L682.65,423.4L683.2,423.4L683.2,419.41L683.75,419.41L683.75,426.88L684.3,426.88L684.3,437.89L684.85,437.89L684.85,428.22L685.4,428.22L685.4,436.28L685.95,436.28L685.95,438.47L686.5,438.47L686.5,447.04L687.05,447.04L687.05,447.41L687.6,447.41L687.6,453.55L688.15,453.55L688.15,457.91L688.7,457.91L688.7,461.57L689.25,461.57L689.25,473.81L689.8,473.81L689.8,474.53L690.35,474.53L690.35,481.32L690.9,481.32L690.9,488.32L691.45,488.32L691.45,492.95L692,492.95L692,495.54L692.55,495.54L692.55,498.18L693.1,498.18L693.1,500.14L693.65,500.14L693.65,507.71L694.2,507.71L694.2,510.14L694.75,510.14L694.75,520.24L695.3,520.24L695.3,518.55L695.85,518.55L695.85,523.14L696.4,523.14L696.4,528.09L696.95,528.09L696.95,534.15L697.5,534.15L697.5,534.95L698.05,534.95L698.05,534.28L698.6,534.28L698.6,537.04L699.15,537.04L699.15,536.91L699.7,536.91L699.7,539.86L700.25,539.86L700.25,538.49L700.8,538.49L700.8,539.66L701.35,539.66L701.35,540.76L701.9,540.76L701.9,540.96L702.45,540.96L702.45,542.1L703,542.1L703,542.04L703.55,542.04L703.55,543.2L704.1,543.2L704.1,542.72L704.65,542.72L704.65,542.81L705.2,542.81L705.2,542.9L705.75,542.9L705.75,542.99L706.3,542.99L706.3,543.08L706.85,543.08L706.85,543.17L707.4,543.17L707.55,543.2Z" fill="#989898" stroke="#555555" stroke-width="1.3" stroke-linejoin="miter"/>
<path d="M657.07,534.28v0.47M657.62,531.65v1.09M658.72,532.1v0.87M660.37,527.19v1.05M661.47,524.38v2.25M662.02,522.52v1.89M662.57,519.83v1.68M663.12,515.9v1.91M663.67,511.26v2.13M665.32,504.08v3.07M665.87,502.85v2.77M666.97,503.88v3.02M667.52,498.81v3.71M668.07,503.21v3.27M668.62,499.01v4.12M669.72,495.59v4.15M670.27,502.36v4.24M670.82,493.06v4.78M671.92,492.02v4.07M673.02,474.39v4.69M674.67,458.52v8.57M675.22,459.9v8.97M676.32,460.65v7.8M676.87,453.39v4.02M678.52,441.51v4.39M679.07,440.84v4.76M679.62,445.92v9.43M680.72,438.64v5.69M681.82,434.64v4.31M682.92,423.4v13.98M684.02,426.88v8.17M684.57,437.89v10.36M685.67,436.28v3.72M686.22,438.47v5.38M688.97,461.57v4.55M689.52,473.81v8.21M690.07,474.53v4.11M690.62,481.32v5.77M691.17,488.32v5.34M692.27,495.54v3.9M692.82,498.18v2.27M694.47,510.14v3.23M695.02,520.24v2.61M696.12,523.14v1.49M696.67,528.09v0.98M697.77,534.95v0.87M698.87,537.04v0.19M699.42,536.91v0.5M699.97,539.86v0.39M700.52,538.49v0.21M701.07,539.66v0.18" stroke="#555" stroke-width="0.55" fill="none" opacity="0.75"/>
<line x1="683.6" y1="417.3" x2="683.6" y2="424.1" stroke="#4a4a4a" stroke-width="0.8"/>
<line x1="656.5" y1="452.5" x2="656.5" y2="543.2" stroke="#555" stroke-width="0.9"/>
<path d="M655.5,417.3H791.2M655.5,417.3V543.2H791.2" fill="none" stroke="#1e1e1e" stroke-width="1.1"/>
<line x1="791.2" y1="417.3" x2="791.2" y2="543.2" stroke="#1e1e1e" stroke-width="1.1"/>
<path d="M650.9,543.2H655.5M652.5,539.07H655.5M652.5,534.94H655.5M652.5,530.81H655.5M652.5,526.68H655.5M650.9,522.55H655.5M652.5,518.42H655.5M652.5,514.29H655.5M652.5,510.16H655.5M652.5,506.03H655.5M650.9,501.9H655.5M652.5,497.77H655.5M652.5,493.64H655.5M652.5,489.51H655.5M652.5,485.38H655.5M650.9,481.25H655.5M652.5,477.12H655.5M652.5,472.99H655.5M652.5,468.86H655.5M652.5,464.73H655.5M650.9,460.6H655.5M652.5,456.47H655.5M652.5,452.34H655.5M652.5,448.21H655.5M652.5,444.08H655.5M650.9,439.95H655.5M652.5,435.82H655.5M652.5,431.69H655.5M652.5,427.56H655.5M652.5,423.43H655.5M650.9,419.3H655.5" stroke="#1e1e1e" stroke-width="1" fill="none"/>
<text transform="translate(650.3,543.2) rotate(-90)" text-anchor="middle" class="yls" fill="#555" style="fill:#555;stroke:#555">0</text>
<text transform="translate(650.3,522.55) rotate(-90)" text-anchor="middle" class="yls" fill="#555" style="fill:#555;stroke:#555">50</text>
<text transform="translate(650.3,501.9) rotate(-90)" text-anchor="middle" class="yls" fill="#555" style="fill:#555;stroke:#555">100</text>
<text transform="translate(650.3,481.25) rotate(-90)" text-anchor="middle" class="yls" fill="#555" style="fill:#555;stroke:#555">150</text>
<text transform="translate(650.3,460.6) rotate(-90)" text-anchor="middle" class="yls" fill="#555" style="fill:#555;stroke:#555">200</text>
<text transform="translate(650.3,439.95) rotate(-90)" text-anchor="middle" class="yls" fill="#555" style="fill:#555;stroke:#555">250</text>
<text transform="translate(650.3,419.3) rotate(-90)" text-anchor="middle" class="yls" fill="#555" style="fill:#555;stroke:#555">300</text>
<path d="M656.27,543.2V548.2M660.53,543.2V548.2M663.83,543.2V548.2M666.53,543.2V548.2M668.82,543.2V548.2M670.8,543.2V548.2M672.54,543.2V548.2M674.1,543.2V550.7M684.37,543.2V548.2M690.37,543.2V548.2M694.63,543.2V548.2M697.93,543.2V548.2M700.63,543.2V548.2M702.92,543.2V548.2M704.9,543.2V548.2M706.64,543.2V548.2M708.2,543.2V550.7M718.47,543.2V548.2M724.47,543.2V548.2M728.73,543.2V548.2M732.03,543.2V548.2M734.73,543.2V548.2M737.02,543.2V548.2M739,543.2V548.2M740.74,543.2V548.2M742.3,543.2V550.7M752.57,543.2V548.2M758.57,543.2V548.2M762.83,543.2V548.2M766.13,543.2V548.2M768.83,543.2V548.2M771.12,543.2V548.2M773.1,543.2V548.2M774.84,543.2V548.2M776.4,543.2V550.7M786.67,543.2V548.2" stroke="#1e1e1e" stroke-width="1" fill="none"/>
<text x="675.5" y="558.5" class="xl2" style="fill:#555;stroke:#555" text-anchor="end" transform="translate(675.5,0) scale(0.75,1) translate(-675.5,0)">10</text>
<text x="675.7" y="553.9" class="xs2" style="fill:#555;stroke:#555" transform="translate(675.7,0) scale(0.72,1) translate(-675.7,0)">2</text>
<text x="709.6" y="558.5" class="xl2" style="fill:#555;stroke:#555" text-anchor="end" transform="translate(709.6,0) scale(0.75,1) translate(-709.6,0)">10</text>
<text x="709.8" y="553.9" class="xs2" style="fill:#555;stroke:#555" transform="translate(709.8,0) scale(0.72,1) translate(-709.8,0)">3</text>
<text x="743.7" y="558.5" class="xl2" style="fill:#555;stroke:#555" text-anchor="end" transform="translate(743.7,0) scale(0.75,1) translate(-743.7,0)">10</text>
<text x="743.9" y="553.9" class="xs2" style="fill:#555;stroke:#555" transform="translate(743.9,0) scale(0.72,1) translate(-743.9,0)">4</text>
<text x="777.8" y="558.5" class="xl2" style="fill:#555;stroke:#555" text-anchor="end" transform="translate(777.8,0) scale(0.75,1) translate(-777.8,0)">10</text>
<text x="778" y="553.9" class="xs2" style="fill:#555;stroke:#555" transform="translate(778,0) scale(0.72,1) translate(-778,0)">5</text>
<path d="M44.8,703.8L44.8,698.33L45.35,698.33L45.35,696.9L45.9,696.9L45.9,694.52L46.45,694.52L46.45,693.49L47,693.49L47,691.12L47.55,691.12L47.55,689.94L48.1,689.94L48.1,689.93L48.65,689.93L48.65,686.74L49.2,686.74L49.2,690.8L49.75,690.8L49.75,687.68L50.3,687.68L50.3,687.64L50.85,687.64L50.85,688.06L51.4,688.06L51.4,687.35L51.95,687.35L51.95,686.55L52.5,686.55L52.5,684.92L53.05,684.92L53.05,685.06L53.6,685.06L53.6,683.61L54.15,683.61L54.15,680.29L54.7,680.29L54.7,680.58L55.25,680.58L55.25,675.95L55.8,675.95L55.8,672.94L56.35,672.94L56.35,672.97L56.9,672.97L56.9,673.96L57.45,673.96L57.45,672.27L58,672.27L58,668.36L58.55,668.36L58.55,667.81L59.1,667.81L59.1,668.5L59.65,668.5L59.65,669.9L60.2,669.9L60.2,662.15L60.75,662.15L60.75,657.82L61.3,657.82L61.3,654.51L61.85,654.51L61.85,655.63L62.4,655.63L62.4,661.11L62.95,661.11L62.95,651.74L63.5,651.74L63.5,650.52L64.05,650.52L64.05,648.94L64.6,648.94L64.6,641.6L65.15,641.6L65.15,638.1L65.7,638.1L65.7,635.44L66.25,635.44L66.25,630.58L66.8,630.58L66.8,630.81L67.35,630.81L67.35,625.58L67.9,625.58L67.9,623.44L68.45,623.44L68.45,625.73L69,625.73L69,621.41L69.55,621.41L69.55,617.78L70.1,617.78L70.1,623.21L70.65,623.21L70.65,613.64L71.2,613.64L71.2,606.46L71.75,606.46L71.75,604.21L72.3,604.21L72.3,605.59L72.85,605.59L72.85,597.2L73.4,597.2L73.4,598.76L73.95,598.76L73.95,601.9L74.5,601.9L74.5,605.39L75.05,605.39L75.05,599.79L75.6,599.79L75.6,608.69L76.15,608.69L76.15,598.83L76.7,598.83L76.7,593.9L77.25,593.9L77.25,600.72L77.8,600.72L77.8,596.15L78.35,596.15L78.35,619.92L78.9,619.92L78.9,634.94L79.45,634.94L79.45,621.8L80,621.8L80,617.64L80.55,617.64L80.55,622.04L81.1,622.04L81.1,631.68L81.65,631.68L81.65,626.3L82.2,626.3L82.2,627.36L82.75,627.36L82.75,629.22L83.3,629.22L83.3,630.73L83.85,630.73L83.85,635.07L84.4,635.07L84.4,635.86L84.95,635.86L84.95,640.51L85.5,640.51L85.5,643.66L86.05,643.66L86.05,650.41L86.6,650.41L86.6,650.86L87.15,650.86L87.15,655.92L87.7,655.92L87.7,660.18L88.25,660.18L88.25,664.53L88.8,664.53L88.8,662.4L89.35,662.4L89.35,665.05L89.9,665.05L89.9,661.73L90.45,661.73L90.45,668.78L91,668.78L91,676.84L91.55,676.84L91.55,679.41L92.1,679.41L92.1,679.35L92.65,679.35L92.65,680.09L93.2,680.09L93.2,680.83L93.75,680.83L93.75,682.78L94.3,682.78L94.3,682.2L94.85,682.2L94.85,686.9L95.4,686.9L95.4,686.52L95.95,686.52L95.95,687.81L96.5,687.81L96.5,692.8L97.05,692.8L97.05,692.93L97.6,692.93L97.6,693.73L98.15,693.73L98.15,696.16L98.7,696.16L98.7,692.92L99.25,692.92L99.25,696.81L99.8,696.81L99.8,694.33L100.35,694.33L100.35,698.67L100.9,698.67L100.9,695.98L101.45,695.98L101.45,696.43L102,696.43L102,696.81L102.55,696.81L102.55,698.92L103.1,698.92L103.1,697.44L103.65,697.44L103.65,697.9L104.2,697.9L104.2,697.95L104.75,697.95L104.75,698.1L105.3,698.1L105.3,699.41L105.85,699.41L105.85,700.29L106.4,700.29L106.4,699.26L106.95,699.26L106.95,701.95L107.5,701.95L107.5,701.62L108.05,701.62L108.05,700.96L108.6,700.96L108.6,700.92L109.15,700.92L109.15,700.06L109.7,700.06L109.7,700.78L110.25,700.78L110.25,703.67L110.8,703.67L110.8,703.17L111.35,703.17L111.35,701.49L111.9,701.49L111.9,702.24L112.45,702.24L112.45,701.7L113,701.7L113,703.07L113.55,703.07L113.55,702.46L114.1,702.46L114.1,703.1L114.65,703.1L114.65,702.81L115.2,702.81L115.25,703.8Z" fill="#989898" stroke="#555555" stroke-width="1.3" stroke-linejoin="miter"/>
<path d="M45.07,698.33v0.41M45.62,696.9v0.77M46.17,694.52v1.09M46.72,693.49v0.76M47.82,689.94v0.7M48.92,686.74v1.59M49.47,690.8v0.62M50.02,687.68v1.62M51.12,688.06v0.88M53.32,685.06v1.12M53.87,683.61v1.39M54.42,680.29v2.02M55.52,675.95v2.46M56.07,672.94v3.26M56.62,672.97v1.95M57.17,673.96v2.95M59.92,669.9v3.75M61.02,657.82v4.18M61.57,654.51v3.03M63.77,650.52v6.38M64.32,648.94v3.08M64.87,641.6v4.69M65.97,635.44v3.89M66.52,630.58v7.21M67.07,630.81v4.28M67.62,625.58v5.32M68.72,625.73v5.3M69.82,617.78v4.48M70.37,623.21v7M70.92,613.64v6.34M72.57,605.59v10.06M73.12,597.2v9.29M74.22,601.9v10.23M75.32,599.79v6.36M75.87,608.69v3.84M76.42,598.83v5.72M77.52,600.72v7.15M78.07,596.15v7.44M79.17,634.94v8.13M79.72,621.8v6.92M80.27,617.64v8.23M80.82,622.04v4.52M81.37,631.68v8.41M81.92,626.3v8.32M82.47,627.36v4.36M83.02,629.22v6.54M84.12,635.07v8.07M85.22,640.51v4.45M85.77,643.66v3.65M86.32,650.41v4.02M86.87,650.86v5.78M87.42,655.92v4.31M90.17,661.73v1.97M90.72,668.78v1.15M91.27,676.84v2.88M91.82,679.41v1.88M92.37,679.35v2.37M92.92,680.09v1.68M93.47,680.83v1.91M94.02,682.78v2.32M94.57,682.2v2.56M95.12,686.9v0.99M95.67,686.52v1.99M96.22,687.81v1.3M96.77,692.8v0.89M97.32,692.93v1.22M97.87,693.73v0.44M98.42,696.16v0.38M99.52,696.81v0.49M100.07,694.33v0.62M100.62,698.67v0.4M101.17,695.98v0.25M101.72,696.43v0.77M102.82,698.92v0.28M103.37,697.44v0.47M104.47,697.95v0.36M105.57,699.41v0.44" stroke="#555" stroke-width="0.55" fill="none" opacity="0.75"/>
<line x1="76.6" y1="586.6" x2="76.6" y2="602.7" stroke="#4a4a4a" stroke-width="0.8"/>
<path d="M43.6,586.6H173.3M43.6,586.6V703.8H173.3" fill="none" stroke="#1e1e1e" stroke-width="1.35"/>
<line x1="173.3" y1="586.6" x2="173.3" y2="703.8" stroke="#1e1e1e" stroke-width="1.35"/>
<path d="M36.6,703.8H43.6M39.6,698.72H43.6M39.6,693.64H43.6M39.6,688.56H43.6M39.6,683.48H43.6M36.6,678.4H43.6M39.6,673.32H43.6M39.6,668.24H43.6M39.6,663.16H43.6M39.6,658.08H43.6M36.6,653H43.6M39.6,647.92H43.6M39.6,642.84H43.6M39.6,637.76H43.6M39.6,632.68H43.6M36.6,627.6H43.6M39.6,622.52H43.6M39.6,617.44H43.6M39.6,612.36H43.6M39.6,607.28H43.6M36.6,602.2H43.6M39.6,597.12H43.6M39.6,592.04H43.6M39.6,586.96H43.6" stroke="#1e1e1e" stroke-width="1" fill="none"/>
<text transform="translate(36.4,703.8) rotate(-90) scale(1.2,0.93)" text-anchor="middle" class="yl">0</text>
<text transform="translate(36.4,678.4) rotate(-90) scale(1.2,0.93)" text-anchor="middle" class="yl">50</text>
<text transform="translate(36.4,653) rotate(-90) scale(1.2,0.93)" text-anchor="middle" class="yl">100</text>
<text transform="translate(36.4,627.6) rotate(-90) scale(1.2,0.93)" text-anchor="middle" class="yl">150</text>
<text transform="translate(36.4,602.2) rotate(-90) scale(1.2,0.93)" text-anchor="middle" class="yl">200</text>
<path d="M44.41,703.8V709.8M48.47,703.8V709.8M51.62,703.8V709.8M54.19,703.8V709.8M56.37,703.8V709.8M58.25,703.8V709.8M59.91,703.8V709.8M61.4,703.8V713.8M71.18,703.8V709.8M76.91,703.8V709.8M80.97,703.8V709.8M84.12,703.8V709.8M86.69,703.8V709.8M88.87,703.8V709.8M90.75,703.8V709.8M92.41,703.8V709.8M93.9,703.8V713.8M103.68,703.8V709.8M109.41,703.8V709.8M113.47,703.8V709.8M116.62,703.8V709.8M119.19,703.8V709.8M121.37,703.8V709.8M123.25,703.8V709.8M124.91,703.8V709.8M126.4,703.8V713.8M136.18,703.8V709.8M141.91,703.8V709.8M145.97,703.8V709.8M149.12,703.8V709.8M151.69,703.8V709.8M153.87,703.8V709.8M155.75,703.8V709.8M157.41,703.8V709.8M158.9,703.8V713.8M168.68,703.8V709.8" stroke="#1e1e1e" stroke-width="1" fill="none"/>
<text x="63" y="726.5" class="xl" text-anchor="end" transform="translate(63,0) scale(0.62,1) translate(-63,0)">10</text>
<text x="63.4" y="719.5" class="xs" transform="translate(63.4,0) scale(0.62,1) translate(-63.4,0)">2</text>
<text x="95.5" y="726.5" class="xl" text-anchor="end" transform="translate(95.5,0) scale(0.62,1) translate(-95.5,0)">10</text>
<text x="95.9" y="719.5" class="xs" transform="translate(95.9,0) scale(0.62,1) translate(-95.9,0)">3</text>
<text x="128" y="726.5" class="xl" text-anchor="end" transform="translate(128,0) scale(0.62,1) translate(-128,0)">10</text>
<text x="128.4" y="719.5" class="xs" transform="translate(128.4,0) scale(0.62,1) translate(-128.4,0)">4</text>
<text x="160.5" y="726.5" class="xl" text-anchor="end" transform="translate(160.5,0) scale(0.62,1) translate(-160.5,0)">10</text>
<text x="160.9" y="719.5" class="xs" transform="translate(160.9,0) scale(0.62,1) translate(-160.9,0)">5</text>
<path d="M198.8,704.5L198.8,699.05L199.35,699.05L199.35,697.37L199.9,697.37L199.9,696.45L200.45,696.45L200.45,694.1L201,694.1L201,691.81L201.55,691.81L201.55,690.99L202.1,690.99L202.1,689.72L202.65,689.72L202.65,692.32L203.2,692.32L203.2,696.25L203.75,696.25L203.75,700.54L204.3,700.54L204.3,697.16L204.85,697.16L204.85,694.89L205.4,694.89L205.4,693.64L205.95,693.64L205.95,688.12L206.5,688.12L206.5,688.32L207.05,688.32L207.05,688.82L207.6,688.82L207.6,689.08L208.15,689.08L208.15,690.4L208.7,690.4L208.7,688.78L209.25,688.78L209.25,685.95L209.8,685.95L209.8,683.16L210.35,683.16L210.35,682.36L210.9,682.36L210.9,681.92L211.45,681.92L211.45,681.89L212,681.89L212,680.48L212.55,680.48L212.55,680.08L213.1,680.08L213.1,681.58L213.65,681.58L213.65,674.46L214.2,674.46L214.2,675.57L214.75,675.57L214.75,666.83L215.3,666.83L215.3,668.1L215.85,668.1L215.85,664.83L216.4,664.83L216.4,667.3L216.95,667.3L216.95,665.49L217.5,665.49L217.5,662.28L218.05,662.28L218.05,661.71L218.6,661.71L218.6,662.31L219.15,662.31L219.15,661.01L219.7,661.01L219.7,664.87L220.25,664.87L220.25,658.51L220.8,658.51L220.8,662.12L221.35,662.12L221.35,662.57L221.9,662.57L221.9,654.59L222.45,654.59L222.45,649.98L223,649.98L223,644.15L223.55,644.15L223.55,644.34L224.1,644.34L224.1,643.13L224.65,643.13L224.65,640.29L225.2,640.29L225.2,646.65L225.75,646.65L225.75,631.25L226.3,631.25L226.3,623.59L226.85,623.59L226.85,617.13L227.4,617.13L227.4,616.59L227.95,616.59L227.95,624.16L228.5,624.16L228.5,623.69L229.05,623.69L229.05,617.22L229.6,617.22L229.6,629.6L230.15,629.6L230.15,622.1L230.7,622.1L230.7,619.45L231.25,619.45L231.25,618.82L231.8,618.82L231.8,604.95L232.35,604.95L232.35,609.71L232.9,609.71L232.9,612.24L233.45,612.24L233.45,621.72L234,621.72L234,622.44L234.55,622.44L234.55,625.53L235.1,625.53L235.1,625.75L235.65,625.75L235.65,605.93L236.2,605.93L236.2,600.3L236.75,600.3L236.75,601.23L237.3,601.23L237.3,597.38L237.85,597.38L237.85,594.72L238.4,594.72L238.4,598.44L238.95,598.44L238.95,602.66L239.5,602.66L239.5,622.36L240.05,622.36L240.05,612.28L240.6,612.28L240.6,615.42L241.15,615.42L241.15,605.63L241.7,605.63L241.7,617.08L242.25,617.08L242.25,611.68L242.8,611.68L242.8,595.22L243.35,595.22L243.35,593.66L243.9,593.66L243.9,593.26L244.45,593.26L244.45,594.25L245,594.25L245,591.62L245.55,591.62L245.55,607.61L246.1,607.61L246.1,597.54L246.65,597.54L246.65,599.26L247.2,599.26L247.2,611.1L247.75,611.1L247.75,605.55L248.3,605.55L248.3,609.61L248.85,609.61L248.85,609.6L249.4,609.6L249.4,606.95L249.95,606.95L249.95,610.57L250.5,610.57L250.5,604.58L251.05,604.58L251.05,609.22L251.6,609.22L251.6,606.8L252.15,606.8L252.15,605.93L252.7,605.93L252.7,613.03L253.25,613.03L253.25,615.55L253.8,615.55L253.8,601.99L254.35,601.99L254.35,601.69L254.9,601.69L254.9,607.95L255.45,607.95L255.45,623.71L256,623.71L256,626.25L256.55,626.25L256.55,630.2L257.1,630.2L257.1,624.62L257.65,624.62L257.65,626.77L258.2,626.77L258.2,628.99L258.75,628.99L258.75,638.18L259.3,638.18L259.3,642.55L259.85,642.55L259.85,639.29L260.4,639.29L260.4,641.79L260.95,641.79L260.95,642.62L261.5,642.62L261.5,645.31L262.05,645.31L262.05,649.34L262.6,649.34L262.6,656.56L263.15,656.56L263.15,652.64L263.7,652.64L263.7,661.84L264.25,661.84L264.25,664.76L264.8,664.76L264.8,663.72L265.35,663.72L265.35,668.65L265.9,668.65L265.9,668.86L266.45,668.86L266.45,674.41L267,674.41L267,677.83L267.55,677.83L267.55,678.71L268.1,678.71L268.1,682.31L268.65,682.31L268.65,685.95L269.2,685.95L269.2,687.18L269.75,687.18L269.75,691.31L270.3,691.31L270.3,693L270.85,693L270.85,692.47L271.4,692.47L271.4,693.59L271.95,693.59L271.95,694.85L272.5,694.85L272.5,697.94L273.05,697.94L273.05,695.98L273.6,695.98L273.6,699.32L274.15,699.32L274.15,698.27L274.7,698.27L274.7,700.14L275.25,700.14L275.25,701.08L275.8,701.08L275.8,701.93L276.35,701.93L276.35,704.23L276.9,704.23L276.95,704.5Z" fill="#989898" stroke="#555555" stroke-width="1.3" stroke-linejoin="miter"/>
<path d="M199.08,699.05v0.61M200.18,696.45v0.34M201.28,691.81v0.67M202.38,689.72v1.04M202.93,692.32v0.42M203.48,696.25v0.49M205.68,693.64v0.87M206.23,688.12v1.56M206.78,688.32v1.88M207.33,688.82v1.18M207.88,689.08v0.5M208.43,690.4v1.62M208.98,688.78v1.53M210.63,682.36v2.33M211.18,681.92v0.69M211.73,681.89v0.82M213.38,681.58v1.03M214.48,675.57v1.92M215.03,666.83v3.2M215.58,668.1v3.39M216.68,667.3v2.81M217.23,665.49v2.22M217.78,662.28v2.39M219.43,661.01v3.3M219.98,664.87v2.58M220.53,658.51v2.11M221.08,662.12v4.6M221.63,662.57v2.96M222.18,654.59v5.48M222.73,649.98v3.86M223.28,644.15v5.95M223.83,644.34v4.52M224.38,643.13v4.06M224.93,640.29v6.18M225.48,646.65v4.96M226.03,631.25v7.61M228.23,624.16v5.52M228.78,623.69v8.43M229.33,617.22v7.49M229.88,629.6v3.17M230.43,622.1v7.47M231.53,618.82v8.11M233.73,621.72v8.51M234.28,622.44v6.53M235.38,625.75v8.39M235.93,605.93v11.52M237.03,601.23v7.65M237.58,597.38v5.71M239.23,602.66v8.96M240.88,615.42v8.48M241.43,605.63v9.87M242.53,611.68v10.27M243.63,593.66v5.66M244.18,593.26v10.31M244.73,594.25v4.24M245.28,591.62v13.36M246.38,597.54v9.96M246.93,599.26v11.9M247.48,611.1v9.92M248.58,609.61v3.88M249.68,606.95v10.54M250.78,604.58v11.08M251.33,609.22v7.21M252.43,605.93v7.86M254.63,601.69v10.23M255.18,607.95v10.49M256.28,626.25v9.09M256.83,630.2v3.35M257.38,624.62v7.09M258.48,628.99v4.81M259.03,638.18v6.41M260.68,641.79v4.88M261.78,645.31v5.22M262.33,649.34v3.81M262.88,656.56v4.71M263.43,652.64v5.02M264.53,664.76v3.94M265.08,663.72v2.3M265.63,668.65v3.09M266.18,668.86v3.57M267.83,678.71v1.09M269.48,687.18v1.84M270.03,691.31v0.44M271.13,692.47v1.43M271.68,693.59v0.48M272.23,694.85v0.39M272.78,697.94v0.29M273.88,699.32v0.23M274.43,698.27v0.65M274.98,700.14v0.28M275.53,701.08v0.13" stroke="#555" stroke-width="0.55" fill="none" opacity="0.75"/>
<line x1="240.4" y1="586.6" x2="240.4" y2="611.17" stroke="#4a4a4a" stroke-width="0.8"/>
<line x1="242.7" y1="586.6" x2="242.7" y2="601.8" stroke="#4a4a4a" stroke-width="0.8"/>
<line x1="251.6" y1="586.6" x2="251.6" y2="612.38" stroke="#4a4a4a" stroke-width="0.8"/>
<path d="M197.8,586.6H320M197.8,586.6V704.5H320" fill="none" stroke="#1e1e1e" stroke-width="1.35"/>
<path d="M190.8,704.5H197.8M193.8,697.06H197.8M193.8,689.62H197.8M193.8,682.18H197.8M193.8,674.74H197.8M190.8,667.3H197.8M193.8,659.86H197.8M193.8,652.42H197.8M193.8,644.98H197.8M193.8,637.54H197.8M190.8,630.1H197.8M193.8,622.66H197.8M193.8,615.22H197.8M193.8,607.78H197.8M193.8,600.34H197.8M190.8,592.9H197.8" stroke="#1e1e1e" stroke-width="1" fill="none"/>
<text transform="translate(190.6,704.5) rotate(-90) scale(1.2,0.93)" text-anchor="middle" class="yl">0</text>
<text transform="translate(190.6,667.3) rotate(-90) scale(1.2,0.93)" text-anchor="middle" class="yl">50</text>
<text transform="translate(190.6,630.1) rotate(-90) scale(1.2,0.93)" text-anchor="middle" class="yl">100</text>
<text transform="translate(190.6,592.9) rotate(-90) scale(1.2,0.93)" text-anchor="middle" class="yl">150</text>
<path d="M199.71,704.5V710.5M204.28,704.5V710.5M207.81,704.5V710.5M210.7,704.5V710.5M213.15,704.5V710.5M215.26,704.5V710.5M217.13,704.5V710.5M218.8,704.5V714.5M229.79,704.5V710.5M236.21,704.5V710.5M240.78,704.5V710.5M244.31,704.5V710.5M247.2,704.5V710.5M249.65,704.5V710.5M251.76,704.5V710.5M253.63,704.5V710.5M255.3,704.5V714.5M266.29,704.5V710.5M272.71,704.5V710.5M277.28,704.5V710.5M280.81,704.5V710.5M283.7,704.5V710.5M286.15,704.5V710.5M288.26,704.5V710.5M290.13,704.5V710.5M291.8,704.5V714.5M302.79,704.5V710.5M309.21,704.5V710.5M313.78,704.5V710.5M317.31,704.5V710.5" stroke="#1e1e1e" stroke-width="1" fill="none"/>
<text x="220.3" y="723.8" class="xlm" text-anchor="end" transform="translate(220.3,0) scale(0.6,1) translate(-220.3,0)">10</text>
<text x="220.6" y="717.9" class="xsm" transform="translate(220.6,0) scale(0.65,1) translate(-220.6,0)">2</text>
<text x="256.8" y="723.8" class="xlm" text-anchor="end" transform="translate(256.8,0) scale(0.6,1) translate(-256.8,0)">10</text>
<text x="257.1" y="717.9" class="xsm" transform="translate(257.1,0) scale(0.65,1) translate(-257.1,0)">3</text>
<text x="293.3" y="723.8" class="xlm" text-anchor="end" transform="translate(293.3,0) scale(0.6,1) translate(-293.3,0)">10</text>
<text x="293.6" y="717.9" class="xsm" transform="translate(293.6,0) scale(0.65,1) translate(-293.6,0)">4</text>
<path d="M352.8,704.2L352.8,701.04L353.35,701.04L353.35,698.22L353.9,698.22L353.9,697.73L354.45,697.73L354.45,696.32L355,696.32L355,696.55L355.55,696.55L355.55,695.83L356.1,695.83L356.1,696.18L356.65,696.18L356.65,695.67L357.2,695.67L357.2,697.41L357.75,697.41L357.75,694.01L358.3,694.01L358.3,692.77L358.85,692.77L358.85,689.8L359.4,689.8L359.4,690.91L359.95,690.91L359.95,689.22L360.5,689.22L360.5,684.03L361.05,684.03L361.05,686.54L361.6,686.54L361.6,682.24L362.15,682.24L362.15,683.04L362.7,683.04L362.7,680.77L363.25,680.77L363.25,682.67L363.8,682.67L363.8,681.59L364.35,681.59L364.35,678.48L364.9,678.48L364.9,682.05L365.45,682.05L365.45,677.85L366,677.85L366,674.13L366.55,674.13L366.55,671.14L367.1,671.14L367.1,667.06L367.65,667.06L367.65,670.67L368.2,670.67L368.2,665.92L368.75,665.92L368.75,665.4L369.3,665.4L369.3,664.16L369.85,664.16L369.85,667.8L370.4,667.8L370.4,658.86L370.95,658.86L370.95,658.24L371.5,658.24L371.5,650.2L372.05,650.2L372.05,650.47L372.6,650.47L372.6,655.11L373.15,655.11L373.15,649.38L373.7,649.38L373.7,649.07L374.25,649.07L374.25,648.53L374.8,648.53L374.8,647.11L375.35,647.11L375.35,649.88L375.9,649.88L375.9,642.8L376.45,642.8L376.45,640.33L377,640.33L377,636.48L377.55,636.48L377.55,633.61L378.1,633.61L378.1,626.5L378.65,626.5L378.65,626.07L379.2,626.07L379.2,634.01L379.75,634.01L379.75,633.37L380.3,633.37L380.3,627.02L380.85,627.02L380.85,619.74L381.4,619.74L381.4,619.49L381.95,619.49L381.95,619.63L382.5,619.63L382.5,614.77L383.05,614.77L383.05,616.12L383.6,616.12L383.6,608.01L384.15,608.01L384.15,604.05L384.7,604.05L384.7,607.19L385.25,607.19L385.25,612.43L385.8,612.43L385.8,602.09L386.35,602.09L386.35,604.12L386.9,604.12L386.9,601.97L387.45,601.97L387.45,602L388,602L388,607.33L388.55,607.33L388.55,601.19L389.1,601.19L389.1,607.2L389.65,607.2L389.65,599.92L390.2,599.92L390.2,596.18L390.75,596.18L390.75,596.84L391.3,596.84L391.3,594.82L391.85,594.82L391.85,601.94L392.4,601.94L392.4,601.06L392.95,601.06L392.95,600.76L393.5,600.76L393.5,609.77L394.05,609.77L394.05,606.57L394.6,606.57L394.6,601.69L395.15,601.69L395.15,601.35L395.7,601.35L395.7,608.27L396.25,608.27L396.25,615.02L396.8,615.02L396.8,619.58L397.35,619.58L397.35,625.16L397.9,625.16L397.9,627.55L398.45,627.55L398.45,619.6L399,619.6L399,625.76L399.55,625.76L399.55,627.91L400.1,627.91L400.1,626.01L400.65,626.01L400.65,634.47L401.2,634.47L401.2,636.86L401.75,636.86L401.75,638.06L402.3,638.06L402.3,646.21L402.85,646.21L402.85,647.12L403.4,647.12L403.4,649.6L403.95,649.6L403.95,651.1L404.5,651.1L404.5,656.55L405.05,656.55L405.05,662.03L405.6,662.03L405.6,671.21L406.15,671.21L406.15,671.75L406.7,671.75L406.7,674L407.25,674L407.25,675.55L407.8,675.55L407.8,676.79L408.35,676.79L408.35,681.73L408.9,681.73L408.9,688.07L409.45,688.07L409.45,693.06L410,693.06L410,694.04L410.55,694.04L410.55,693.5L411.1,693.5L411.1,695.37L411.65,695.37L411.65,699.97L412.2,699.97L412.2,700.74L412.75,700.74L412.75,699.38L413.3,699.38L413.3,699.97L413.85,699.97L413.85,702.01L414.4,702.01L414.4,703.58L414.95,703.58L414.95,701.23L415.5,701.23L415.5,702.34L416.05,702.34L416.05,702.72L416.6,702.72L416.6,703.25L417.15,703.25L417.15,704.2L417.7,704.2L417.7,704.2L418.25,704.2L418.25,704.2L418.8,704.2L418.85,704.2Z" fill="#989898" stroke="#555555" stroke-width="1.3" stroke-linejoin="miter"/>
<path d="M353.07,701.04v0.14M354.18,697.73v0.49M354.73,696.32v0.31M355.28,696.55v0.39M355.83,695.83v0.74M356.38,696.18v0.46M356.93,695.67v0.96M357.48,697.41v0.46M358.03,694.01v1.04M359.13,689.8v0.91M360.78,684.03v0.69M361.33,686.54v0.84M361.88,682.24v0.88M362.43,683.04v2.53M362.98,680.77v1.84M363.53,682.67v0.76M364.08,681.59v1.64M366.28,674.13v2.66M367.38,667.06v4.22M369.03,665.4v4.35M369.58,664.16v3.91M370.13,667.8v1.79M370.68,658.86v1.45M372.88,655.11v2.83M373.43,649.38v4.58M373.98,649.07v3.19M375.08,647.11v6.24M376.73,640.33v7.16M377.83,633.61v5.64M378.38,626.5v5.77M378.93,626.07v2.57M379.48,634.01v5.5M380.58,627.02v6.58M381.13,619.74v9.11M381.68,619.49v6.55M382.78,614.77v2.82M383.88,608.01v7.49M384.43,604.05v7.42M384.98,607.19v4.26M385.53,612.43v9.78M386.08,602.09v5.22M386.63,604.12v5.25M387.18,601.97v4.32M387.73,602v3.7M388.28,607.33v8.12M388.83,601.19v3.27M389.38,607.2v7.76M389.93,599.92v8.21M390.48,596.18v4.43M391.03,596.84v11.32M391.58,594.82v5.79M392.13,601.94v11.9M392.68,601.06v4.48M393.23,600.76v4.93M393.78,609.77v8.18M394.33,606.57v11.45M395.43,601.35v8.16M395.98,608.27v3.99M396.53,615.02v8.66M397.08,619.58v3.84M398.73,619.6v4.97M399.83,627.91v2.29M400.93,634.47v6.57M401.48,636.86v3.87M403.13,647.12v3.87M404.78,656.55v5.59M405.33,662.03v4.7M405.88,671.21v2.13M408.08,676.79v2.82M409.18,688.07v1.61M410.28,694.04v0.47M410.83,693.5v0.88M411.38,695.37v0.73M411.93,699.97v0.16M412.48,700.74v0.22M413.58,699.97v0.44" stroke="#555" stroke-width="0.55" fill="none" opacity="0.75"/>
<line x1="385.6" y1="586.6" x2="385.6" y2="608.34" stroke="#4a4a4a" stroke-width="0.8"/>
<path d="M351.9,586.6H481.6M351.9,586.6V704.2H481.6" fill="none" stroke="#1e1e1e" stroke-width="1.35"/>
<line x1="481.6" y1="586.6" x2="481.6" y2="704.2" stroke="#1e1e1e" stroke-width="1.35"/>
<path d="M344.9,704.2H351.9M347.9,697.66H351.9M347.9,691.12H351.9M347.9,684.58H351.9M347.9,678.04H351.9M344.9,671.5H351.9M347.9,664.96H351.9M347.9,658.42H351.9M347.9,651.88H351.9M347.9,645.34H351.9M344.9,638.8H351.9M347.9,632.26H351.9M347.9,625.72H351.9M347.9,619.18H351.9M347.9,612.64H351.9M344.9,606.1H351.9M347.9,599.56H351.9M347.9,593.02H351.9M347.9,586.48H351.9" stroke="#1e1e1e" stroke-width="1" fill="none"/>
<text transform="translate(344.7,704.2) rotate(-90) scale(1.2,0.93)" text-anchor="middle" class="yl">0</text>
<text transform="translate(344.7,671.5) rotate(-90) scale(1.2,0.93)" text-anchor="middle" class="yl">50</text>
<text transform="translate(344.7,638.8) rotate(-90) scale(1.2,0.93)" text-anchor="middle" class="yl">100</text>
<text transform="translate(344.7,606.1) rotate(-90) scale(1.2,0.93)" text-anchor="middle" class="yl">150</text>
<path d="M356.33,704.2V710.2M359.49,704.2V710.2M362.07,704.2V710.2M364.25,704.2V710.2M366.14,704.2V710.2M367.81,704.2V710.2M369.3,704.2V714.2M379.11,704.2V710.2M384.85,704.2V710.2M388.93,704.2V710.2M392.09,704.2V710.2M394.67,704.2V710.2M396.85,704.2V710.2M398.74,704.2V710.2M400.41,704.2V710.2M401.9,704.2V714.2M411.71,704.2V710.2M417.45,704.2V710.2M421.53,704.2V710.2M424.69,704.2V710.2M427.27,704.2V710.2M429.45,704.2V710.2M431.34,704.2V710.2M433.01,704.2V710.2M434.5,704.2V714.2M444.31,704.2V710.2M450.05,704.2V710.2M454.13,704.2V710.2M457.29,704.2V710.2M459.87,704.2V710.2M462.05,704.2V710.2M463.94,704.2V710.2M465.61,704.2V710.2M467.1,704.2V714.2M476.91,704.2V710.2" stroke="#1e1e1e" stroke-width="1" fill="none"/>
<text x="370.9" y="727.2" class="xl" text-anchor="end" transform="translate(370.9,0) scale(0.62,1) translate(-370.9,0)">10</text>
<text x="371.3" y="720.2" class="xs" transform="translate(371.3,0) scale(0.62,1) translate(-371.3,0)">2</text>
<text x="403.5" y="727.2" class="xl" text-anchor="end" transform="translate(403.5,0) scale(0.62,1) translate(-403.5,0)">10</text>
<text x="403.9" y="720.2" class="xs" transform="translate(403.9,0) scale(0.62,1) translate(-403.9,0)">3</text>
<text x="436.1" y="727.2" class="xl" text-anchor="end" transform="translate(436.1,0) scale(0.62,1) translate(-436.1,0)">10</text>
<text x="436.5" y="720.2" class="xs" transform="translate(436.5,0) scale(0.62,1) translate(-436.5,0)">4</text>
<text x="468.7" y="727.2" class="xl" text-anchor="end" transform="translate(468.7,0) scale(0.62,1) translate(-468.7,0)">10</text>
<text x="469.1" y="720.2" class="xs" transform="translate(469.1,0) scale(0.62,1) translate(-469.1,0)">5</text>
<path d="M506.8,704.2L506.8,700.88L507.35,700.88L507.35,698.7L507.9,698.7L507.9,699.29L508.45,699.29L508.45,698.99L509,698.99L509,695.03L509.55,695.03L509.55,695.59L510.1,695.59L510.1,692.02L510.65,692.02L510.65,691.33L511.2,691.33L511.2,691.87L511.75,691.87L511.75,690.21L512.3,690.21L512.3,688.84L512.85,688.84L512.85,688.46L513.4,688.46L513.4,690.68L513.95,690.68L513.95,690.66L514.5,690.66L514.5,686.93L515.05,686.93L515.05,686.96L515.6,686.96L515.6,685.31L516.15,685.31L516.15,683.95L516.7,683.95L516.7,681.3L517.25,681.3L517.25,682.08L517.8,682.08L517.8,680.01L518.35,680.01L518.35,681.15L518.9,681.15L518.9,685.17L519.45,685.17L519.45,682.22L520,682.22L520,683.67L520.55,683.67L520.55,678.26L521.1,678.26L521.1,675.51L521.65,675.51L521.65,677L522.2,677L522.2,678.8L522.75,678.8L522.75,677.02L523.3,677.02L523.3,672.39L523.85,672.39L523.85,678.3L524.4,678.3L524.4,670.73L524.95,670.73L524.95,669.08L525.5,669.08L525.5,668.19L526.05,668.19L526.05,663.52L526.6,663.52L526.6,662.03L527.15,662.03L527.15,662.64L527.7,662.64L527.7,662.59L528.25,662.59L528.25,664.14L528.8,664.14L528.8,660.83L529.35,660.83L529.35,657.33L529.9,657.33L529.9,652.05L530.45,652.05L530.45,652.96L531,652.96L531,646.68L531.55,646.68L531.55,646.74L532.1,646.74L532.1,652.53L532.65,652.53L532.65,649.22L533.2,649.22L533.2,651.17L533.75,651.17L533.75,649.02L534.3,649.02L534.3,647.59L534.85,647.59L534.85,646.74L535.4,646.74L535.4,643.86L535.95,643.86L535.95,646.74L536.5,646.74L536.5,653.66L537.05,653.66L537.05,656.05L537.6,656.05L537.6,642.85L538.15,642.85L538.15,633.52L538.7,633.52L538.7,633.6L539.25,633.6L539.25,637.58L539.8,637.58L539.8,639.44L540.35,639.44L540.35,636.66L540.9,636.66L540.9,627.62L541.45,627.62L541.45,627.34L542,627.34L542,631.09L542.55,631.09L542.55,625.81L543.1,625.81L543.1,634.08L543.65,634.08L543.65,634L544.2,634L544.2,631.94L544.75,631.94L544.75,627.5L545.3,627.5L545.3,623.9L545.85,623.9L545.85,619.2L546.4,619.2L546.4,618.57L546.95,618.57L546.95,614.41L547.5,614.41L547.5,612.34L548.05,612.34L548.05,621.32L548.6,621.32L548.6,619.24L549.15,619.24L549.15,606.96L549.7,606.96L549.7,602.32L550.25,602.32L550.25,600.01L550.8,600.01L550.8,599.25L551.35,599.25L551.35,595.17L551.9,595.17L551.9,610.16L552.45,610.16L552.45,607.97L553,607.97L553,611.92L553.55,611.92L553.55,607.55L554.1,607.55L554.1,604.78L554.65,604.78L554.65,600.04L555.2,600.04L555.2,597.4L555.75,597.4L555.75,596.15L556.3,596.15L556.3,590.2L556.85,590.2L556.85,588.29L557.4,588.29L557.4,597.38L557.95,597.38L557.95,595.21L558.5,595.21L558.5,600.21L559.05,600.21L559.05,601.2L559.6,601.2L559.6,608.31L560.15,608.31L560.15,605.67L560.7,605.67L560.7,611.19L561.25,611.19L561.25,630.11L561.8,630.11L561.8,633.57L562.35,633.57L562.35,641.64L562.9,641.64L562.9,644.74L563.45,644.74L563.45,652.05L564,652.05L564,653.69L564.55,653.69L564.55,658.49L565.1,658.49L565.1,664.8L565.65,664.8L565.65,672.3L566.2,672.3L566.2,677.61L566.75,677.61L566.75,681.53L567.3,681.53L567.3,681.92L567.85,681.92L567.85,689.91L568.4,689.91L568.4,690.97L568.95,690.97L568.95,693.96L569.5,693.96L569.5,699.1L570.05,699.1L570.05,699.07L570.6,699.07L570.6,699.17L571.15,699.17L571.15,700.24L571.7,700.24L571.7,702.88L572.25,702.88L572.25,701.75L572.8,701.75L572.8,701.82L573.35,701.82L573.35,702.69L573.9,702.69L573.9,702.85L574.45,702.85L574.45,703.57L575,703.57L575,704.2L575.55,704.2L576.05,704.2Z" fill="#989898" stroke="#555555" stroke-width="1.3" stroke-linejoin="miter"/>
<path d="M507.07,700.88v0.18M507.62,698.7v0.6M508.73,698.99v0.23M509.28,695.03v0.96M510.38,692.02v0.84M512.03,690.21v1.41M512.58,688.84v1.12M513.67,690.68v0.45M514.22,690.66v0.69M514.77,686.93v1.59M517.52,682.08v1.58M518.07,680.01v1.67M518.62,681.15v0.88M519.17,685.17v2.17M519.72,682.22v2.41M520.82,678.26v2.51M521.92,677v2.41M522.47,678.8v2.82M523.02,677.02v1.62M523.57,672.39v3.24M524.67,670.73v3.64M525.22,669.08v1.49M525.77,668.19v2.85M526.32,663.52v4.71M526.87,662.03v4.85M528.52,664.14v3.36M529.07,660.83v4.48M530.72,652.96v2.85M531.27,646.68v5.6M531.82,646.74v6.35M532.92,649.22v2.6M534.02,649.02v5.73M534.57,647.59v5.15M535.12,646.74v3.33M535.67,643.86v2.3M536.22,646.74v4.27M536.77,653.66v5.84M537.32,656.05v3.76M538.42,633.52v5.99M538.97,633.6v3.44M540.07,639.44v3.97M541.17,627.62v5.48M541.72,627.34v6.45M542.27,631.09v2.9M542.82,625.81v3.73M544.47,631.94v3.12M545.02,627.5v4.3M545.57,623.9v2.97M546.12,619.2v8.66M546.67,618.57v6.34M547.22,614.41v5.58M547.77,612.34v7.5M548.87,619.24v3.62M549.97,602.32v6.13M550.52,600.01v9.88M551.62,595.17v11.04M552.17,610.16v3.2M553.82,607.55v7.45M554.37,604.78v8.72M554.92,600.04v6.85M555.47,597.4v7.02M556.02,596.15v4.11M556.57,590.2v7.43M557.12,588.29v5.2M557.67,597.38v6.8M559.32,601.2v10.32M559.87,608.31v5.77M560.42,605.67v10.8M560.97,611.19v4.28M562.07,633.57v7.45M563.17,644.74v5.58M563.72,652.05v3.97M564.82,658.49v2.42M565.37,664.8v3.92M565.92,672.3v2.75M567.02,681.53v2.03M567.57,681.92v1.12M568.67,690.97v1.52M569.22,693.96v0.83M569.77,699.1v0.56M570.87,699.17v0.49" stroke="#555" stroke-width="0.55" fill="none" opacity="0.75"/>
<line x1="559.2" y1="585.9" x2="559.2" y2="608.32" stroke="#4a4a4a" stroke-width="0.8"/>
<path d="M506.2,585.9H635.1M506.2,585.9V704.2H635.1" fill="none" stroke="#1e1e1e" stroke-width="1.35"/>
<line x1="635.1" y1="585.9" x2="635.1" y2="704.2" stroke="#1e1e1e" stroke-width="1.35"/>
<path d="M499.2,704.2H506.2M502.2,697.69H506.2M502.2,691.18H506.2M502.2,684.67H506.2M502.2,678.16H506.2M499.2,671.65H506.2M502.2,665.14H506.2M502.2,658.63H506.2M502.2,652.12H506.2M502.2,645.61H506.2M499.2,639.1H506.2M502.2,632.59H506.2M502.2,626.08H506.2M502.2,619.57H506.2M502.2,613.06H506.2M499.2,606.55H506.2M502.2,600.04H506.2M502.2,593.53H506.2M502.2,587.02H506.2" stroke="#1e1e1e" stroke-width="1" fill="none"/>
<text transform="translate(499,704.2) rotate(-90) scale(1.2,0.93)" text-anchor="middle" class="yl">0</text>
<text transform="translate(499,671.65) rotate(-90) scale(1.2,0.93)" text-anchor="middle" class="yl">50</text>
<text transform="translate(499,639.1) rotate(-90) scale(1.2,0.93)" text-anchor="middle" class="yl">100</text>
<text transform="translate(499,606.55) rotate(-90) scale(1.2,0.93)" text-anchor="middle" class="yl">150</text>
<path d="M510.39,704.2V710.2M513.56,704.2V710.2M516.15,704.2V710.2M518.33,704.2V710.2M520.23,704.2V710.2M521.9,704.2V710.2M523.4,704.2V714.2M533.24,704.2V710.2M539,704.2V710.2M543.09,704.2V710.2M546.26,704.2V710.2M548.85,704.2V710.2M551.03,704.2V710.2M552.93,704.2V710.2M554.6,704.2V710.2M556.1,704.2V714.2M565.94,704.2V710.2M571.7,704.2V710.2M575.79,704.2V710.2M578.96,704.2V710.2M581.55,704.2V710.2M583.73,704.2V710.2M585.63,704.2V710.2M587.3,704.2V710.2M588.8,704.2V714.2M598.64,704.2V710.2M604.4,704.2V710.2M608.49,704.2V710.2M611.66,704.2V710.2M614.25,704.2V710.2M616.43,704.2V710.2M618.33,704.2V710.2M620,704.2V710.2M621.5,704.2V714.2M631.34,704.2V710.2" stroke="#1e1e1e" stroke-width="1" fill="none"/>
<text x="525" y="725.9" class="xl" text-anchor="end" transform="translate(525,0) scale(0.62,1) translate(-525,0)">10</text>
<text x="525.4" y="718.9" class="xs" transform="translate(525.4,0) scale(0.62,1) translate(-525.4,0)">2</text>
<text x="557.7" y="725.9" class="xl" text-anchor="end" transform="translate(557.7,0) scale(0.62,1) translate(-557.7,0)">10</text>
<text x="558.1" y="718.9" class="xs" transform="translate(558.1,0) scale(0.62,1) translate(-558.1,0)">3</text>
<text x="590.4" y="725.9" class="xl" text-anchor="end" transform="translate(590.4,0) scale(0.62,1) translate(-590.4,0)">10</text>
<text x="590.8" y="718.9" class="xs" transform="translate(590.8,0) scale(0.62,1) translate(-590.8,0)">4</text>
<text x="623.1" y="725.9" class="xl" text-anchor="end" transform="translate(623.1,0) scale(0.62,1) translate(-623.1,0)">10</text>
<text x="623.5" y="718.9" class="xs" transform="translate(623.5,0) scale(0.62,1) translate(-623.5,0)">5</text>
<path d="M662.8,704.2L662.8,696.57L663.35,696.57L663.35,697.65L663.9,697.65L663.9,696.83L664.45,696.83L664.45,697.1L665,697.1L665,697.38L665.55,697.38L665.55,698.29L666.1,698.29L666.1,695.74L666.65,695.74L666.65,694.92L667.2,694.92L667.2,693.54L667.75,693.54L667.75,692.44L668.3,692.44L668.3,692.38L668.85,692.38L668.85,691.19L669.4,691.19L669.4,692.33L669.95,692.33L669.95,690.77L670.5,690.77L670.5,691.21L671.05,691.21L671.05,690.32L671.6,690.32L671.6,684.96L672.15,684.96L672.15,685.68L672.7,685.68L672.7,688.58L673.25,688.58L673.25,680.5L673.8,680.5L673.8,677.59L674.35,677.59L674.35,675.73L674.9,675.73L674.9,676.16L675.45,676.16L675.45,676.52L676,676.52L676,677.08L676.55,677.08L676.55,678.06L677.1,678.06L677.1,681.72L677.65,681.72L677.65,678.3L678.2,678.3L678.2,673.28L678.75,673.28L678.75,672.04L679.3,672.04L679.3,670.85L679.85,670.85L679.85,669L680.4,669L680.4,667.19L680.95,667.19L680.95,666.65L681.5,666.65L681.5,665.47L682.05,665.47L682.05,665.53L682.6,665.53L682.6,665.23L683.15,665.23L683.15,669.66L683.7,669.66L683.7,671.2L684.25,671.2L684.25,659.6L684.8,659.6L684.8,661.49L685.35,661.49L685.35,657.71L685.9,657.71L685.9,660.01L686.45,660.01L686.45,652.23L687,652.23L687,652.03L687.55,652.03L687.55,646.6L688.1,646.6L688.1,644.34L688.65,644.34L688.65,651.37L689.2,651.37L689.2,641.84L689.75,641.84L689.75,639.78L690.3,639.78L690.3,643.3L690.85,643.3L690.85,633.99L691.4,633.99L691.4,634.62L691.95,634.62L691.95,628.02L692.5,628.02L692.5,631.33L693.05,631.33L693.05,630.37L693.6,630.37L693.6,627.27L694.15,627.27L694.15,630.52L694.7,630.52L694.7,636.42L695.25,636.42L695.25,632.03L695.8,632.03L695.8,626.45L696.35,626.45L696.35,620.07L696.9,620.07L696.9,617.09L697.45,617.09L697.45,619.5L698,619.5L698,618.36L698.55,618.36L698.55,613.13L699.1,613.13L699.1,610.62L699.65,610.62L699.65,607.71L700.2,607.71L700.2,615.44L700.75,615.44L700.75,604.33L701.3,604.33L701.3,615.32L701.85,615.32L701.85,607.08L702.4,607.08L702.4,604.2L702.95,604.2L702.95,604.61L703.5,604.61L703.5,600.56L704.05,600.56L704.05,592.63L704.6,592.63L704.6,595.48L705.15,595.48L705.15,588.28L705.7,588.28L705.7,588.28L706.25,588.28L706.25,595.34L706.8,595.34L706.8,609.39L707.35,609.39L707.35,586.4L707.9,586.4L707.9,594.97L708.45,594.97L708.45,590.83L709,590.83L709,602.01L709.55,602.01L709.55,594.51L710.1,594.51L710.1,602.24L710.65,602.24L710.65,601.08L711.2,601.08L711.2,609.5L711.75,609.5L711.75,611.63L712.3,611.63L712.3,615.87L712.85,615.87L712.85,627.68L713.4,627.68L713.4,643.63L713.95,643.63L713.95,639.53L714.5,639.53L714.5,646.84L715.05,646.84L715.05,654.17L715.6,654.17L715.6,660.45L716.15,660.45L716.15,666.19L716.7,666.19L716.7,672.59L717.25,672.59L717.25,682.34L717.8,682.34L717.8,686.04L718.35,686.04L718.35,692.38L718.9,692.38L718.9,694.27L719.45,694.27L719.45,693.46L720,693.46L720,695.43L720.55,695.43L720.55,697.84L721.1,697.84L721.1,698.16L721.65,698.16L721.65,699.9L722.2,699.9L722.2,699.63L722.75,699.63L722.75,700.86L723.3,700.86L723.3,702.24L723.85,702.24L723.85,702.65L724.4,702.65L724.4,703.06L724.95,703.06L724.95,703.86L725.5,703.86L725.5,702.35L726.05,702.35L726.25,704.2Z" fill="#989898" stroke="#555555" stroke-width="1.3" stroke-linejoin="miter"/>
<path d="M663.07,696.57v0.71M663.62,697.65v0.37M664.17,696.83v0.8M664.72,697.1v0.5M666.37,695.74v0.54M666.92,694.92v1.05M667.47,693.54v0.9M668.02,692.44v1.05M670.77,691.21v0.62M671.32,690.32v0.62M671.87,684.96v2.09M672.42,685.68v1.09M673.52,680.5v1.52M676.82,678.06v1.35M677.92,678.3v2.3M679.02,672.04v3.07M679.57,670.85v1.35M680.67,667.19v3.59M681.22,666.65v4.06M682.32,665.53v2.07M683.97,671.2v1.22M684.52,659.6v3.78M685.07,661.49v3.94M685.62,657.71v3.67M686.72,652.23v3.37M687.27,652.03v5.38M687.82,646.6v4.59M688.92,651.37v2.12M691.67,634.62v7.26M692.22,628.02v4.2M692.77,631.33v7.78M695.52,632.03v3.26M696.07,626.45v4.23M696.62,620.07v9.64M697.72,619.5v9.3M698.82,613.13v4.88M699.37,610.62v5.58M699.92,607.71v5.12M700.47,615.44v8.16M701.02,604.33v5.27M701.57,615.32v8.6M702.12,607.08v3.99M702.67,604.2v11.42M703.22,604.61v8.27M703.77,600.56v5.84M704.32,592.63v8.66M705.42,588.28v5.39M705.97,588.28v13.67M706.52,595.34v5.25M707.07,609.39v3.98M707.62,586.4v11.88M708.17,594.97v8.92M708.72,590.83v12.37M710.37,602.24v8.83M711.47,609.5v7.59M712.02,611.63v10.85M712.57,615.87v4.39M713.12,627.68v7M714.77,646.84v5.72M715.87,660.45v2.74M716.42,666.19v2.41M716.97,672.59v1.03M717.52,682.34v2.59M718.07,686.04v0.77M718.62,692.38v0.55M719.17,694.27v1.01M719.72,693.46v1.13M720.27,695.43v0.58M720.82,697.84v0.32M721.92,699.9v0.13M722.47,699.63v0.53M723.02,700.86v0.22" stroke="#555" stroke-width="0.55" fill="none" opacity="0.75"/>
<line x1="707.3" y1="585.9" x2="707.3" y2="592.8" stroke="#4a4a4a" stroke-width="0.8"/>
<path d="M661.8,585.9H791.2M661.8,585.9V704.2H791.2" fill="none" stroke="#1e1e1e" stroke-width="1.35"/>
<line x1="791.2" y1="585.9" x2="791.2" y2="704.2" stroke="#1e1e1e" stroke-width="1.35"/>
<path d="M654.8,704.2H661.8M657.8,698.15H661.8M657.8,692.1H661.8M657.8,686.05H661.8M657.8,680H661.8M654.8,673.95H661.8M657.8,667.9H661.8M657.8,661.85H661.8M657.8,655.8H661.8M657.8,649.75H661.8M654.8,643.7H661.8M657.8,637.65H661.8M657.8,631.6H661.8M657.8,625.55H661.8M657.8,619.5H661.8M654.8,613.45H661.8M657.8,607.4H661.8M657.8,601.35H661.8M657.8,595.3H661.8M657.8,589.25H661.8" stroke="#1e1e1e" stroke-width="1" fill="none"/>
<text transform="translate(654.6,704.2) rotate(-90) scale(1.2,0.93)" text-anchor="middle" class="yl">0</text>
<text transform="translate(654.6,673.95) rotate(-90) scale(1.2,0.93)" text-anchor="middle" class="yl">50</text>
<text transform="translate(654.6,643.7) rotate(-90) scale(1.2,0.93)" text-anchor="middle" class="yl">100</text>
<text transform="translate(654.6,613.45) rotate(-90) scale(1.2,0.93)" text-anchor="middle" class="yl">150</text>
<path d="M666.33,704.2V710.2M669.49,704.2V710.2M672.07,704.2V710.2M674.25,704.2V710.2M676.14,704.2V710.2M677.81,704.2V710.2M679.3,704.2V714.2M689.11,704.2V710.2M694.85,704.2V710.2M698.93,704.2V710.2M702.09,704.2V710.2M704.67,704.2V710.2M706.85,704.2V710.2M708.74,704.2V710.2M710.41,704.2V710.2M711.9,704.2V714.2M721.71,704.2V710.2M727.45,704.2V710.2M731.53,704.2V710.2M734.69,704.2V710.2M737.27,704.2V710.2M739.45,704.2V710.2M741.34,704.2V710.2M743.01,704.2V710.2M744.5,704.2V714.2M754.31,704.2V710.2M760.05,704.2V710.2M764.13,704.2V710.2M767.29,704.2V710.2M769.87,704.2V710.2M772.05,704.2V710.2M773.94,704.2V710.2M775.61,704.2V710.2M777.1,704.2V714.2M786.91,704.2V710.2" stroke="#1e1e1e" stroke-width="1" fill="none"/>
<text x="680.9" y="727.2" class="xl" text-anchor="end" transform="translate(680.9,0) scale(0.62,1) translate(-680.9,0)">10</text>
<text x="681.3" y="720.2" class="xs" transform="translate(681.3,0) scale(0.62,1) translate(-681.3,0)">2</text>
<text x="713.5" y="727.2" class="xl" text-anchor="end" transform="translate(713.5,0) scale(0.62,1) translate(-713.5,0)">10</text>
<text x="713.9" y="720.2" class="xs" transform="translate(713.9,0) scale(0.62,1) translate(-713.9,0)">3</text>
<text x="746.1" y="727.2" class="xl" text-anchor="end" transform="translate(746.1,0) scale(0.62,1) translate(-746.1,0)">10</text>
<text x="746.5" y="720.2" class="xs" transform="translate(746.5,0) scale(0.62,1) translate(-746.5,0)">4</text>
<text x="778.7" y="727.2" class="xl" text-anchor="end" transform="translate(778.7,0) scale(0.62,1) translate(-778.7,0)">10</text>
<text x="779.1" y="720.2" class="xs" transform="translate(779.1,0) scale(0.62,1) translate(-779.1,0)">5</text>
<text x="0.3" y="16.9" font-size="18.6" font-weight="bold" text-anchor="start" letter-spacing="0.45">(a)</text>
<text x="50.8" y="22.6" font-size="15.3" font-weight="normal" text-anchor="start" >PBS group</text>
<text x="205.1" y="22.6" font-size="15.3" font-weight="normal" text-anchor="start" >LPS group</text>
<text x="360.2" y="22" font-size="15.3" font-weight="normal" text-anchor="start" >PA-MSHA</text>
<text x="360.2" y="39.6" font-size="15.3" font-weight="normal" text-anchor="start" >group</text>
<text x="360.2" y="57.3" font-size="15.3">1.8&#215;10<tspan font-size="10" dy="-6.5">7</tspan><tspan dy="6.5">/ml</tspan></text>
<text x="514.4" y="22" font-size="15.3" font-weight="normal" text-anchor="start" >PA-MSHA</text>
<text x="514.4" y="39.6" font-size="15.3" font-weight="normal" text-anchor="start" >group</text>
<text x="514.4" y="57.3" font-size="15.3">7.2&#215;10<tspan font-size="10" dy="-6.5">7</tspan><tspan dy="6.5">/ml</tspan></text>
<text x="670" y="22" font-size="15.3" font-weight="normal" text-anchor="start" >PA-MSHA</text>
<text x="670" y="39.6" font-size="15.3" font-weight="normal" text-anchor="start" >group</text>
<text x="670" y="57.3" font-size="15.3">2.88&#215;10<tspan font-size="10" dy="-6.5">8</tspan><tspan dy="6.5">/ml</tspan></text>
<text transform="translate(13.1,158.7) rotate(-90)" font-size="15.3" font-weight="bold" text-anchor="middle">CD80</text>
<text transform="translate(13.1,329.7) rotate(-90)" font-size="15.3" font-weight="bold" text-anchor="middle">CD40</text>
<text transform="translate(13.1,498.3) rotate(-90)" font-size="15.3" font-weight="bold" text-anchor="middle">CD11c</text>
<text transform="translate(13.1,666.5) rotate(-90)" font-size="15.3" font-weight="bold" text-anchor="middle">HLR-DR</text>
<defs>
<pattern id="pchk" width="2" height="2" patternUnits="userSpaceOnUse"><rect width="2" height="2" fill="#cdcdcd"/><rect width="1" height="1" fill="#4a4a4a"/><rect x="1" y="1" width="1" height="1" fill="#4a4a4a"/></pattern>
<pattern id="pdiag" width="4.6" height="4.6" patternUnits="userSpaceOnUse"><rect width="4.6" height="4.6" fill="#fff"/><path d="M-1,-1L5.6,5.6M-1,3.6L1,5.6M3.6,-1L5.6,1" stroke="#1a1a1a" stroke-width="1.05"/></pattern>
<pattern id="pdot" width="4.8" height="4.8" patternUnits="userSpaceOnUse"><rect width="4.8" height="4.8" fill="#000"/><rect x="1.6" y="1.8" width="1" height="1" fill="#fff"/></pattern>
</defs>
<rect x="224.2" y="909.6" width="14.8" height="16.4" fill="url(#pchk)" stroke="#3a3a3a" stroke-width="0.9"/>
<rect x="239" y="860.1" width="15.6" height="65.9" fill="url(#pdiag)" stroke="#3a3a3a" stroke-width="0.9"/>
<rect x="254.6" y="897.2" width="13.6" height="28.8" fill="#fff" stroke="#3a3a3a" stroke-width="0.9"/>
<rect x="268.2" y="868" width="14.7" height="58" fill="#000" stroke="#3a3a3a" stroke-width="0.9"/>
<path d="M271.5,922.85h1.1v1.1h-1.1zM280.8,922.85h1.1v1.1h-1.1zM271.5,918.23h1.1v1.1h-1.1zM280.8,918.23h1.1v1.1h-1.1zM271.5,913.61h1.1v1.1h-1.1zM280.8,913.61h1.1v1.1h-1.1zM271.5,908.99h1.1v1.1h-1.1zM280.8,908.99h1.1v1.1h-1.1zM271.5,904.37h1.1v1.1h-1.1zM280.8,904.37h1.1v1.1h-1.1zM271.5,899.75h1.1v1.1h-1.1zM280.8,899.75h1.1v1.1h-1.1zM271.5,895.13h1.1v1.1h-1.1zM280.8,895.13h1.1v1.1h-1.1zM271.5,890.51h1.1v1.1h-1.1zM280.8,890.51h1.1v1.1h-1.1zM271.5,885.89h1.1v1.1h-1.1zM280.8,885.89h1.1v1.1h-1.1zM271.5,881.27h1.1v1.1h-1.1zM280.8,881.27h1.1v1.1h-1.1zM271.5,876.65h1.1v1.1h-1.1zM280.8,876.65h1.1v1.1h-1.1zM271.5,872.03h1.1v1.1h-1.1zM280.8,872.03h1.1v1.1h-1.1z" fill="#fff"/>
<path d="M276.15,920.55h1.1v1.1h-1.1zM276.15,915.93h1.1v1.1h-1.1zM276.15,911.31h1.1v1.1h-1.1zM276.15,906.69h1.1v1.1h-1.1zM276.15,902.07h1.1v1.1h-1.1zM276.15,897.45h1.1v1.1h-1.1zM276.15,892.83h1.1v1.1h-1.1zM276.15,888.21h1.1v1.1h-1.1zM276.15,883.59h1.1v1.1h-1.1zM276.15,878.97h1.1v1.1h-1.1zM276.15,874.35h1.1v1.1h-1.1zM276.15,869.73h1.1v1.1h-1.1z" fill="#b0b0b0"/>
<rect x="303.5" y="880.3" width="14.8" height="45.7" fill="url(#pchk)" stroke="#3a3a3a" stroke-width="0.9"/>
<rect x="318.3" y="805.4" width="15.2" height="120.6" fill="url(#pdiag)" stroke="#3a3a3a" stroke-width="0.9"/>
<rect x="333.5" y="862.6" width="13.8" height="63.4" fill="#fff" stroke="#3a3a3a" stroke-width="0.9"/>
<rect x="347.3" y="823" width="14.7" height="103" fill="#000" stroke="#3a3a3a" stroke-width="0.9"/>
<path d="M350.6,922.85h1.1v1.1h-1.1zM359.9,922.85h1.1v1.1h-1.1zM350.6,918.23h1.1v1.1h-1.1zM359.9,918.23h1.1v1.1h-1.1zM350.6,913.61h1.1v1.1h-1.1zM359.9,913.61h1.1v1.1h-1.1zM350.6,908.99h1.1v1.1h-1.1zM359.9,908.99h1.1v1.1h-1.1zM350.6,904.37h1.1v1.1h-1.1zM359.9,904.37h1.1v1.1h-1.1zM350.6,899.75h1.1v1.1h-1.1zM359.9,899.75h1.1v1.1h-1.1zM350.6,895.13h1.1v1.1h-1.1zM359.9,895.13h1.1v1.1h-1.1zM350.6,890.51h1.1v1.1h-1.1zM359.9,890.51h1.1v1.1h-1.1zM350.6,885.89h1.1v1.1h-1.1zM359.9,885.89h1.1v1.1h-1.1zM350.6,881.27h1.1v1.1h-1.1zM359.9,881.27h1.1v1.1h-1.1zM350.6,876.65h1.1v1.1h-1.1zM359.9,876.65h1.1v1.1h-1.1zM350.6,872.03h1.1v1.1h-1.1zM359.9,872.03h1.1v1.1h-1.1zM350.6,867.41h1.1v1.1h-1.1zM359.9,867.41h1.1v1.1h-1.1zM350.6,862.79h1.1v1.1h-1.1zM359.9,862.79h1.1v1.1h-1.1zM350.6,858.17h1.1v1.1h-1.1zM359.9,858.17h1.1v1.1h-1.1zM350.6,853.55h1.1v1.1h-1.1zM359.9,853.55h1.1v1.1h-1.1zM350.6,848.93h1.1v1.1h-1.1zM359.9,848.93h1.1v1.1h-1.1zM350.6,844.31h1.1v1.1h-1.1zM359.9,844.31h1.1v1.1h-1.1zM350.6,839.69h1.1v1.1h-1.1zM359.9,839.69h1.1v1.1h-1.1zM350.6,835.07h1.1v1.1h-1.1zM359.9,835.07h1.1v1.1h-1.1zM350.6,830.45h1.1v1.1h-1.1zM359.9,830.45h1.1v1.1h-1.1zM350.6,825.83h1.1v1.1h-1.1zM359.9,825.83h1.1v1.1h-1.1z" fill="#fff"/>
<path d="M355.25,920.55h1.1v1.1h-1.1zM355.25,915.93h1.1v1.1h-1.1zM355.25,911.31h1.1v1.1h-1.1zM355.25,906.69h1.1v1.1h-1.1zM355.25,902.07h1.1v1.1h-1.1zM355.25,897.45h1.1v1.1h-1.1zM355.25,892.83h1.1v1.1h-1.1zM355.25,888.21h1.1v1.1h-1.1zM355.25,883.59h1.1v1.1h-1.1zM355.25,878.97h1.1v1.1h-1.1zM355.25,874.35h1.1v1.1h-1.1zM355.25,869.73h1.1v1.1h-1.1zM355.25,865.11h1.1v1.1h-1.1zM355.25,860.49h1.1v1.1h-1.1zM355.25,855.87h1.1v1.1h-1.1zM355.25,851.25h1.1v1.1h-1.1zM355.25,846.63h1.1v1.1h-1.1zM355.25,842.01h1.1v1.1h-1.1zM355.25,837.39h1.1v1.1h-1.1zM355.25,832.77h1.1v1.1h-1.1zM355.25,828.15h1.1v1.1h-1.1z" fill="#b0b0b0"/>
<rect x="382.1" y="883.6" width="14.7" height="42.4" fill="url(#pchk)" stroke="#3a3a3a" stroke-width="0.9"/>
<rect x="396.8" y="842.5" width="14.6" height="83.5" fill="url(#pdiag)" stroke="#3a3a3a" stroke-width="0.9"/>
<rect x="411.4" y="862.1" width="14.1" height="63.9" fill="#fff" stroke="#3a3a3a" stroke-width="0.9"/>
<rect x="425.5" y="820" width="14.7" height="106" fill="#000" stroke="#3a3a3a" stroke-width="0.9"/>
<path d="M428.8,922.85h1.1v1.1h-1.1zM438.1,922.85h1.1v1.1h-1.1zM428.8,918.23h1.1v1.1h-1.1zM438.1,918.23h1.1v1.1h-1.1zM428.8,913.61h1.1v1.1h-1.1zM438.1,913.61h1.1v1.1h-1.1zM428.8,908.99h1.1v1.1h-1.1zM438.1,908.99h1.1v1.1h-1.1zM428.8,904.37h1.1v1.1h-1.1zM438.1,904.37h1.1v1.1h-1.1zM428.8,899.75h1.1v1.1h-1.1zM438.1,899.75h1.1v1.1h-1.1zM428.8,895.13h1.1v1.1h-1.1zM438.1,895.13h1.1v1.1h-1.1zM428.8,890.51h1.1v1.1h-1.1zM438.1,890.51h1.1v1.1h-1.1zM428.8,885.89h1.1v1.1h-1.1zM438.1,885.89h1.1v1.1h-1.1zM428.8,881.27h1.1v1.1h-1.1zM438.1,881.27h1.1v1.1h-1.1zM428.8,876.65h1.1v1.1h-1.1zM438.1,876.65h1.1v1.1h-1.1zM428.8,872.03h1.1v1.1h-1.1zM438.1,872.03h1.1v1.1h-1.1zM428.8,867.41h1.1v1.1h-1.1zM438.1,867.41h1.1v1.1h-1.1zM428.8,862.79h1.1v1.1h-1.1zM438.1,862.79h1.1v1.1h-1.1zM428.8,858.17h1.1v1.1h-1.1zM438.1,858.17h1.1v1.1h-1.1zM428.8,853.55h1.1v1.1h-1.1zM438.1,853.55h1.1v1.1h-1.1zM428.8,848.93h1.1v1.1h-1.1zM438.1,848.93h1.1v1.1h-1.1zM428.8,844.31h1.1v1.1h-1.1zM438.1,844.31h1.1v1.1h-1.1zM428.8,839.69h1.1v1.1h-1.1zM438.1,839.69h1.1v1.1h-1.1zM428.8,835.07h1.1v1.1h-1.1zM438.1,835.07h1.1v1.1h-1.1zM428.8,830.45h1.1v1.1h-1.1zM438.1,830.45h1.1v1.1h-1.1zM428.8,825.83h1.1v1.1h-1.1zM438.1,825.83h1.1v1.1h-1.1zM428.8,821.21h1.1v1.1h-1.1zM438.1,821.21h1.1v1.1h-1.1z" fill="#fff"/>
<path d="M433.45,920.55h1.1v1.1h-1.1zM433.45,915.93h1.1v1.1h-1.1zM433.45,911.31h1.1v1.1h-1.1zM433.45,906.69h1.1v1.1h-1.1zM433.45,902.07h1.1v1.1h-1.1zM433.45,897.45h1.1v1.1h-1.1zM433.45,892.83h1.1v1.1h-1.1zM433.45,888.21h1.1v1.1h-1.1zM433.45,883.59h1.1v1.1h-1.1zM433.45,878.97h1.1v1.1h-1.1zM433.45,874.35h1.1v1.1h-1.1zM433.45,869.73h1.1v1.1h-1.1zM433.45,865.11h1.1v1.1h-1.1zM433.45,860.49h1.1v1.1h-1.1zM433.45,855.87h1.1v1.1h-1.1zM433.45,851.25h1.1v1.1h-1.1zM433.45,846.63h1.1v1.1h-1.1zM433.45,842.01h1.1v1.1h-1.1zM433.45,837.39h1.1v1.1h-1.1zM433.45,832.77h1.1v1.1h-1.1zM433.45,828.15h1.1v1.1h-1.1zM433.45,823.53h1.1v1.1h-1.1z" fill="#b0b0b0"/>
<rect x="460.7" y="874.2" width="14.6" height="51.8" fill="url(#pchk)" stroke="#3a3a3a" stroke-width="0.9"/>
<rect x="475.3" y="802.4" width="15.1" height="123.6" fill="url(#pdiag)" stroke="#3a3a3a" stroke-width="0.9"/>
<rect x="490.4" y="839.4" width="13.9" height="86.6" fill="#fff" stroke="#3a3a3a" stroke-width="0.9"/>
<rect x="504.3" y="790.3" width="15.1" height="135.7" fill="#000" stroke="#3a3a3a" stroke-width="0.9"/>
<path d="M507.6,922.85h1.1v1.1h-1.1zM516.9,922.85h1.1v1.1h-1.1zM507.6,918.23h1.1v1.1h-1.1zM516.9,918.23h1.1v1.1h-1.1zM507.6,913.61h1.1v1.1h-1.1zM516.9,913.61h1.1v1.1h-1.1zM507.6,908.99h1.1v1.1h-1.1zM516.9,908.99h1.1v1.1h-1.1zM507.6,904.37h1.1v1.1h-1.1zM516.9,904.37h1.1v1.1h-1.1zM507.6,899.75h1.1v1.1h-1.1zM516.9,899.75h1.1v1.1h-1.1zM507.6,895.13h1.1v1.1h-1.1zM516.9,895.13h1.1v1.1h-1.1zM507.6,890.51h1.1v1.1h-1.1zM516.9,890.51h1.1v1.1h-1.1zM507.6,885.89h1.1v1.1h-1.1zM516.9,885.89h1.1v1.1h-1.1zM507.6,881.27h1.1v1.1h-1.1zM516.9,881.27h1.1v1.1h-1.1zM507.6,876.65h1.1v1.1h-1.1zM516.9,876.65h1.1v1.1h-1.1zM507.6,872.03h1.1v1.1h-1.1zM516.9,872.03h1.1v1.1h-1.1zM507.6,867.41h1.1v1.1h-1.1zM516.9,867.41h1.1v1.1h-1.1zM507.6,862.79h1.1v1.1h-1.1zM516.9,862.79h1.1v1.1h-1.1zM507.6,858.17h1.1v1.1h-1.1zM516.9,858.17h1.1v1.1h-1.1zM507.6,853.55h1.1v1.1h-1.1zM516.9,853.55h1.1v1.1h-1.1zM507.6,848.93h1.1v1.1h-1.1zM516.9,848.93h1.1v1.1h-1.1zM507.6,844.31h1.1v1.1h-1.1zM516.9,844.31h1.1v1.1h-1.1zM507.6,839.69h1.1v1.1h-1.1zM516.9,839.69h1.1v1.1h-1.1zM507.6,835.07h1.1v1.1h-1.1zM516.9,835.07h1.1v1.1h-1.1zM507.6,830.45h1.1v1.1h-1.1zM516.9,830.45h1.1v1.1h-1.1zM507.6,825.83h1.1v1.1h-1.1zM516.9,825.83h1.1v1.1h-1.1zM507.6,821.21h1.1v1.1h-1.1zM516.9,821.21h1.1v1.1h-1.1zM507.6,816.59h1.1v1.1h-1.1zM516.9,816.59h1.1v1.1h-1.1zM507.6,811.97h1.1v1.1h-1.1zM516.9,811.97h1.1v1.1h-1.1zM507.6,807.35h1.1v1.1h-1.1zM516.9,807.35h1.1v1.1h-1.1zM507.6,802.73h1.1v1.1h-1.1zM516.9,802.73h1.1v1.1h-1.1zM507.6,798.11h1.1v1.1h-1.1zM516.9,798.11h1.1v1.1h-1.1zM507.6,793.49h1.1v1.1h-1.1zM516.9,793.49h1.1v1.1h-1.1z" fill="#fff"/>
<path d="M512.25,920.55h1.1v1.1h-1.1zM512.25,915.93h1.1v1.1h-1.1zM512.25,911.31h1.1v1.1h-1.1zM512.25,906.69h1.1v1.1h-1.1zM512.25,902.07h1.1v1.1h-1.1zM512.25,897.45h1.1v1.1h-1.1zM512.25,892.83h1.1v1.1h-1.1zM512.25,888.21h1.1v1.1h-1.1zM512.25,883.59h1.1v1.1h-1.1zM512.25,878.97h1.1v1.1h-1.1zM512.25,874.35h1.1v1.1h-1.1zM512.25,869.73h1.1v1.1h-1.1zM512.25,865.11h1.1v1.1h-1.1zM512.25,860.49h1.1v1.1h-1.1zM512.25,855.87h1.1v1.1h-1.1zM512.25,851.25h1.1v1.1h-1.1zM512.25,846.63h1.1v1.1h-1.1zM512.25,842.01h1.1v1.1h-1.1zM512.25,837.39h1.1v1.1h-1.1zM512.25,832.77h1.1v1.1h-1.1zM512.25,828.15h1.1v1.1h-1.1zM512.25,823.53h1.1v1.1h-1.1zM512.25,818.91h1.1v1.1h-1.1zM512.25,814.29h1.1v1.1h-1.1zM512.25,809.67h1.1v1.1h-1.1zM512.25,805.05h1.1v1.1h-1.1zM512.25,800.43h1.1v1.1h-1.1zM512.25,795.81h1.1v1.1h-1.1z" fill="#b0b0b0"/>
<rect x="539.6" y="894.4" width="14.6" height="31.6" fill="url(#pchk)" stroke="#3a3a3a" stroke-width="0.9"/>
<rect x="554.2" y="828.9" width="15.2" height="97.1" fill="url(#pdiag)" stroke="#3a3a3a" stroke-width="0.9"/>
<rect x="569.4" y="857.6" width="14.4" height="68.4" fill="#fff" stroke="#3a3a3a" stroke-width="0.9"/>
<rect x="583.8" y="810" width="14.6" height="116" fill="#000" stroke="#3a3a3a" stroke-width="0.9"/>
<path d="M587.1,922.85h1.1v1.1h-1.1zM596.4,922.85h1.1v1.1h-1.1zM587.1,918.23h1.1v1.1h-1.1zM596.4,918.23h1.1v1.1h-1.1zM587.1,913.61h1.1v1.1h-1.1zM596.4,913.61h1.1v1.1h-1.1zM587.1,908.99h1.1v1.1h-1.1zM596.4,908.99h1.1v1.1h-1.1zM587.1,904.37h1.1v1.1h-1.1zM596.4,904.37h1.1v1.1h-1.1zM587.1,899.75h1.1v1.1h-1.1zM596.4,899.75h1.1v1.1h-1.1zM587.1,895.13h1.1v1.1h-1.1zM596.4,895.13h1.1v1.1h-1.1zM587.1,890.51h1.1v1.1h-1.1zM596.4,890.51h1.1v1.1h-1.1zM587.1,885.89h1.1v1.1h-1.1zM596.4,885.89h1.1v1.1h-1.1zM587.1,881.27h1.1v1.1h-1.1zM596.4,881.27h1.1v1.1h-1.1zM587.1,876.65h1.1v1.1h-1.1zM596.4,876.65h1.1v1.1h-1.1zM587.1,872.03h1.1v1.1h-1.1zM596.4,872.03h1.1v1.1h-1.1zM587.1,867.41h1.1v1.1h-1.1zM596.4,867.41h1.1v1.1h-1.1zM587.1,862.79h1.1v1.1h-1.1zM596.4,862.79h1.1v1.1h-1.1zM587.1,858.17h1.1v1.1h-1.1zM596.4,858.17h1.1v1.1h-1.1zM587.1,853.55h1.1v1.1h-1.1zM596.4,853.55h1.1v1.1h-1.1zM587.1,848.93h1.1v1.1h-1.1zM596.4,848.93h1.1v1.1h-1.1zM587.1,844.31h1.1v1.1h-1.1zM596.4,844.31h1.1v1.1h-1.1zM587.1,839.69h1.1v1.1h-1.1zM596.4,839.69h1.1v1.1h-1.1zM587.1,835.07h1.1v1.1h-1.1zM596.4,835.07h1.1v1.1h-1.1zM587.1,830.45h1.1v1.1h-1.1zM596.4,830.45h1.1v1.1h-1.1zM587.1,825.83h1.1v1.1h-1.1zM596.4,825.83h1.1v1.1h-1.1zM587.1,821.21h1.1v1.1h-1.1zM596.4,821.21h1.1v1.1h-1.1zM587.1,816.59h1.1v1.1h-1.1zM596.4,816.59h1.1v1.1h-1.1zM587.1,811.97h1.1v1.1h-1.1zM596.4,811.97h1.1v1.1h-1.1z" fill="#fff"/>
<path d="M591.75,920.55h1.1v1.1h-1.1zM591.75,915.93h1.1v1.1h-1.1zM591.75,911.31h1.1v1.1h-1.1zM591.75,906.69h1.1v1.1h-1.1zM591.75,902.07h1.1v1.1h-1.1zM591.75,897.45h1.1v1.1h-1.1zM591.75,892.83h1.1v1.1h-1.1zM591.75,888.21h1.1v1.1h-1.1zM591.75,883.59h1.1v1.1h-1.1zM591.75,878.97h1.1v1.1h-1.1zM591.75,874.35h1.1v1.1h-1.1zM591.75,869.73h1.1v1.1h-1.1zM591.75,865.11h1.1v1.1h-1.1zM591.75,860.49h1.1v1.1h-1.1zM591.75,855.87h1.1v1.1h-1.1zM591.75,851.25h1.1v1.1h-1.1zM591.75,846.63h1.1v1.1h-1.1zM591.75,842.01h1.1v1.1h-1.1zM591.75,837.39h1.1v1.1h-1.1zM591.75,832.77h1.1v1.1h-1.1zM591.75,828.15h1.1v1.1h-1.1zM591.75,823.53h1.1v1.1h-1.1zM591.75,818.91h1.1v1.1h-1.1zM591.75,814.29h1.1v1.1h-1.1z" fill="#b0b0b0"/>
<path d="M231.6,908.4V910.8M228.2,908.4H235M228.2,910.8H235" stroke="#3a3a3a" stroke-width="1" fill="none"/>
<path d="M246.8,856.5V863.7M243.4,856.5H250.2M243.4,863.7H250.2" stroke="#3a3a3a" stroke-width="1" fill="none"/>
<path d="M261.4,895.2V899.2M258,895.2H264.8M258,899.2H264.8" stroke="#3a3a3a" stroke-width="1" fill="none"/>
<path d="M275.55,864.2V871.8M272.15,864.2H278.95M272.15,871.8H278.95" stroke="#3a3a3a" stroke-width="1" fill="none"/>
<path d="M310.9,877.4V883.2M307.5,877.4H314.3M307.5,883.2H314.3" stroke="#3a3a3a" stroke-width="1" fill="none"/>
<path d="M310.3,860.8L310.3,867.4M307.44,862.45L313.16,865.75M313.16,862.45L307.44,865.75" stroke="#4a4a4a" stroke-width="1.0" stroke-linecap="round" fill="none"/>
<path d="M325.9,798.4V812.4M322.5,798.4H329.3M322.5,812.4H329.3" stroke="#3a3a3a" stroke-width="1" fill="none"/>
<path d="M325.4,781.3L325.4,787.9M322.54,782.95L328.26,786.25M328.26,782.95L322.54,786.25" stroke="#4a4a4a" stroke-width="1.0" stroke-linecap="round" fill="none"/>
<path d="M340.4,858.6V866.6M337,858.6H343.8M337,866.6H343.8" stroke="#3a3a3a" stroke-width="1" fill="none"/>
<path d="M340,838.1L340,844.7M337.14,839.75L342.86,843.05M342.86,839.75L337.14,843.05" stroke="#4a4a4a" stroke-width="1.0" stroke-linecap="round" fill="none"/>
<path d="M354.65,817V829M351.25,817H358.05M351.25,829H358.05" stroke="#3a3a3a" stroke-width="1" fill="none"/>
<path d="M353.6,792.7L353.6,799.3M350.74,794.35L356.46,797.65M356.46,794.35L350.74,797.65" stroke="#4a4a4a" stroke-width="1.0" stroke-linecap="round" fill="none"/>
<path d="M389.45,881.1V886.1M386.05,881.1H392.85M386.05,886.1H392.85" stroke="#3a3a3a" stroke-width="1" fill="none"/>
<path d="M388.4,860.8L388.4,867.4M385.54,862.45L391.26,865.75M391.26,862.45L385.54,865.75" stroke="#4a4a4a" stroke-width="1.0" stroke-linecap="round" fill="none"/>
<path d="M404.1,837V848M400.7,837H407.5M400.7,848H407.5" stroke="#3a3a3a" stroke-width="1" fill="none"/>
<path d="M403.6,815.9L403.6,822.5M400.74,817.55L406.46,820.85M406.46,817.55L400.74,820.85" stroke="#4a4a4a" stroke-width="1.0" stroke-linecap="round" fill="none"/>
<path d="M418.45,858.1V866.1M415.05,858.1H421.85M415.05,866.1H421.85" stroke="#3a3a3a" stroke-width="1" fill="none"/>
<path d="M418.2,838.1L418.2,844.7M415.34,839.75L421.06,843.05M421.06,839.75L415.34,843.05" stroke="#4a4a4a" stroke-width="1.0" stroke-linecap="round" fill="none"/>
<path d="M432.85,813V827M429.45,813H436.25M429.45,827H436.25" stroke="#3a3a3a" stroke-width="1" fill="none"/>
<path d="M431.8,792.7L431.8,799.3M428.94,794.35L434.66,797.65M434.66,794.35L428.94,797.65" stroke="#4a4a4a" stroke-width="1.0" stroke-linecap="round" fill="none"/>
<path d="M468,871.2V877.2M464.6,871.2H471.4M464.6,877.2H471.4" stroke="#3a3a3a" stroke-width="1" fill="none"/>
<path d="M467,849.4L467,856M464.14,851.05L469.86,854.35M469.86,851.05L464.14,854.35" stroke="#4a4a4a" stroke-width="1.0" stroke-linecap="round" fill="none"/>
<path d="M482.85,794.4V810.4M479.45,794.4H486.25M479.45,810.4H486.25" stroke="#3a3a3a" stroke-width="1" fill="none"/>
<path d="M482.4,781.3L482.4,787.9M479.54,782.95L485.26,786.25M485.26,782.95L479.54,786.25" stroke="#4a4a4a" stroke-width="1.0" stroke-linecap="round" fill="none"/>
<path d="M497.35,834.4V844.4M493.95,834.4H500.75M493.95,844.4H500.75" stroke="#3a3a3a" stroke-width="1" fill="none"/>
<path d="M497.3,815.9L497.3,822.5M494.44,817.55L500.16,820.85M500.16,817.55L494.44,820.85" stroke="#4a4a4a" stroke-width="1.0" stroke-linecap="round" fill="none"/>
<path d="M511.85,782.7V797.9M508.45,782.7H515.25M508.45,797.9H515.25" stroke="#3a3a3a" stroke-width="1" fill="none"/>
<path d="M510.1,770L510.1,776.6M507.24,771.65L512.96,774.95M512.96,771.65L507.24,774.95" stroke="#4a4a4a" stroke-width="1.0" stroke-linecap="round" fill="none"/>
<path d="M546.9,891.9V896.9M543.5,891.9H550.3M543.5,896.9H550.3" stroke="#3a3a3a" stroke-width="1" fill="none"/>
<path d="M545.4,872.1L545.4,878.7M542.54,873.75L548.26,877.05M548.26,873.75L542.54,877.05" stroke="#4a4a4a" stroke-width="1.0" stroke-linecap="round" fill="none"/>
<path d="M561.8,822.9V834.9M558.4,822.9H565.2M558.4,834.9H565.2" stroke="#3a3a3a" stroke-width="1" fill="none"/>
<path d="M562.3,804L562.3,810.6M559.44,805.65L565.16,808.95M565.16,805.65L559.44,808.95" stroke="#4a4a4a" stroke-width="1.0" stroke-linecap="round" fill="none"/>
<path d="M576.6,853.2V862M573.2,853.2H580M573.2,862H580" stroke="#3a3a3a" stroke-width="1" fill="none"/>
<path d="M575.4,838.1L575.4,844.7M572.54,839.75L578.26,843.05M578.26,839.75L572.54,843.05" stroke="#4a4a4a" stroke-width="1.0" stroke-linecap="round" fill="none"/>
<path d="M591.1,803V817M587.7,803H594.5M587.7,817H594.5" stroke="#3a3a3a" stroke-width="1" fill="none"/>
<path d="M588.8,781.3L588.8,787.9M585.94,782.95L591.66,786.25M591.66,782.95L585.94,786.25" stroke="#4a4a4a" stroke-width="1.0" stroke-linecap="round" fill="none"/>
<path d="M214.5,771.3V926H609" stroke="#555" stroke-width="1.2" fill="none"/>
<path d="M214.5,926H219.3M214.5,906.66H219.3M214.5,887.33H219.3M214.5,867.99H219.3M214.5,848.65H219.3M214.5,829.31H219.3M214.5,809.97H219.3M214.5,790.64H219.3M214.5,771.3H219.3M293.4,926V921.6M372.8,926V921.6M451.3,926V921.6M530,926V921.6M609,926V921.6" stroke="#555" stroke-width="1.1" fill="none"/>
<text x="208.4" y="930.5" font-size="13.3" text-anchor="end">0</text>
<text x="208.4" y="911.16" font-size="13.3" text-anchor="end">100</text>
<text x="208.4" y="891.83" font-size="13.3" text-anchor="end">200</text>
<text x="208.4" y="872.49" font-size="13.3" text-anchor="end">300</text>
<text x="208.4" y="853.15" font-size="13.3" text-anchor="end">400</text>
<text x="208.4" y="833.81" font-size="13.3" text-anchor="end">500</text>
<text x="208.4" y="814.47" font-size="13.3" text-anchor="end">600</text>
<text x="208.4" y="795.14" font-size="13.3" text-anchor="end">700</text>
<text x="208.4" y="775.8" font-size="13.3" text-anchor="end">800</text>
<text transform="translate(255.8,949.9) scale(1,1.12)" font-size="13.4" text-anchor="middle">PBS</text>
<text transform="translate(338.2,949.9) scale(1,1.12)" font-size="13.4" text-anchor="middle">LPS</text>
<text transform="translate(420.5,949.9) scale(1,1.12)" font-size="13.4" text-anchor="middle">A</text>
<text transform="translate(500.8,949.9) scale(1,1.12)" font-size="13.4" text-anchor="middle">B</text>
<text transform="translate(582.4,949.9) scale(1,1.12)" font-size="13.4" text-anchor="middle">C</text>
<text x="420.4" y="971.3" font-size="15.4" font-weight="normal" text-anchor="middle" >Group</text>
<text transform="translate(159.3,849) rotate(-90)" font-size="15.9" text-anchor="middle">Mean fluorescence</text>
<text transform="translate(174.5,849.5) rotate(-90)" font-size="15.9" text-anchor="middle">intensity (MFI)</text>
<text x="144.3" y="773.9" font-size="18.3" font-weight="bold" text-anchor="start" letter-spacing="1.1">(b)</text>
<rect x="622.4" y="818.9" width="9.4" height="9.2" fill="url(#pchk)" stroke="#3a3a3a" stroke-width="0.9"/>
<text transform="translate(635.2,827.9) scale(1,1.12)" font-size="13.5">CD11c</text>
<rect x="622.4" y="836.9" width="9.4" height="9.2" fill="url(#pdiag)" stroke="#3a3a3a" stroke-width="0.9"/>
<text transform="translate(635.2,845.9) scale(1,1.12)" font-size="13.5">HLA-DR</text>
<rect x="622.4" y="854.7" width="9.4" height="9.2" fill="#fff" stroke="#3a3a3a" stroke-width="0.9"/>
<text transform="translate(635.2,863.7) scale(1,1.12)" font-size="13.5">CD80</text>
<rect x="622.4" y="872.3" width="9.4" height="9.2" fill="#000" stroke="#3a3a3a" stroke-width="0.9"/>
<path d="M624.6,874.5h1.1v1.1h-1.1zM628.6,874.5h1.1v1.1h-1.1zM624.6,878.3h1.1v1.1h-1.1zM628.6,878.3h1.1v1.1h-1.1z" fill="#fff"/>
<text transform="translate(635.2,881.3) scale(1,1.12)" font-size="13.5">CD40</text></svg>
</body></html>
